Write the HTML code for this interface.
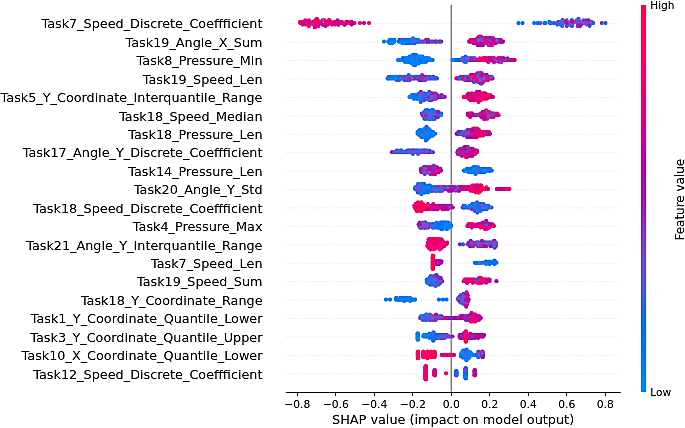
<!DOCTYPE html>
<html lang="en"><head><meta charset="utf-8"><title>SHAP summary plot</title>
<style>
html,body{margin:0;padding:0;background:#fff}
body{width:685px;height:428px;overflow:hidden}
svg{display:block;font-family:"DejaVu Sans","Liberation Sans",sans-serif}
.yl{font-size:12.8px;fill:#0d0d0d;text-anchor:end}
.xt{font-size:10.75px;fill:#0d0d0d;text-anchor:middle}
.xl{font-size:12.83px;fill:#0d0d0d;text-anchor:middle}
.cb{font-size:10.6px;fill:#0d0d0d}
.fv{font-size:11.95px;fill:#0d0d0d;text-anchor:middle}
.gl{stroke:#e3e3e3;stroke-width:.8;stroke-dasharray:1 1.94}
.ax{stroke:#262626;stroke-width:1}
</style></head><body>
<svg width="685" height="428" viewBox="0 0 685 428">
<defs><linearGradient id="cbg" x1="0" y1="1" x2="0" y2="0"><stop offset="0.000" stop-color="#008bfb"/><stop offset="0.064" stop-color="#0082f8"/><stop offset="0.128" stop-color="#0078f3"/><stop offset="0.191" stop-color="#186eec"/><stop offset="0.255" stop-color="#4e62e2"/><stop offset="0.319" stop-color="#6a56d7"/><stop offset="0.383" stop-color="#8047ca"/><stop offset="0.447" stop-color="#9036bb"/><stop offset="0.511" stop-color="#9f21ac"/><stop offset="0.574" stop-color="#b30ca4"/><stop offset="0.638" stop-color="#c5009a"/><stop offset="0.702" stop-color="#d5008f"/><stop offset="0.766" stop-color="#e30083"/><stop offset="0.830" stop-color="#ef0076"/><stop offset="0.894" stop-color="#f80069"/><stop offset="0.957" stop-color="#ff005b"/><stop offset="1" stop-color="#ff0051"/></linearGradient>
<filter id="usm" x="0" y="0" width="685" height="428" filterUnits="userSpaceOnUse" color-interpolation-filters="sRGB"><feGaussianBlur in="SourceGraphic" stdDeviation="0.42" result="s"/><feGaussianBlur in="s" stdDeviation="1.1" result="b"/><feComposite in="s" in2="b" operator="arithmetic" k1="0" k2="1.7" k3="-0.7" k4="0"/></filter></defs>
<g filter="url(#usm)">
<rect width="685" height="428" fill="#fff"/>
<g class="gl"><line x1="286" x2="618.6" y1="23.65" y2="23.65"/><line x1="286" x2="618.6" y1="42.08" y2="42.08"/><line x1="286" x2="618.6" y1="60.51" y2="60.51"/><line x1="286" x2="618.6" y1="78.94" y2="78.94"/><line x1="286" x2="618.6" y1="97.37" y2="97.37"/><line x1="286" x2="618.6" y1="115.80" y2="115.80"/><line x1="286" x2="618.6" y1="134.23" y2="134.23"/><line x1="286" x2="618.6" y1="152.66" y2="152.66"/><line x1="286" x2="618.6" y1="171.09" y2="171.09"/><line x1="286" x2="618.6" y1="189.52" y2="189.52"/><line x1="286" x2="618.6" y1="207.95" y2="207.95"/><line x1="286" x2="618.6" y1="226.38" y2="226.38"/><line x1="286" x2="618.6" y1="244.81" y2="244.81"/><line x1="286" x2="618.6" y1="263.24" y2="263.24"/><line x1="286" x2="618.6" y1="281.67" y2="281.67"/><line x1="286" x2="618.6" y1="300.10" y2="300.10"/><line x1="286" x2="618.6" y1="318.53" y2="318.53"/><line x1="286" x2="618.6" y1="336.96" y2="336.96"/><line x1="286" x2="618.6" y1="355.39" y2="355.39"/><line x1="286" x2="618.6" y1="373.82" y2="373.82"/></g>
<line x1="451.2" x2="451.2" y1="5.0" y2="392.0" stroke="#8c8c8c" stroke-width="1.3"/>
<g id="dots">
<g><circle cx="323.2" cy="24.6" r="2.05" fill="#d00093"/><circle cx="569.2" cy="24.6" r="2.05" fill="#4166e6"/><circle cx="589.6" cy="26.0" r="2.05" fill="#625adb"/><circle cx="582.0" cy="21.7" r="2.05" fill="#8047ca"/><circle cx="360.0" cy="23.1" r="2.10" fill="#eb007a"/><circle cx="549.9" cy="23.1" r="2.05" fill="#186eec"/><circle cx="585.5" cy="23.1" r="2.05" fill="#ba00a0"/><circle cx="344.8" cy="24.6" r="2.05" fill="#ba00a0"/><circle cx="330.8" cy="21.7" r="2.05" fill="#f80069"/><circle cx="566.8" cy="26.0" r="2.05" fill="#9036bb"/><circle cx="329.4" cy="23.1" r="2.05" fill="#da008b"/><circle cx="544.3" cy="23.1" r="2.05" fill="#794cce"/><circle cx="577.6" cy="26.0" r="2.05" fill="#8b3cc0"/><circle cx="565.0" cy="23.1" r="2.05" fill="#008bfb"/><circle cx="566.7" cy="20.2" r="2.05" fill="#794cce"/><circle cx="315.2" cy="20.2" r="2.05" fill="#e30083"/><circle cx="312.0" cy="23.1" r="2.05" fill="#eb007a"/><circle cx="322.4" cy="24.6" r="2.05" fill="#9036bb"/><circle cx="315.5" cy="24.6" r="2.05" fill="#ba00a0"/><circle cx="312.9" cy="21.7" r="2.05" fill="#c5009a"/><circle cx="327.4" cy="21.7" r="2.05" fill="#cb0096"/><circle cx="583.4" cy="20.2" r="2.05" fill="#625adb"/><circle cx="562.4" cy="20.2" r="2.05" fill="#9928b0"/><circle cx="341.8" cy="21.7" r="2.05" fill="#f5006d"/><circle cx="319.9" cy="23.1" r="2.05" fill="#eb007a"/><circle cx="325.8" cy="23.1" r="2.05" fill="#f80069"/><circle cx="307.6" cy="23.1" r="2.05" fill="#df0087"/><circle cx="601.8" cy="23.1" r="2.10" fill="#8047ca"/><circle cx="369.0" cy="23.1" r="2.10" fill="#eb007a"/><circle cx="326.0" cy="21.7" r="2.05" fill="#ef0076"/><circle cx="522.5" cy="23.1" r="2.10" fill="#0078f3"/><circle cx="318.5" cy="26.0" r="2.05" fill="#d5008f"/><circle cx="578.7" cy="20.2" r="2.05" fill="#794cce"/><circle cx="566.8" cy="21.7" r="2.05" fill="#007ff6"/><circle cx="584.4" cy="21.7" r="2.05" fill="#9f21ac"/><circle cx="562.2" cy="26.0" r="2.05" fill="#7251d3"/><circle cx="313.1" cy="24.6" r="2.05" fill="#8b3cc0"/><circle cx="342.7" cy="23.1" r="2.05" fill="#d00093"/><circle cx="578.0" cy="24.6" r="2.05" fill="#7251d3"/><circle cx="309.3" cy="24.6" r="2.05" fill="#da008b"/><circle cx="305.2" cy="20.2" r="2.05" fill="#df0087"/><circle cx="308.5" cy="21.7" r="2.05" fill="#8642c5"/><circle cx="314.9" cy="27.5" r="2.05" fill="#e30083"/><circle cx="553.8" cy="23.1" r="2.05" fill="#186eec"/><circle cx="558.5" cy="21.7" r="2.05" fill="#794cce"/><circle cx="309.3" cy="23.1" r="2.05" fill="#e30083"/><circle cx="571.7" cy="20.2" r="2.05" fill="#4166e6"/><circle cx="587.4" cy="21.7" r="2.05" fill="#6a56d7"/><circle cx="354.5" cy="23.1" r="2.05" fill="#f20072"/><circle cx="586.6" cy="24.6" r="2.05" fill="#007bf5"/><circle cx="574.9" cy="21.7" r="2.05" fill="#952fb5"/><circle cx="572.0" cy="26.0" r="2.05" fill="#0071ee"/><circle cx="324.5" cy="20.2" r="2.05" fill="#ef0076"/><circle cx="308.9" cy="20.2" r="2.05" fill="#eb007a"/><circle cx="321.0" cy="23.1" r="2.05" fill="#c0009d"/><circle cx="581.1" cy="24.6" r="2.05" fill="#a61ca9"/><circle cx="305.5" cy="24.6" r="2.05" fill="#f5006d"/><circle cx="352.8" cy="23.1" r="2.05" fill="#d00093"/><circle cx="580.5" cy="23.1" r="2.05" fill="#595edf"/><circle cx="322.5" cy="20.2" r="2.05" fill="#794cce"/><circle cx="340.8" cy="23.1" r="2.05" fill="#e7007f"/><circle cx="518.5" cy="23.1" r="2.10" fill="#007bf5"/><circle cx="300.2" cy="21.7" r="2.05" fill="#da008b"/><circle cx="580.0" cy="26.0" r="2.05" fill="#b30ca4"/><circle cx="338.1" cy="24.6" r="2.05" fill="#d5008f"/><circle cx="328.0" cy="24.6" r="2.05" fill="#f20072"/><circle cx="316.9" cy="18.8" r="2.05" fill="#d5008f"/><circle cx="334.6" cy="21.7" r="2.05" fill="#e7007f"/><circle cx="586.3" cy="20.2" r="2.05" fill="#9036bb"/><circle cx="593.2" cy="23.1" r="2.05" fill="#0071ee"/><circle cx="551.2" cy="23.1" r="2.05" fill="#595edf"/><circle cx="329.6" cy="20.2" r="2.05" fill="#ef0076"/><circle cx="338.3" cy="23.1" r="2.05" fill="#c5009a"/><circle cx="568.4" cy="24.6" r="2.05" fill="#007bf5"/><circle cx="325.5" cy="26.0" r="2.05" fill="#c5009a"/><circle cx="605.4" cy="23.1" r="2.10" fill="#186eec"/><circle cx="316.1" cy="26.0" r="2.05" fill="#ff0051"/><circle cx="351.7" cy="24.6" r="2.05" fill="#ad15a7"/><circle cx="348.1" cy="21.7" r="2.05" fill="#ff0051"/><circle cx="556.9" cy="23.1" r="2.05" fill="#8642c5"/><circle cx="562.9" cy="24.6" r="2.05" fill="#008bfb"/><circle cx="328.5" cy="20.2" r="2.05" fill="#eb007a"/><circle cx="589.4" cy="23.1" r="2.05" fill="#7251d3"/><circle cx="332.9" cy="23.1" r="2.05" fill="#b30ca4"/><circle cx="317.4" cy="24.6" r="2.05" fill="#da008b"/><circle cx="572.9" cy="23.1" r="2.05" fill="#794cce"/><circle cx="576.5" cy="20.2" r="2.05" fill="#595edf"/><circle cx="572.0" cy="20.2" r="2.05" fill="#625adb"/><circle cx="326.4" cy="23.1" r="2.05" fill="#f80069"/><circle cx="589.6" cy="24.6" r="2.05" fill="#9f21ac"/><circle cx="334.9" cy="24.6" r="2.05" fill="#df0087"/><circle cx="307.7" cy="21.7" r="2.05" fill="#d5008f"/><circle cx="351.6" cy="21.7" r="2.05" fill="#d00093"/><circle cx="577.2" cy="23.1" r="2.05" fill="#7251d3"/><circle cx="340.0" cy="21.7" r="2.05" fill="#f20072"/><circle cx="338.5" cy="24.6" r="2.05" fill="#cb0096"/><circle cx="567.6" cy="23.1" r="2.05" fill="#b30ca4"/><circle cx="308.8" cy="26.0" r="2.05" fill="#ef0076"/><circle cx="332.1" cy="24.6" r="2.05" fill="#e7007f"/><circle cx="346.3" cy="21.7" r="2.05" fill="#c0009d"/><circle cx="545.7" cy="23.1" r="2.05" fill="#007ff6"/><circle cx="300.3" cy="23.1" r="2.05" fill="#d00093"/><circle cx="348.8" cy="23.1" r="2.05" fill="#e30083"/><circle cx="364.0" cy="23.1" r="2.10" fill="#ba00a0"/><circle cx="540.3" cy="23.1" r="2.05" fill="#595edf"/><circle cx="588.6" cy="20.2" r="2.05" fill="#9928b0"/><circle cx="301.9" cy="21.7" r="2.05" fill="#fb0064"/><circle cx="344.3" cy="24.6" r="2.05" fill="#9928b0"/><circle cx="562.8" cy="20.2" r="2.05" fill="#8642c5"/><circle cx="591.8" cy="23.1" r="2.05" fill="#625adb"/><circle cx="534.2" cy="23.1" r="2.05" fill="#007bf5"/><circle cx="565.4" cy="21.7" r="2.05" fill="#c5009a"/><circle cx="591.4" cy="21.7" r="2.05" fill="#6a56d7"/><circle cx="302.6" cy="24.6" r="2.05" fill="#df0087"/><circle cx="549.4" cy="21.7" r="2.05" fill="#0082f8"/><circle cx="337.5" cy="20.2" r="2.05" fill="#ad15a7"/><circle cx="316.2" cy="23.1" r="2.05" fill="#da008b"/><circle cx="569.7" cy="23.1" r="2.05" fill="#8642c5"/><circle cx="572.2" cy="24.6" r="2.05" fill="#625adb"/><circle cx="315.2" cy="21.7" r="2.05" fill="#ff0051"/><circle cx="338.0" cy="21.7" r="2.05" fill="#cb0096"/><circle cx="303.8" cy="23.1" r="2.05" fill="#d00093"/><circle cx="317.9" cy="20.2" r="2.05" fill="#ff0056"/><circle cx="557.3" cy="24.6" r="2.05" fill="#186eec"/><circle cx="561.6" cy="21.7" r="2.05" fill="#008bfb"/><circle cx="347.1" cy="23.1" r="2.05" fill="#f20072"/><circle cx="578.6" cy="18.8" r="2.05" fill="#4e62e2"/><circle cx="583.9" cy="23.1" r="2.05" fill="#794cce"/><circle cx="571.5" cy="21.7" r="2.05" fill="#8642c5"/><circle cx="561.4" cy="23.1" r="2.05" fill="#6a56d7"/><circle cx="537.5" cy="23.1" r="2.05" fill="#0075f1"/><circle cx="572.1" cy="21.7" r="2.05" fill="#c0009d"/><circle cx="320.5" cy="21.7" r="2.05" fill="#ad15a7"/><circle cx="319.6" cy="21.7" r="2.05" fill="#fb0064"/><circle cx="579.4" cy="24.6" r="2.05" fill="#ad15a7"/><circle cx="560.4" cy="24.6" r="2.05" fill="#4e62e2"/><circle cx="578.9" cy="21.7" r="2.05" fill="#8642c5"/></g>
<g><circle cx="490.6" cy="43.3" r="2.05" fill="#e30083"/><circle cx="388.2" cy="41.6" r="2.05" fill="#0082f8"/><circle cx="487.0" cy="38.2" r="2.05" fill="#d00093"/><circle cx="487.0" cy="39.9" r="2.05" fill="#595edf"/><circle cx="417.2" cy="41.6" r="2.05" fill="#8642c5"/><circle cx="410.5" cy="39.9" r="2.05" fill="#008bfb"/><circle cx="404.8" cy="39.9" r="2.05" fill="#008bfb"/><circle cx="469.7" cy="41.6" r="2.05" fill="#ba00a0"/><circle cx="472.4" cy="41.6" r="2.05" fill="#ba00a0"/><circle cx="414.7" cy="39.9" r="2.05" fill="#007bf5"/><circle cx="477.7" cy="43.3" r="2.05" fill="#d00093"/><circle cx="398.7" cy="41.6" r="2.05" fill="#007ff6"/><circle cx="440.0" cy="41.6" r="2.05" fill="#316ae9"/><circle cx="391.2" cy="39.9" r="2.05" fill="#186eec"/><circle cx="411.0" cy="41.6" r="2.05" fill="#186eec"/><circle cx="493.1" cy="43.3" r="2.05" fill="#8047ca"/><circle cx="435.3" cy="41.6" r="2.05" fill="#316ae9"/><circle cx="470.6" cy="39.9" r="2.05" fill="#eb007a"/><circle cx="478.9" cy="41.6" r="2.05" fill="#e7007f"/><circle cx="472.5" cy="39.9" r="2.05" fill="#eb007a"/><circle cx="427.9" cy="39.9" r="2.05" fill="#9928b0"/><circle cx="406.9" cy="43.3" r="2.05" fill="#0085f9"/><circle cx="493.5" cy="38.2" r="2.05" fill="#f5006d"/><circle cx="403.4" cy="41.6" r="2.05" fill="#0088fa"/><circle cx="487.6" cy="39.9" r="2.05" fill="#eb007a"/><circle cx="482.6" cy="41.6" r="2.05" fill="#c5009a"/><circle cx="407.6" cy="43.3" r="2.05" fill="#0075f1"/><circle cx="488.2" cy="43.3" r="2.05" fill="#ff0056"/><circle cx="426.0" cy="39.9" r="2.05" fill="#7251d3"/><circle cx="406.8" cy="41.6" r="2.05" fill="#0082f8"/><circle cx="483.6" cy="38.2" r="2.05" fill="#8642c5"/><circle cx="483.1" cy="45.0" r="2.05" fill="#952fb5"/><circle cx="489.0" cy="41.6" r="2.05" fill="#a61ca9"/><circle cx="492.7" cy="41.6" r="2.05" fill="#ad15a7"/><circle cx="437.2" cy="41.6" r="2.05" fill="#0082f8"/><circle cx="417.7" cy="39.9" r="2.05" fill="#0078f3"/><circle cx="479.4" cy="45.0" r="2.05" fill="#c0009d"/><circle cx="494.9" cy="41.6" r="2.05" fill="#c0009d"/><circle cx="478.5" cy="38.2" r="2.05" fill="#d5008f"/><circle cx="390.9" cy="43.3" r="2.05" fill="#007ff6"/><circle cx="479.9" cy="38.2" r="2.05" fill="#6a56d7"/><circle cx="439.4" cy="41.6" r="2.05" fill="#8b3cc0"/><circle cx="489.9" cy="45.0" r="2.05" fill="#da008b"/><circle cx="429.9" cy="41.6" r="2.05" fill="#952fb5"/><circle cx="408.1" cy="39.9" r="2.05" fill="#186eec"/><circle cx="483.1" cy="43.3" r="2.05" fill="#ba00a0"/><circle cx="482.2" cy="43.3" r="2.05" fill="#a61ca9"/><circle cx="476.1" cy="39.9" r="2.05" fill="#794cce"/><circle cx="407.4" cy="41.6" r="2.05" fill="#008bfb"/><circle cx="485.5" cy="38.2" r="2.05" fill="#c5009a"/><circle cx="441.3" cy="41.6" r="2.05" fill="#8642c5"/><circle cx="498.2" cy="39.9" r="2.05" fill="#ba00a0"/><circle cx="470.7" cy="41.6" r="2.05" fill="#d5008f"/><circle cx="412.8" cy="39.9" r="2.05" fill="#0078f3"/><circle cx="481.9" cy="41.6" r="2.05" fill="#8047ca"/><circle cx="485.7" cy="39.9" r="2.05" fill="#ad15a7"/><circle cx="487.5" cy="41.6" r="2.05" fill="#a61ca9"/><circle cx="499.9" cy="39.9" r="2.05" fill="#9928b0"/><circle cx="427.1" cy="39.9" r="2.05" fill="#8642c5"/><circle cx="405.0" cy="41.6" r="2.05" fill="#008bfb"/><circle cx="482.4" cy="45.0" r="2.05" fill="#9036bb"/><circle cx="418.0" cy="41.6" r="2.05" fill="#952fb5"/><circle cx="480.7" cy="38.2" r="2.05" fill="#952fb5"/><circle cx="495.7" cy="43.3" r="2.05" fill="#ba00a0"/><circle cx="479.1" cy="39.9" r="2.05" fill="#ad15a7"/><circle cx="402.8" cy="39.9" r="2.05" fill="#0085f9"/><circle cx="491.1" cy="38.2" r="2.05" fill="#ff005b"/><circle cx="494.5" cy="43.3" r="2.05" fill="#6a56d7"/><circle cx="492.9" cy="39.9" r="2.05" fill="#a61ca9"/><circle cx="488.1" cy="38.2" r="2.05" fill="#9928b0"/><circle cx="474.4" cy="41.6" r="2.05" fill="#d00093"/><circle cx="394.0" cy="39.9" r="2.05" fill="#007bf5"/><circle cx="473.5" cy="43.3" r="2.05" fill="#9f21ac"/><circle cx="409.8" cy="41.6" r="2.05" fill="#6a56d7"/><circle cx="390.0" cy="41.6" r="2.05" fill="#0085f9"/><circle cx="419.2" cy="41.6" r="2.05" fill="#8642c5"/><circle cx="429.6" cy="41.6" r="2.05" fill="#794cce"/><circle cx="477.8" cy="45.0" r="2.05" fill="#7251d3"/><circle cx="410.8" cy="39.9" r="2.05" fill="#4166e6"/><circle cx="495.1" cy="39.9" r="2.05" fill="#a61ca9"/><circle cx="475.8" cy="41.6" r="2.05" fill="#cb0096"/><circle cx="474.9" cy="43.3" r="2.05" fill="#b30ca4"/><circle cx="389.7" cy="39.9" r="2.05" fill="#008bfb"/><circle cx="394.5" cy="41.6" r="2.05" fill="#007ff6"/><circle cx="390.6" cy="41.6" r="2.05" fill="#0071ee"/><circle cx="483.8" cy="43.3" r="2.05" fill="#b30ca4"/><circle cx="491.5" cy="41.6" r="2.05" fill="#df0087"/><circle cx="479.2" cy="36.5" r="2.05" fill="#df0087"/><circle cx="497.8" cy="41.6" r="2.05" fill="#9036bb"/><circle cx="494.2" cy="41.6" r="2.05" fill="#8b3cc0"/><circle cx="499.0" cy="41.6" r="2.05" fill="#b30ca4"/><circle cx="490.2" cy="41.6" r="2.05" fill="#7251d3"/><circle cx="477.2" cy="38.2" r="2.05" fill="#ad15a7"/><circle cx="399.9" cy="39.9" r="2.05" fill="#4166e6"/><circle cx="391.7" cy="39.9" r="2.05" fill="#0082f8"/><circle cx="477.2" cy="41.6" r="2.05" fill="#a61ca9"/><circle cx="414.8" cy="41.6" r="2.05" fill="#0078f3"/><circle cx="485.2" cy="43.3" r="2.05" fill="#8642c5"/><circle cx="488.8" cy="39.9" r="2.05" fill="#4166e6"/><circle cx="484.7" cy="41.6" r="2.05" fill="#952fb5"/><circle cx="409.2" cy="41.6" r="2.05" fill="#007bf5"/><circle cx="496.8" cy="41.6" r="2.05" fill="#c0009d"/><circle cx="403.8" cy="41.6" r="2.05" fill="#0085f9"/><circle cx="420.9" cy="41.6" r="2.05" fill="#595edf"/><circle cx="479.7" cy="43.3" r="2.05" fill="#952fb5"/><circle cx="482.8" cy="39.9" r="2.05" fill="#ba00a0"/><circle cx="477.8" cy="41.6" r="2.05" fill="#da008b"/><circle cx="402.3" cy="43.3" r="2.05" fill="#0088fa"/><circle cx="469.1" cy="41.6" r="2.05" fill="#d5008f"/><circle cx="424.3" cy="41.6" r="2.05" fill="#a61ca9"/><circle cx="390.0" cy="43.3" r="2.05" fill="#0082f8"/><circle cx="481.1" cy="43.3" r="2.05" fill="#ad15a7"/><circle cx="496.4" cy="39.9" r="2.05" fill="#df0087"/><circle cx="476.1" cy="43.3" r="2.05" fill="#a61ca9"/><circle cx="473.3" cy="41.6" r="2.05" fill="#f5006d"/><circle cx="432.4" cy="41.6" r="2.05" fill="#952fb5"/><circle cx="473.9" cy="39.9" r="2.05" fill="#d00093"/><circle cx="476.7" cy="43.3" r="2.05" fill="#9928b0"/><circle cx="481.3" cy="39.9" r="2.05" fill="#d5008f"/><circle cx="490.0" cy="39.9" r="2.05" fill="#316ae9"/><circle cx="392.8" cy="41.6" r="2.05" fill="#007bf5"/><circle cx="477.6" cy="45.0" r="2.05" fill="#b30ca4"/><circle cx="488.8" cy="43.3" r="2.05" fill="#ba00a0"/><circle cx="413.3" cy="39.9" r="2.05" fill="#008bfb"/><circle cx="394.0" cy="41.6" r="2.05" fill="#0082f8"/><circle cx="384.0" cy="41.6" r="2.10" fill="#0085f9"/><circle cx="414.3" cy="43.3" r="2.05" fill="#0078f3"/><circle cx="474.7" cy="39.9" r="2.05" fill="#c5009a"/><circle cx="491.4" cy="39.9" r="2.05" fill="#8b3cc0"/><circle cx="503.0" cy="41.6" r="2.05" fill="#c0009d"/><circle cx="394.5" cy="39.9" r="2.05" fill="#0085f9"/><circle cx="481.0" cy="36.5" r="2.05" fill="#d5008f"/><circle cx="488.2" cy="45.0" r="2.05" fill="#7251d3"/><circle cx="402.2" cy="39.9" r="2.05" fill="#4166e6"/><circle cx="402.1" cy="41.6" r="2.05" fill="#316ae9"/><circle cx="492.3" cy="38.2" r="2.05" fill="#8642c5"/><circle cx="406.9" cy="39.9" r="2.05" fill="#0078f3"/><circle cx="480.7" cy="41.6" r="2.05" fill="#c0009d"/><circle cx="482.1" cy="38.2" r="2.05" fill="#7251d3"/><circle cx="423.2" cy="41.6" r="2.05" fill="#4166e6"/><circle cx="426.9" cy="41.6" r="2.05" fill="#c0009d"/><circle cx="497.0" cy="39.9" r="2.05" fill="#625adb"/><circle cx="409.4" cy="39.9" r="2.05" fill="#007ff6"/><circle cx="500.7" cy="39.9" r="2.05" fill="#c0009d"/><circle cx="405.8" cy="43.3" r="2.05" fill="#186eec"/><circle cx="480.7" cy="45.0" r="2.05" fill="#c0009d"/><circle cx="477.3" cy="39.9" r="2.05" fill="#df0087"/><circle cx="411.9" cy="41.6" r="2.05" fill="#0078f3"/><circle cx="494.1" cy="43.3" r="2.05" fill="#c0009d"/><circle cx="502.0" cy="41.6" r="2.05" fill="#a61ca9"/><circle cx="399.5" cy="41.6" r="2.05" fill="#007ff6"/><circle cx="409.7" cy="43.3" r="2.05" fill="#007bf5"/><circle cx="478.8" cy="39.9" r="2.05" fill="#7251d3"/><circle cx="484.6" cy="39.9" r="2.05" fill="#0085f9"/><circle cx="490.0" cy="38.2" r="2.05" fill="#df0087"/><circle cx="404.0" cy="43.3" r="2.05" fill="#008bfb"/><circle cx="493.5" cy="39.9" r="2.05" fill="#c5009a"/><circle cx="486.5" cy="41.6" r="2.05" fill="#e7007f"/><circle cx="400.2" cy="41.6" r="2.05" fill="#008bfb"/><circle cx="501.1" cy="41.6" r="2.05" fill="#b30ca4"/><circle cx="413.8" cy="43.3" r="2.05" fill="#595edf"/><circle cx="421.9" cy="41.6" r="2.05" fill="#8047ca"/><circle cx="486.1" cy="43.3" r="2.05" fill="#e30083"/><circle cx="484.1" cy="38.2" r="2.05" fill="#d5008f"/><circle cx="485.2" cy="41.6" r="2.05" fill="#da008b"/><circle cx="492.2" cy="45.0" r="2.05" fill="#f20072"/><circle cx="426.2" cy="41.6" r="2.05" fill="#6a56d7"/><circle cx="416.6" cy="41.6" r="2.05" fill="#0071ee"/><circle cx="436.1" cy="41.6" r="2.05" fill="#794cce"/><circle cx="392.3" cy="43.3" r="2.05" fill="#008bfb"/><circle cx="481.9" cy="39.9" r="2.05" fill="#8047ca"/><circle cx="431.8" cy="41.6" r="2.05" fill="#316ae9"/><circle cx="427.8" cy="41.6" r="2.05" fill="#a61ca9"/><circle cx="413.0" cy="38.2" r="2.05" fill="#0082f8"/><circle cx="415.9" cy="39.9" r="2.05" fill="#6a56d7"/><circle cx="434.6" cy="41.6" r="2.05" fill="#9036bb"/><circle cx="489.3" cy="38.2" r="2.05" fill="#9f21ac"/><circle cx="500.2" cy="41.6" r="2.05" fill="#9f21ac"/><circle cx="491.3" cy="43.3" r="2.05" fill="#cb0096"/><circle cx="399.4" cy="39.9" r="2.05" fill="#0071ee"/><circle cx="413.4" cy="41.6" r="2.05" fill="#595edf"/><circle cx="412.6" cy="43.3" r="2.05" fill="#007ff6"/><circle cx="418.2" cy="39.9" r="2.05" fill="#0082f8"/><circle cx="403.9" cy="39.9" r="2.05" fill="#0078f3"/></g>
<g><circle cx="483.5" cy="60.0" r="2.05" fill="#d00093"/><circle cx="409.5" cy="60.0" r="2.05" fill="#007bf5"/><circle cx="469.8" cy="60.0" r="2.05" fill="#625adb"/><circle cx="401.0" cy="60.0" r="2.05" fill="#0078f3"/><circle cx="503.6" cy="60.0" r="2.05" fill="#c0009d"/><circle cx="482.8" cy="58.3" r="2.05" fill="#fb0064"/><circle cx="413.5" cy="56.6" r="2.05" fill="#0082f8"/><circle cx="481.8" cy="60.0" r="2.05" fill="#ef0076"/><circle cx="465.6" cy="61.7" r="2.05" fill="#007ff6"/><circle cx="420.1" cy="61.7" r="2.05" fill="#0071ee"/><circle cx="411.1" cy="60.0" r="2.05" fill="#008bfb"/><circle cx="472.9" cy="60.0" r="2.05" fill="#595edf"/><circle cx="491.5" cy="60.0" r="2.05" fill="#6a56d7"/><circle cx="501.4" cy="61.7" r="2.05" fill="#ad15a7"/><circle cx="416.0" cy="54.9" r="2.05" fill="#007ff6"/><circle cx="414.9" cy="60.0" r="2.05" fill="#007bf5"/><circle cx="407.2" cy="60.0" r="2.05" fill="#008bfb"/><circle cx="404.7" cy="61.7" r="2.05" fill="#007ff6"/><circle cx="415.1" cy="61.7" r="2.05" fill="#0082f8"/><circle cx="491.4" cy="58.3" r="2.05" fill="#b30ca4"/><circle cx="493.3" cy="60.0" r="2.05" fill="#ba00a0"/><circle cx="412.0" cy="58.3" r="2.05" fill="#0071ee"/><circle cx="410.0" cy="58.3" r="2.05" fill="#007ff6"/><circle cx="503.1" cy="58.3" r="2.05" fill="#9036bb"/><circle cx="498.1" cy="60.0" r="2.05" fill="#9928b0"/><circle cx="414.4" cy="61.7" r="2.05" fill="#0085f9"/><circle cx="507.1" cy="60.0" r="2.05" fill="#a61ca9"/><circle cx="501.1" cy="60.0" r="2.05" fill="#9f21ac"/><circle cx="427.4" cy="58.3" r="2.05" fill="#007ff6"/><circle cx="464.0" cy="60.0" r="2.05" fill="#007ff6"/><circle cx="411.4" cy="61.7" r="2.05" fill="#0071ee"/><circle cx="459.5" cy="60.0" r="2.05" fill="#007ff6"/><circle cx="413.3" cy="58.3" r="2.05" fill="#007bf5"/><circle cx="494.0" cy="58.3" r="2.05" fill="#9928b0"/><circle cx="460.6" cy="60.0" r="2.05" fill="#8047ca"/><circle cx="420.7" cy="61.7" r="2.05" fill="#0088fa"/><circle cx="413.4" cy="58.3" r="2.05" fill="#0088fa"/><circle cx="456.7" cy="60.0" r="2.05" fill="#0075f1"/><circle cx="408.1" cy="61.7" r="2.05" fill="#0075f1"/><circle cx="412.4" cy="56.6" r="2.05" fill="#0078f3"/><circle cx="499.2" cy="60.0" r="2.05" fill="#c5009a"/><circle cx="429.0" cy="60.0" r="2.05" fill="#0085f9"/><circle cx="405.9" cy="60.0" r="2.05" fill="#0075f1"/><circle cx="411.7" cy="63.4" r="2.05" fill="#0082f8"/><circle cx="501.1" cy="58.3" r="2.05" fill="#e30083"/><circle cx="467.0" cy="60.0" r="2.05" fill="#0078f3"/><circle cx="417.1" cy="58.3" r="2.05" fill="#008bfb"/><circle cx="462.9" cy="58.3" r="2.05" fill="#0075f1"/><circle cx="418.3" cy="56.6" r="2.05" fill="#0078f3"/><circle cx="409.7" cy="61.7" r="2.05" fill="#0085f9"/><circle cx="455.4" cy="60.0" r="2.05" fill="#186eec"/><circle cx="499.3" cy="58.3" r="2.05" fill="#c5009a"/><circle cx="502.3" cy="60.0" r="2.05" fill="#8047ca"/><circle cx="492.9" cy="60.0" r="2.05" fill="#e7007f"/><circle cx="417.9" cy="61.7" r="2.05" fill="#007bf5"/><circle cx="513.6" cy="60.0" r="2.05" fill="#d5008f"/><circle cx="506.0" cy="60.0" r="2.05" fill="#d5008f"/><circle cx="511.8" cy="60.0" r="2.05" fill="#ba00a0"/><circle cx="409.8" cy="61.7" r="2.05" fill="#0075f1"/><circle cx="422.8" cy="61.7" r="2.05" fill="#0071ee"/><circle cx="421.9" cy="61.7" r="2.05" fill="#0078f3"/><circle cx="508.2" cy="60.0" r="2.05" fill="#ba00a0"/><circle cx="398.1" cy="60.0" r="2.05" fill="#007bf5"/><circle cx="420.7" cy="58.3" r="2.05" fill="#008bfb"/><circle cx="418.7" cy="60.0" r="2.05" fill="#007ff6"/><circle cx="494.1" cy="58.3" r="2.05" fill="#cb0096"/><circle cx="458.8" cy="60.0" r="2.05" fill="#0075f1"/><circle cx="423.4" cy="60.0" r="2.05" fill="#0071ee"/><circle cx="418.1" cy="61.7" r="2.05" fill="#0082f8"/><circle cx="507.4" cy="58.3" r="2.05" fill="#952fb5"/><circle cx="426.2" cy="61.7" r="2.05" fill="#008bfb"/><circle cx="494.9" cy="61.7" r="2.05" fill="#c5009a"/><circle cx="415.6" cy="58.3" r="2.05" fill="#0085f9"/><circle cx="492.0" cy="58.3" r="2.05" fill="#d5008f"/><circle cx="466.1" cy="60.0" r="2.05" fill="#9f21ac"/><circle cx="463.7" cy="60.0" r="2.05" fill="#0075f1"/><circle cx="462.4" cy="58.3" r="2.05" fill="#0071ee"/><circle cx="419.6" cy="58.3" r="2.05" fill="#008bfb"/><circle cx="487.3" cy="60.0" r="2.05" fill="#ad15a7"/><circle cx="469.7" cy="58.3" r="2.05" fill="#316ae9"/><circle cx="409.5" cy="56.6" r="2.05" fill="#007ff6"/><circle cx="432.7" cy="60.0" r="2.05" fill="#007ff6"/><circle cx="410.3" cy="56.6" r="2.05" fill="#0075f1"/><circle cx="413.9" cy="63.4" r="2.05" fill="#0082f8"/><circle cx="423.9" cy="60.0" r="2.05" fill="#0075f1"/><circle cx="426.6" cy="58.3" r="2.05" fill="#0078f3"/><circle cx="427.6" cy="60.0" r="2.05" fill="#008bfb"/><circle cx="422.6" cy="56.6" r="2.05" fill="#0071ee"/><circle cx="420.9" cy="60.0" r="2.05" fill="#0088fa"/><circle cx="501.8" cy="60.0" r="2.05" fill="#c0009d"/><circle cx="424.4" cy="61.7" r="2.05" fill="#008bfb"/><circle cx="413.7" cy="54.9" r="2.05" fill="#007bf5"/><circle cx="504.7" cy="60.0" r="2.05" fill="#8047ca"/><circle cx="489.7" cy="58.3" r="2.05" fill="#e7007f"/><circle cx="490.1" cy="60.0" r="2.05" fill="#9f21ac"/><circle cx="405.7" cy="61.7" r="2.05" fill="#0082f8"/><circle cx="402.6" cy="60.0" r="2.05" fill="#0085f9"/><circle cx="498.7" cy="61.7" r="2.05" fill="#ba00a0"/><circle cx="468.1" cy="60.0" r="2.05" fill="#4e62e2"/><circle cx="407.0" cy="61.7" r="2.05" fill="#0085f9"/><circle cx="413.6" cy="60.0" r="2.05" fill="#007bf5"/><circle cx="403.8" cy="60.0" r="2.05" fill="#186eec"/><circle cx="416.3" cy="60.0" r="2.05" fill="#0078f3"/><circle cx="425.1" cy="61.7" r="2.05" fill="#007bf5"/><circle cx="425.9" cy="58.3" r="2.05" fill="#007bf5"/><circle cx="427.2" cy="60.0" r="2.05" fill="#007ff6"/><circle cx="495.3" cy="60.0" r="2.05" fill="#b30ca4"/><circle cx="469.3" cy="60.0" r="2.05" fill="#8b3cc0"/><circle cx="399.8" cy="60.0" r="2.05" fill="#0088fa"/><circle cx="419.7" cy="56.6" r="2.05" fill="#0082f8"/><circle cx="464.3" cy="61.7" r="2.05" fill="#7251d3"/><circle cx="415.4" cy="56.6" r="2.05" fill="#007ff6"/><circle cx="495.1" cy="60.0" r="2.05" fill="#794cce"/><circle cx="418.4" cy="58.3" r="2.05" fill="#0085f9"/><circle cx="409.5" cy="58.3" r="2.05" fill="#0082f8"/><circle cx="413.1" cy="54.9" r="2.05" fill="#0078f3"/><circle cx="464.5" cy="58.3" r="2.05" fill="#0078f3"/><circle cx="408.3" cy="60.0" r="2.05" fill="#0078f3"/><circle cx="474.7" cy="60.0" r="2.05" fill="#952fb5"/><circle cx="485.1" cy="60.0" r="2.05" fill="#c5009a"/><circle cx="429.6" cy="60.0" r="2.05" fill="#0082f8"/><circle cx="509.8" cy="60.0" r="2.05" fill="#a61ca9"/><circle cx="514.7" cy="60.0" r="2.05" fill="#cb0096"/><circle cx="422.8" cy="58.3" r="2.05" fill="#186eec"/><circle cx="452.4" cy="60.0" r="2.05" fill="#0088fa"/><circle cx="416.6" cy="56.6" r="2.05" fill="#008bfb"/><circle cx="406.0" cy="58.3" r="2.05" fill="#007bf5"/><circle cx="415.8" cy="61.7" r="2.05" fill="#0085f9"/><circle cx="418.7" cy="63.4" r="2.05" fill="#0082f8"/><circle cx="471.0" cy="58.3" r="2.05" fill="#9928b0"/><circle cx="476.9" cy="60.0" r="2.05" fill="#d00093"/><circle cx="408.4" cy="58.3" r="2.05" fill="#0078f3"/><circle cx="466.3" cy="61.7" r="2.05" fill="#007bf5"/><circle cx="489.2" cy="60.0" r="2.05" fill="#da008b"/><circle cx="500.3" cy="58.3" r="2.05" fill="#d00093"/><circle cx="415.2" cy="63.4" r="2.05" fill="#186eec"/><circle cx="500.8" cy="61.7" r="2.05" fill="#8642c5"/><circle cx="417.2" cy="60.0" r="2.05" fill="#0085f9"/><circle cx="415.5" cy="58.3" r="2.05" fill="#0082f8"/><circle cx="411.6" cy="56.6" r="2.05" fill="#0082f8"/><circle cx="474.9" cy="58.3" r="2.05" fill="#9f21ac"/><circle cx="493.5" cy="61.7" r="2.05" fill="#c5009a"/><circle cx="472.4" cy="58.3" r="2.05" fill="#8b3cc0"/><circle cx="429.2" cy="58.3" r="2.05" fill="#007ff6"/><circle cx="485.3" cy="58.3" r="2.05" fill="#d00093"/><circle cx="476.1" cy="60.0" r="2.05" fill="#c5009a"/><circle cx="488.6" cy="61.7" r="2.05" fill="#c0009d"/><circle cx="503.9" cy="58.3" r="2.05" fill="#ad15a7"/><circle cx="415.4" cy="65.1" r="2.05" fill="#316ae9"/><circle cx="454.0" cy="60.0" r="2.05" fill="#0085f9"/><circle cx="413.9" cy="65.1" r="2.05" fill="#0075f1"/><circle cx="425.7" cy="60.0" r="2.05" fill="#186eec"/><circle cx="486.0" cy="58.3" r="2.05" fill="#e7007f"/><circle cx="417.1" cy="56.6" r="2.05" fill="#0088fa"/><circle cx="422.5" cy="58.3" r="2.05" fill="#008bfb"/><circle cx="402.6" cy="58.3" r="2.05" fill="#0082f8"/><circle cx="412.7" cy="63.4" r="2.05" fill="#0088fa"/><circle cx="431.6" cy="60.0" r="2.05" fill="#007bf5"/><circle cx="484.7" cy="60.0" r="2.05" fill="#ff0056"/><circle cx="404.3" cy="60.0" r="2.05" fill="#0082f8"/><circle cx="405.1" cy="58.3" r="2.05" fill="#0085f9"/><circle cx="457.9" cy="60.0" r="2.05" fill="#186eec"/><circle cx="480.5" cy="60.0" r="2.05" fill="#fb0064"/><circle cx="420.8" cy="56.6" r="2.05" fill="#008bfb"/><circle cx="483.8" cy="58.3" r="2.05" fill="#ff005b"/><circle cx="487.0" cy="60.0" r="2.05" fill="#d5008f"/><circle cx="424.8" cy="58.3" r="2.05" fill="#0082f8"/><circle cx="479.8" cy="58.3" r="2.05" fill="#eb007a"/><circle cx="415.6" cy="63.4" r="2.05" fill="#0085f9"/><circle cx="479.0" cy="60.0" r="2.05" fill="#eb007a"/><circle cx="461.5" cy="60.0" r="2.05" fill="#625adb"/><circle cx="406.6" cy="58.3" r="2.05" fill="#007ff6"/><circle cx="474.0" cy="58.3" r="2.05" fill="#6a56d7"/><circle cx="496.8" cy="60.0" r="2.05" fill="#8047ca"/><circle cx="412.5" cy="60.0" r="2.05" fill="#4166e6"/><circle cx="478.8" cy="60.0" r="2.05" fill="#ef0076"/><circle cx="467.8" cy="58.3" r="2.05" fill="#595edf"/><circle cx="410.8" cy="60.0" r="2.05" fill="#0088fa"/><circle cx="465.7" cy="58.3" r="2.05" fill="#8b3cc0"/><circle cx="488.1" cy="58.3" r="2.05" fill="#cb0096"/><circle cx="488.7" cy="58.3" r="2.05" fill="#cb0096"/><circle cx="421.5" cy="60.0" r="2.05" fill="#0082f8"/><circle cx="510.6" cy="60.0" r="2.05" fill="#9928b0"/><circle cx="465.6" cy="56.6" r="2.05" fill="#186eec"/><circle cx="474.2" cy="60.0" r="2.05" fill="#8047ca"/><circle cx="403.1" cy="58.3" r="2.05" fill="#0075f1"/><circle cx="412.3" cy="61.7" r="2.05" fill="#0085f9"/><circle cx="471.7" cy="60.0" r="2.05" fill="#9928b0"/><circle cx="467.0" cy="58.3" r="2.05" fill="#625adb"/><circle cx="488.1" cy="61.7" r="2.05" fill="#df0087"/><circle cx="414.6" cy="54.9" r="2.05" fill="#186eec"/><circle cx="420.2" cy="60.0" r="2.05" fill="#0075f1"/><circle cx="497.9" cy="58.3" r="2.05" fill="#d5008f"/></g>
<g><circle cx="408.6" cy="80.1" r="2.05" fill="#a61ca9"/><circle cx="463.4" cy="76.7" r="2.05" fill="#8642c5"/><circle cx="479.0" cy="76.7" r="2.05" fill="#df0087"/><circle cx="419.2" cy="78.4" r="2.05" fill="#008bfb"/><circle cx="387.6" cy="78.4" r="2.05" fill="#4e62e2"/><circle cx="400.0" cy="78.4" r="2.05" fill="#0071ee"/><circle cx="423.3" cy="78.4" r="2.05" fill="#4e62e2"/><circle cx="407.3" cy="78.4" r="2.05" fill="#0071ee"/><circle cx="465.9" cy="78.4" r="2.05" fill="#d00093"/><circle cx="396.9" cy="80.1" r="2.05" fill="#9036bb"/><circle cx="404.4" cy="78.4" r="2.05" fill="#4166e6"/><circle cx="476.1" cy="76.7" r="2.05" fill="#c0009d"/><circle cx="481.5" cy="83.5" r="2.05" fill="#625adb"/><circle cx="474.8" cy="78.4" r="2.05" fill="#6a56d7"/><circle cx="475.1" cy="75.0" r="2.05" fill="#952fb5"/><circle cx="484.7" cy="80.1" r="2.05" fill="#f20072"/><circle cx="423.8" cy="78.4" r="2.05" fill="#b30ca4"/><circle cx="409.2" cy="76.7" r="2.05" fill="#595edf"/><circle cx="461.4" cy="78.4" r="2.05" fill="#ff0051"/><circle cx="473.3" cy="78.4" r="2.05" fill="#0078f3"/><circle cx="479.0" cy="78.4" r="2.05" fill="#ff0056"/><circle cx="401.3" cy="78.4" r="2.05" fill="#007bf5"/><circle cx="465.7" cy="80.1" r="2.05" fill="#9f21ac"/><circle cx="393.3" cy="76.7" r="2.05" fill="#007bf5"/><circle cx="420.5" cy="76.7" r="2.05" fill="#595edf"/><circle cx="397.6" cy="78.4" r="2.05" fill="#0071ee"/><circle cx="479.4" cy="80.1" r="2.05" fill="#4e62e2"/><circle cx="483.9" cy="76.7" r="2.05" fill="#d5008f"/><circle cx="481.7" cy="78.4" r="2.05" fill="#ba00a0"/><circle cx="426.8" cy="78.4" r="2.05" fill="#794cce"/><circle cx="489.2" cy="78.4" r="2.05" fill="#8642c5"/><circle cx="466.8" cy="78.4" r="2.05" fill="#595edf"/><circle cx="480.7" cy="73.3" r="2.05" fill="#c5009a"/><circle cx="484.5" cy="80.1" r="2.05" fill="#9928b0"/><circle cx="467.6" cy="76.7" r="2.05" fill="#0071ee"/><circle cx="485.0" cy="76.7" r="2.05" fill="#ff0056"/><circle cx="471.4" cy="78.4" r="2.05" fill="#ba00a0"/><circle cx="468.4" cy="76.7" r="2.05" fill="#cb0096"/><circle cx="389.0" cy="76.7" r="2.05" fill="#9036bb"/><circle cx="471.6" cy="80.1" r="2.05" fill="#794cce"/><circle cx="394.6" cy="78.4" r="2.05" fill="#794cce"/><circle cx="409.5" cy="80.1" r="2.05" fill="#9f21ac"/><circle cx="464.2" cy="76.7" r="2.05" fill="#ff0056"/><circle cx="410.0" cy="76.7" r="2.05" fill="#4e62e2"/><circle cx="485.7" cy="75.0" r="2.05" fill="#9928b0"/><circle cx="483.3" cy="75.0" r="2.05" fill="#8642c5"/><circle cx="490.9" cy="78.4" r="2.05" fill="#cb0096"/><circle cx="428.6" cy="78.4" r="2.05" fill="#595edf"/><circle cx="418.3" cy="78.4" r="2.05" fill="#0071ee"/><circle cx="474.8" cy="76.7" r="2.05" fill="#da008b"/><circle cx="421.9" cy="76.7" r="2.05" fill="#8047ca"/><circle cx="421.9" cy="78.4" r="2.05" fill="#794cce"/><circle cx="414.3" cy="78.4" r="2.05" fill="#316ae9"/><circle cx="486.5" cy="76.7" r="2.05" fill="#fd005f"/><circle cx="472.9" cy="78.4" r="2.05" fill="#cb0096"/><circle cx="423.1" cy="80.1" r="2.05" fill="#4e62e2"/><circle cx="420.0" cy="78.4" r="2.05" fill="#7251d3"/><circle cx="404.3" cy="80.1" r="2.05" fill="#316ae9"/><circle cx="478.4" cy="81.8" r="2.05" fill="#eb007a"/><circle cx="487.3" cy="80.1" r="2.05" fill="#8b3cc0"/><circle cx="429.8" cy="76.7" r="2.05" fill="#007bf5"/><circle cx="473.6" cy="75.0" r="2.05" fill="#eb007a"/><circle cx="479.5" cy="76.7" r="2.05" fill="#d5008f"/><circle cx="461.5" cy="78.4" r="2.05" fill="#595edf"/><circle cx="414.6" cy="76.7" r="2.05" fill="#8047ca"/><circle cx="404.1" cy="76.7" r="2.05" fill="#0078f3"/><circle cx="472.8" cy="80.1" r="2.05" fill="#9928b0"/><circle cx="423.7" cy="76.7" r="2.05" fill="#316ae9"/><circle cx="470.7" cy="75.0" r="2.05" fill="#8047ca"/><circle cx="428.9" cy="76.7" r="2.05" fill="#316ae9"/><circle cx="402.9" cy="76.7" r="2.05" fill="#595edf"/><circle cx="477.0" cy="75.0" r="2.05" fill="#c5009a"/><circle cx="492.6" cy="78.4" r="2.05" fill="#9928b0"/><circle cx="396.5" cy="78.4" r="2.05" fill="#316ae9"/><circle cx="421.8" cy="80.1" r="2.05" fill="#9036bb"/><circle cx="476.3" cy="78.4" r="2.05" fill="#7251d3"/><circle cx="420.6" cy="78.4" r="2.05" fill="#7251d3"/><circle cx="477.0" cy="81.8" r="2.05" fill="#7251d3"/><circle cx="411.0" cy="76.7" r="2.05" fill="#0088fa"/><circle cx="389.1" cy="78.4" r="2.05" fill="#0075f1"/><circle cx="483.5" cy="81.8" r="2.05" fill="#8b3cc0"/><circle cx="473.8" cy="81.8" r="2.05" fill="#da008b"/><circle cx="397.8" cy="76.7" r="2.05" fill="#0071ee"/><circle cx="471.7" cy="76.7" r="2.05" fill="#cb0096"/><circle cx="425.2" cy="78.4" r="2.05" fill="#0078f3"/><circle cx="425.4" cy="76.7" r="2.05" fill="#d00093"/><circle cx="482.9" cy="80.1" r="2.05" fill="#9036bb"/><circle cx="394.1" cy="78.4" r="2.05" fill="#8047ca"/><circle cx="458.7" cy="78.4" r="2.05" fill="#d5008f"/><circle cx="477.2" cy="73.3" r="2.05" fill="#cb0096"/><circle cx="425.2" cy="80.1" r="2.05" fill="#794cce"/><circle cx="488.6" cy="78.4" r="2.05" fill="#ff0051"/><circle cx="413.3" cy="76.7" r="2.05" fill="#0071ee"/><circle cx="473.2" cy="76.7" r="2.05" fill="#ba00a0"/><circle cx="399.1" cy="76.7" r="2.05" fill="#7251d3"/><circle cx="408.7" cy="76.7" r="2.05" fill="#0082f8"/><circle cx="418.8" cy="76.7" r="2.05" fill="#cb0096"/><circle cx="473.8" cy="80.1" r="2.05" fill="#eb007a"/><circle cx="479.8" cy="75.0" r="2.05" fill="#8047ca"/><circle cx="488.0" cy="80.1" r="2.05" fill="#c5009a"/><circle cx="483.5" cy="76.7" r="2.05" fill="#d00093"/><circle cx="463.7" cy="78.4" r="2.05" fill="#7251d3"/><circle cx="412.4" cy="76.7" r="2.05" fill="#0085f9"/><circle cx="425.8" cy="76.7" r="2.05" fill="#a61ca9"/><circle cx="433.0" cy="78.4" r="2.05" fill="#625adb"/><circle cx="467.6" cy="80.1" r="2.05" fill="#ba00a0"/><circle cx="465.7" cy="78.4" r="2.05" fill="#da008b"/><circle cx="390.4" cy="76.7" r="2.05" fill="#595edf"/><circle cx="395.8" cy="78.4" r="2.05" fill="#008bfb"/><circle cx="469.3" cy="78.4" r="2.05" fill="#4e62e2"/><circle cx="481.6" cy="83.5" r="2.05" fill="#da008b"/><circle cx="400.5" cy="76.7" r="2.05" fill="#007ff6"/><circle cx="399.5" cy="76.7" r="2.05" fill="#625adb"/><circle cx="490.4" cy="76.7" r="2.05" fill="#fd005f"/><circle cx="465.8" cy="76.7" r="2.05" fill="#e7007f"/><circle cx="489.0" cy="76.7" r="2.05" fill="#e7007f"/><circle cx="481.0" cy="75.0" r="2.05" fill="#794cce"/><circle cx="475.0" cy="80.1" r="2.05" fill="#8642c5"/><circle cx="402.6" cy="78.4" r="2.05" fill="#008bfb"/><circle cx="481.4" cy="76.7" r="2.05" fill="#da008b"/><circle cx="408.5" cy="78.4" r="2.05" fill="#595edf"/><circle cx="415.4" cy="78.4" r="2.05" fill="#9036bb"/><circle cx="395.5" cy="76.7" r="2.05" fill="#4166e6"/><circle cx="480.3" cy="83.5" r="2.05" fill="#4166e6"/><circle cx="472.1" cy="75.0" r="2.05" fill="#c0009d"/><circle cx="420.4" cy="76.7" r="2.05" fill="#9f21ac"/><circle cx="391.2" cy="78.4" r="2.05" fill="#4166e6"/><circle cx="469.4" cy="80.1" r="2.05" fill="#4166e6"/><circle cx="470.8" cy="80.1" r="2.05" fill="#eb007a"/><circle cx="474.2" cy="81.8" r="2.05" fill="#0071ee"/><circle cx="479.1" cy="73.3" r="2.05" fill="#4e62e2"/><circle cx="462.9" cy="78.4" r="2.05" fill="#c0009d"/><circle cx="407.8" cy="80.1" r="2.05" fill="#008bfb"/><circle cx="477.3" cy="76.7" r="2.05" fill="#186eec"/><circle cx="491.5" cy="78.4" r="2.05" fill="#cb0096"/><circle cx="431.3" cy="78.4" r="2.05" fill="#8047ca"/><circle cx="477.1" cy="76.7" r="2.05" fill="#da008b"/><circle cx="417.4" cy="76.7" r="2.05" fill="#9036bb"/><circle cx="486.8" cy="75.0" r="2.05" fill="#b30ca4"/><circle cx="419.2" cy="80.1" r="2.05" fill="#8b3cc0"/><circle cx="486.5" cy="80.1" r="2.05" fill="#eb007a"/><circle cx="429.1" cy="78.4" r="2.05" fill="#9f21ac"/><circle cx="482.0" cy="73.3" r="2.05" fill="#6a56d7"/><circle cx="468.1" cy="80.1" r="2.05" fill="#9928b0"/><circle cx="399.1" cy="80.1" r="2.05" fill="#0075f1"/><circle cx="436.3" cy="78.4" r="2.05" fill="#6a56d7"/><circle cx="481.6" cy="81.8" r="2.05" fill="#f80069"/><circle cx="388.0" cy="78.4" r="2.05" fill="#0082f8"/><circle cx="476.2" cy="78.4" r="2.05" fill="#ba00a0"/><circle cx="483.4" cy="78.4" r="2.05" fill="#316ae9"/><circle cx="464.7" cy="76.7" r="2.05" fill="#0075f1"/><circle cx="481.0" cy="81.8" r="2.05" fill="#c5009a"/><circle cx="470.2" cy="76.7" r="2.05" fill="#d5008f"/><circle cx="479.8" cy="81.8" r="2.05" fill="#d00093"/><circle cx="491.7" cy="76.7" r="2.05" fill="#595edf"/><circle cx="406.0" cy="78.4" r="2.05" fill="#794cce"/><circle cx="464.7" cy="80.1" r="2.05" fill="#8642c5"/><circle cx="433.5" cy="78.4" r="2.05" fill="#0085f9"/><circle cx="416.1" cy="76.7" r="2.05" fill="#4e62e2"/><circle cx="436.9" cy="78.4" r="2.05" fill="#186eec"/><circle cx="404.8" cy="78.4" r="2.05" fill="#8642c5"/><circle cx="396.2" cy="76.7" r="2.05" fill="#008bfb"/><circle cx="479.7" cy="78.4" r="2.05" fill="#794cce"/><circle cx="427.2" cy="78.4" r="2.05" fill="#7251d3"/><circle cx="485.3" cy="78.4" r="2.05" fill="#7251d3"/><circle cx="480.1" cy="73.3" r="2.05" fill="#8b3cc0"/><circle cx="487.7" cy="76.7" r="2.05" fill="#952fb5"/><circle cx="487.9" cy="76.7" r="2.05" fill="#9036bb"/><circle cx="399.1" cy="78.4" r="2.05" fill="#186eec"/><circle cx="434.6" cy="78.4" r="2.05" fill="#0075f1"/><circle cx="471.3" cy="75.0" r="2.05" fill="#c5009a"/><circle cx="481.9" cy="75.0" r="2.05" fill="#c0009d"/><circle cx="476.0" cy="80.1" r="2.05" fill="#e7007f"/><circle cx="417.1" cy="78.4" r="2.05" fill="#a61ca9"/><circle cx="460.6" cy="76.7" r="2.05" fill="#8b3cc0"/><circle cx="430.6" cy="78.4" r="2.05" fill="#316ae9"/><circle cx="456.4" cy="78.4" r="2.05" fill="#c5009a"/><circle cx="458.2" cy="78.4" r="2.05" fill="#b30ca4"/><circle cx="401.5" cy="78.4" r="2.05" fill="#4e62e2"/><circle cx="411.5" cy="78.4" r="2.05" fill="#0075f1"/><circle cx="481.9" cy="80.1" r="2.05" fill="#e30083"/><circle cx="477.5" cy="78.4" r="2.05" fill="#794cce"/><circle cx="433.6" cy="76.7" r="2.05" fill="#316ae9"/><circle cx="413.2" cy="78.4" r="2.05" fill="#c0009d"/><circle cx="420.3" cy="80.1" r="2.05" fill="#9928b0"/><circle cx="468.9" cy="76.7" r="2.05" fill="#6a56d7"/><circle cx="470.5" cy="78.4" r="2.05" fill="#7251d3"/><circle cx="392.8" cy="78.4" r="2.05" fill="#0082f8"/><circle cx="481.2" cy="78.4" r="2.05" fill="#f5006d"/><circle cx="410.5" cy="78.4" r="2.05" fill="#008bfb"/><circle cx="422.1" cy="75.0" r="2.05" fill="#8642c5"/><circle cx="408.7" cy="75.0" r="2.05" fill="#4166e6"/><circle cx="432.9" cy="76.7" r="2.05" fill="#8047ca"/><circle cx="468.6" cy="78.4" r="2.05" fill="#cb0096"/><circle cx="395.1" cy="76.7" r="2.05" fill="#008bfb"/><circle cx="487.1" cy="78.4" r="2.05" fill="#9036bb"/><circle cx="423.1" cy="76.7" r="2.05" fill="#9928b0"/><circle cx="479.3" cy="80.1" r="2.05" fill="#4e62e2"/><circle cx="482.3" cy="76.7" r="2.05" fill="#c0009d"/><circle cx="472.8" cy="76.7" r="2.05" fill="#f20072"/><circle cx="407.4" cy="76.7" r="2.05" fill="#316ae9"/><circle cx="486.7" cy="78.4" r="2.05" fill="#e30083"/><circle cx="478.5" cy="75.0" r="2.05" fill="#9036bb"/><circle cx="477.9" cy="80.1" r="2.05" fill="#8047ca"/><circle cx="406.3" cy="80.1" r="2.05" fill="#8642c5"/><circle cx="483.8" cy="78.4" r="2.05" fill="#6a56d7"/><circle cx="462.5" cy="76.7" r="2.05" fill="#ff0051"/><circle cx="459.8" cy="78.4" r="2.05" fill="#0071ee"/><circle cx="480.6" cy="80.1" r="2.05" fill="#6a56d7"/><circle cx="477.0" cy="80.1" r="2.05" fill="#f20072"/><circle cx="406.0" cy="76.7" r="2.05" fill="#4166e6"/><circle cx="412.3" cy="78.4" r="2.05" fill="#794cce"/><circle cx="416.5" cy="76.7" r="2.05" fill="#316ae9"/><circle cx="390.4" cy="78.4" r="2.05" fill="#0082f8"/><circle cx="478.3" cy="75.0" r="2.05" fill="#9036bb"/><circle cx="408.9" cy="78.4" r="2.05" fill="#952fb5"/></g>
<g><circle cx="418.3" cy="96.9" r="2.05" fill="#8047ca"/><circle cx="485.4" cy="95.2" r="2.05" fill="#e30083"/><circle cx="468.4" cy="98.6" r="2.05" fill="#d5008f"/><circle cx="431.5" cy="96.9" r="2.05" fill="#794cce"/><circle cx="418.9" cy="93.5" r="2.05" fill="#008bfb"/><circle cx="477.4" cy="98.6" r="2.05" fill="#c5009a"/><circle cx="472.4" cy="96.9" r="2.05" fill="#f20072"/><circle cx="484.3" cy="93.5" r="2.05" fill="#ba00a0"/><circle cx="466.0" cy="96.9" r="2.05" fill="#d5008f"/><circle cx="478.6" cy="102.0" r="2.05" fill="#e30083"/><circle cx="477.1" cy="96.9" r="2.05" fill="#f20072"/><circle cx="476.3" cy="95.2" r="2.05" fill="#d5008f"/><circle cx="435.7" cy="93.5" r="2.05" fill="#8642c5"/><circle cx="470.2" cy="98.6" r="2.05" fill="#eb007a"/><circle cx="468.7" cy="96.9" r="2.05" fill="#cb0096"/><circle cx="441.1" cy="95.2" r="2.05" fill="#8642c5"/><circle cx="433.2" cy="95.2" r="2.05" fill="#9f21ac"/><circle cx="410.5" cy="96.9" r="2.05" fill="#0082f8"/><circle cx="418.9" cy="96.9" r="2.05" fill="#6a56d7"/><circle cx="420.6" cy="96.9" r="2.05" fill="#4166e6"/><circle cx="413.7" cy="98.6" r="2.05" fill="#4166e6"/><circle cx="417.0" cy="96.9" r="2.05" fill="#007ff6"/><circle cx="467.9" cy="95.2" r="2.05" fill="#952fb5"/><circle cx="423.4" cy="98.6" r="2.05" fill="#7251d3"/><circle cx="426.8" cy="98.6" r="2.05" fill="#595edf"/><circle cx="432.1" cy="98.6" r="2.05" fill="#ad15a7"/><circle cx="428.3" cy="93.5" r="2.05" fill="#6a56d7"/><circle cx="433.5" cy="98.6" r="2.05" fill="#9928b0"/><circle cx="476.7" cy="98.6" r="2.05" fill="#8642c5"/><circle cx="493.0" cy="96.9" r="2.05" fill="#df0087"/><circle cx="422.8" cy="93.5" r="2.05" fill="#7251d3"/><circle cx="424.1" cy="100.3" r="2.05" fill="#4166e6"/><circle cx="479.2" cy="93.5" r="2.05" fill="#c5009a"/><circle cx="472.1" cy="95.2" r="2.05" fill="#f20072"/><circle cx="441.4" cy="96.9" r="2.05" fill="#952fb5"/><circle cx="428.9" cy="95.2" r="2.05" fill="#7251d3"/><circle cx="474.8" cy="98.6" r="2.05" fill="#b30ca4"/><circle cx="427.4" cy="95.2" r="2.05" fill="#b30ca4"/><circle cx="484.3" cy="96.9" r="2.05" fill="#e30083"/><circle cx="422.7" cy="95.2" r="2.05" fill="#8642c5"/><circle cx="429.3" cy="91.8" r="2.05" fill="#4e62e2"/><circle cx="416.6" cy="98.6" r="2.05" fill="#007ff6"/><circle cx="431.2" cy="100.3" r="2.05" fill="#6a56d7"/><circle cx="473.8" cy="96.9" r="2.05" fill="#d00093"/><circle cx="429.8" cy="93.5" r="2.05" fill="#8b3cc0"/><circle cx="489.1" cy="96.9" r="2.05" fill="#ad15a7"/><circle cx="485.9" cy="96.9" r="2.05" fill="#f20072"/><circle cx="475.4" cy="98.6" r="2.05" fill="#c5009a"/><circle cx="415.0" cy="96.9" r="2.05" fill="#0078f3"/><circle cx="431.9" cy="93.5" r="2.05" fill="#8642c5"/><circle cx="420.4" cy="93.5" r="2.05" fill="#6a56d7"/><circle cx="435.2" cy="95.2" r="2.05" fill="#a61ca9"/><circle cx="476.1" cy="96.9" r="2.05" fill="#c0009d"/><circle cx="481.8" cy="96.9" r="2.05" fill="#eb007a"/><circle cx="477.2" cy="93.5" r="2.05" fill="#ff0051"/><circle cx="434.1" cy="98.6" r="2.05" fill="#952fb5"/><circle cx="430.7" cy="100.3" r="2.05" fill="#9f21ac"/><circle cx="471.0" cy="93.5" r="2.05" fill="#f20072"/><circle cx="420.7" cy="100.3" r="2.05" fill="#4166e6"/><circle cx="472.8" cy="95.2" r="2.05" fill="#a61ca9"/><circle cx="469.8" cy="95.2" r="2.05" fill="#f5006d"/><circle cx="477.0" cy="91.8" r="2.05" fill="#d5008f"/><circle cx="432.0" cy="95.2" r="2.05" fill="#9928b0"/><circle cx="467.8" cy="96.9" r="2.05" fill="#f80069"/><circle cx="421.1" cy="93.5" r="2.05" fill="#7251d3"/><circle cx="470.6" cy="100.3" r="2.05" fill="#cb0096"/><circle cx="473.5" cy="100.3" r="2.05" fill="#cb0096"/><circle cx="434.9" cy="98.6" r="2.05" fill="#ad15a7"/><circle cx="469.9" cy="96.9" r="2.05" fill="#fb0064"/><circle cx="422.2" cy="96.9" r="2.05" fill="#595edf"/><circle cx="479.6" cy="98.6" r="2.05" fill="#ff005b"/><circle cx="481.5" cy="93.5" r="2.05" fill="#da008b"/><circle cx="472.0" cy="93.5" r="2.05" fill="#f20072"/><circle cx="474.6" cy="96.9" r="2.05" fill="#e7007f"/><circle cx="411.2" cy="96.9" r="2.05" fill="#007bf5"/><circle cx="477.7" cy="93.5" r="2.05" fill="#e30083"/><circle cx="468.9" cy="95.2" r="2.05" fill="#7251d3"/><circle cx="433.9" cy="96.9" r="2.05" fill="#8b3cc0"/><circle cx="475.3" cy="93.5" r="2.05" fill="#ef0076"/><circle cx="486.3" cy="96.9" r="2.05" fill="#cb0096"/><circle cx="423.2" cy="96.9" r="2.05" fill="#794cce"/><circle cx="434.1" cy="93.5" r="2.05" fill="#9036bb"/><circle cx="484.7" cy="98.6" r="2.05" fill="#cb0096"/><circle cx="485.3" cy="98.6" r="2.05" fill="#f5006d"/><circle cx="436.4" cy="96.9" r="2.05" fill="#794cce"/><circle cx="443.2" cy="96.9" r="2.05" fill="#625adb"/><circle cx="479.8" cy="95.2" r="2.05" fill="#a61ca9"/><circle cx="444.7" cy="96.9" r="2.05" fill="#a61ca9"/><circle cx="431.0" cy="95.2" r="2.05" fill="#a61ca9"/><circle cx="480.9" cy="100.3" r="2.05" fill="#ff0051"/><circle cx="471.3" cy="96.9" r="2.05" fill="#d00093"/><circle cx="480.1" cy="100.3" r="2.05" fill="#eb007a"/><circle cx="428.0" cy="95.2" r="2.05" fill="#0075f1"/><circle cx="482.7" cy="95.2" r="2.05" fill="#ff0051"/><circle cx="491.7" cy="96.9" r="2.05" fill="#e30083"/><circle cx="428.3" cy="98.6" r="2.05" fill="#8b3cc0"/><circle cx="477.0" cy="100.3" r="2.05" fill="#ff0051"/><circle cx="415.2" cy="95.2" r="2.05" fill="#007bf5"/><circle cx="411.5" cy="95.2" r="2.05" fill="#0088fa"/><circle cx="414.2" cy="98.6" r="2.05" fill="#0078f3"/><circle cx="485.7" cy="93.5" r="2.05" fill="#fb0064"/><circle cx="436.2" cy="98.6" r="2.05" fill="#8047ca"/><circle cx="416.3" cy="96.9" r="2.05" fill="#007bf5"/><circle cx="472.1" cy="98.6" r="2.05" fill="#ad15a7"/><circle cx="430.1" cy="96.9" r="2.05" fill="#952fb5"/><circle cx="420.8" cy="95.2" r="2.05" fill="#0088fa"/><circle cx="426.2" cy="96.9" r="2.05" fill="#8047ca"/><circle cx="477.4" cy="91.8" r="2.05" fill="#c0009d"/><circle cx="417.2" cy="98.6" r="2.05" fill="#0078f3"/><circle cx="433.1" cy="93.5" r="2.05" fill="#8047ca"/><circle cx="482.9" cy="93.5" r="2.05" fill="#a61ca9"/><circle cx="487.0" cy="98.6" r="2.05" fill="#ef0076"/><circle cx="434.2" cy="95.2" r="2.05" fill="#ba00a0"/><circle cx="478.1" cy="96.9" r="2.05" fill="#c0009d"/><circle cx="423.8" cy="95.2" r="2.05" fill="#794cce"/><circle cx="463.6" cy="96.9" r="2.05" fill="#fd005f"/><circle cx="473.2" cy="93.5" r="2.05" fill="#ef0076"/><circle cx="425.2" cy="98.6" r="2.05" fill="#8642c5"/><circle cx="423.8" cy="93.5" r="2.05" fill="#794cce"/><circle cx="435.4" cy="96.9" r="2.05" fill="#8b3cc0"/><circle cx="418.4" cy="95.2" r="2.05" fill="#186eec"/><circle cx="475.2" cy="95.2" r="2.05" fill="#9036bb"/><circle cx="425.3" cy="95.2" r="2.05" fill="#316ae9"/><circle cx="479.5" cy="91.8" r="2.05" fill="#ef0076"/><circle cx="478.1" cy="95.2" r="2.05" fill="#d5008f"/><circle cx="467.1" cy="95.2" r="2.05" fill="#9036bb"/><circle cx="433.0" cy="96.9" r="2.05" fill="#9036bb"/><circle cx="420.8" cy="102.0" r="2.05" fill="#4166e6"/><circle cx="426.4" cy="98.6" r="2.05" fill="#8642c5"/><circle cx="477.2" cy="100.3" r="2.05" fill="#e30083"/><circle cx="473.8" cy="95.2" r="2.05" fill="#952fb5"/><circle cx="487.5" cy="95.2" r="2.05" fill="#f20072"/><circle cx="480.8" cy="98.6" r="2.05" fill="#e30083"/><circle cx="414.5" cy="95.2" r="2.05" fill="#4e62e2"/><circle cx="422.4" cy="100.3" r="2.05" fill="#8642c5"/><circle cx="424.5" cy="96.9" r="2.05" fill="#8642c5"/><circle cx="423.7" cy="98.6" r="2.05" fill="#6a56d7"/><circle cx="482.2" cy="98.6" r="2.05" fill="#f80069"/><circle cx="484.0" cy="96.9" r="2.05" fill="#f20072"/><circle cx="478.8" cy="95.2" r="2.05" fill="#fb0064"/><circle cx="478.2" cy="100.3" r="2.05" fill="#e7007f"/><circle cx="426.9" cy="96.9" r="2.05" fill="#7251d3"/><circle cx="423.3" cy="100.3" r="2.05" fill="#0075f1"/><circle cx="429.7" cy="98.6" r="2.05" fill="#8047ca"/><circle cx="489.8" cy="96.9" r="2.05" fill="#ff005b"/><circle cx="441.9" cy="95.2" r="2.05" fill="#a61ca9"/><circle cx="468.3" cy="93.5" r="2.05" fill="#ad15a7"/><circle cx="427.8" cy="96.9" r="2.05" fill="#4e62e2"/><circle cx="473.4" cy="98.6" r="2.05" fill="#ff005b"/><circle cx="467.1" cy="96.9" r="2.05" fill="#d00093"/><circle cx="478.8" cy="96.9" r="2.05" fill="#fb0064"/><circle cx="421.9" cy="98.6" r="2.05" fill="#8b3cc0"/><circle cx="436.1" cy="95.2" r="2.05" fill="#7251d3"/><circle cx="478.9" cy="93.5" r="2.05" fill="#ff005b"/><circle cx="484.1" cy="93.5" r="2.05" fill="#b30ca4"/><circle cx="430.6" cy="98.6" r="2.05" fill="#7251d3"/><circle cx="412.5" cy="95.2" r="2.05" fill="#007ff6"/><circle cx="431.3" cy="98.6" r="2.05" fill="#8047ca"/><circle cx="416.6" cy="95.2" r="2.05" fill="#0088fa"/><circle cx="483.3" cy="98.6" r="2.05" fill="#fd005f"/><circle cx="471.0" cy="96.9" r="2.05" fill="#e7007f"/><circle cx="437.6" cy="95.2" r="2.05" fill="#9928b0"/><circle cx="428.8" cy="96.9" r="2.05" fill="#9928b0"/><circle cx="470.5" cy="95.2" r="2.05" fill="#d00093"/><circle cx="421.2" cy="98.6" r="2.05" fill="#316ae9"/><circle cx="475.3" cy="95.2" r="2.05" fill="#eb007a"/><circle cx="416.9" cy="95.2" r="2.05" fill="#007ff6"/><circle cx="431.8" cy="96.9" r="2.05" fill="#595edf"/><circle cx="420.3" cy="98.6" r="2.05" fill="#8047ca"/><circle cx="484.9" cy="95.2" r="2.05" fill="#d5008f"/><circle cx="414.0" cy="96.9" r="2.05" fill="#007bf5"/><circle cx="424.7" cy="93.5" r="2.05" fill="#186eec"/><circle cx="481.0" cy="96.9" r="2.05" fill="#ff0056"/><circle cx="430.7" cy="95.2" r="2.05" fill="#6a56d7"/><circle cx="425.0" cy="96.9" r="2.05" fill="#186eec"/><circle cx="409.4" cy="96.9" r="2.05" fill="#008bfb"/><circle cx="490.6" cy="95.2" r="2.05" fill="#ba00a0"/><circle cx="431.2" cy="93.5" r="2.05" fill="#9f21ac"/><circle cx="486.7" cy="95.2" r="2.05" fill="#e30083"/><circle cx="482.1" cy="95.2" r="2.05" fill="#eb007a"/><circle cx="481.6" cy="98.6" r="2.05" fill="#f80069"/><circle cx="413.0" cy="96.9" r="2.05" fill="#4166e6"/><circle cx="471.9" cy="100.3" r="2.05" fill="#df0087"/><circle cx="429.4" cy="93.5" r="2.05" fill="#7251d3"/><circle cx="426.5" cy="95.2" r="2.05" fill="#0071ee"/><circle cx="422.3" cy="93.5" r="2.05" fill="#6a56d7"/><circle cx="423.2" cy="95.2" r="2.05" fill="#794cce"/><circle cx="420.8" cy="91.8" r="2.05" fill="#8642c5"/><circle cx="464.4" cy="96.9" r="2.05" fill="#f5006d"/><circle cx="427.5" cy="93.5" r="2.05" fill="#4166e6"/><circle cx="472.6" cy="98.6" r="2.05" fill="#e7007f"/><circle cx="484.0" cy="95.2" r="2.05" fill="#f5006d"/><circle cx="418.7" cy="98.6" r="2.05" fill="#0082f8"/><circle cx="439.5" cy="96.9" r="2.05" fill="#952fb5"/><circle cx="437.0" cy="96.9" r="2.05" fill="#6a56d7"/><circle cx="421.4" cy="96.9" r="2.05" fill="#316ae9"/><circle cx="490.4" cy="96.9" r="2.05" fill="#c0009d"/><circle cx="487.3" cy="96.9" r="2.05" fill="#e7007f"/><circle cx="488.7" cy="95.2" r="2.05" fill="#f5006d"/><circle cx="480.7" cy="95.2" r="2.05" fill="#f80069"/><circle cx="442.1" cy="96.9" r="2.05" fill="#8642c5"/><circle cx="438.2" cy="96.9" r="2.05" fill="#9f21ac"/><circle cx="479.5" cy="96.9" r="2.05" fill="#a61ca9"/><circle cx="412.3" cy="96.9" r="2.05" fill="#0088fa"/><circle cx="429.2" cy="100.3" r="2.05" fill="#625adb"/><circle cx="413.2" cy="95.2" r="2.05" fill="#007bf5"/><circle cx="479.0" cy="91.8" r="2.05" fill="#a61ca9"/><circle cx="478.4" cy="98.6" r="2.05" fill="#e7007f"/><circle cx="439.9" cy="96.9" r="2.05" fill="#9f21ac"/><circle cx="480.7" cy="93.5" r="2.05" fill="#fb0064"/><circle cx="418.7" cy="95.2" r="2.05" fill="#186eec"/><circle cx="419.2" cy="98.6" r="2.05" fill="#0085f9"/><circle cx="420.6" cy="95.2" r="2.05" fill="#625adb"/><circle cx="483.2" cy="96.9" r="2.05" fill="#ff0051"/></g>
<g><circle cx="469.3" cy="115.3" r="2.05" fill="#d00093"/><circle cx="431.5" cy="117.0" r="2.05" fill="#8642c5"/><circle cx="488.5" cy="113.6" r="2.05" fill="#cb0096"/><circle cx="426.2" cy="115.3" r="2.05" fill="#0082f8"/><circle cx="495.0" cy="113.6" r="2.05" fill="#f20072"/><circle cx="494.5" cy="115.3" r="2.05" fill="#ff0051"/><circle cx="492.6" cy="115.3" r="2.05" fill="#a61ca9"/><circle cx="485.2" cy="118.7" r="2.05" fill="#b30ca4"/><circle cx="437.0" cy="113.6" r="2.05" fill="#4e62e2"/><circle cx="473.4" cy="115.3" r="2.05" fill="#e30083"/><circle cx="429.5" cy="118.7" r="2.05" fill="#7251d3"/><circle cx="487.3" cy="113.6" r="2.05" fill="#ad15a7"/><circle cx="430.5" cy="115.3" r="2.05" fill="#4166e6"/><circle cx="484.8" cy="111.9" r="2.05" fill="#7251d3"/><circle cx="491.8" cy="117.0" r="2.05" fill="#9928b0"/><circle cx="470.2" cy="115.3" r="2.05" fill="#e30083"/><circle cx="425.1" cy="113.6" r="2.05" fill="#4e62e2"/><circle cx="434.3" cy="118.7" r="2.05" fill="#8047ca"/><circle cx="493.6" cy="117.0" r="2.05" fill="#ef0076"/><circle cx="483.5" cy="118.7" r="2.05" fill="#ff0056"/><circle cx="484.5" cy="118.7" r="2.05" fill="#c0009d"/><circle cx="436.2" cy="115.3" r="2.05" fill="#625adb"/><circle cx="481.2" cy="117.0" r="2.05" fill="#a61ca9"/><circle cx="434.1" cy="115.3" r="2.05" fill="#8b3cc0"/><circle cx="435.3" cy="113.6" r="2.05" fill="#008bfb"/><circle cx="432.0" cy="113.6" r="2.05" fill="#4e62e2"/><circle cx="488.1" cy="115.3" r="2.05" fill="#e30083"/><circle cx="432.9" cy="117.0" r="2.05" fill="#595edf"/><circle cx="475.8" cy="115.3" r="2.05" fill="#f80069"/><circle cx="438.3" cy="113.6" r="2.05" fill="#625adb"/><circle cx="428.6" cy="117.0" r="2.05" fill="#008bfb"/><circle cx="425.6" cy="118.7" r="2.05" fill="#0082f8"/><circle cx="426.0" cy="117.0" r="2.05" fill="#625adb"/><circle cx="487.2" cy="111.9" r="2.05" fill="#c5009a"/><circle cx="469.5" cy="113.6" r="2.05" fill="#a61ca9"/><circle cx="485.2" cy="111.9" r="2.05" fill="#9928b0"/><circle cx="432.3" cy="115.3" r="2.05" fill="#4166e6"/><circle cx="486.9" cy="117.0" r="2.05" fill="#da008b"/><circle cx="432.6" cy="117.0" r="2.05" fill="#0082f8"/><circle cx="480.0" cy="115.3" r="2.05" fill="#a61ca9"/><circle cx="424.3" cy="117.0" r="2.05" fill="#8b3cc0"/><circle cx="490.1" cy="115.3" r="2.05" fill="#da008b"/><circle cx="485.4" cy="113.6" r="2.05" fill="#cb0096"/><circle cx="493.3" cy="113.6" r="2.05" fill="#8642c5"/><circle cx="438.0" cy="111.9" r="2.05" fill="#7251d3"/><circle cx="482.8" cy="113.6" r="2.05" fill="#cb0096"/><circle cx="433.2" cy="111.9" r="2.05" fill="#186eec"/><circle cx="467.8" cy="113.6" r="2.05" fill="#ba00a0"/><circle cx="491.2" cy="115.3" r="2.05" fill="#da008b"/><circle cx="468.7" cy="115.3" r="2.05" fill="#9036bb"/><circle cx="486.1" cy="110.2" r="2.05" fill="#eb007a"/><circle cx="433.5" cy="113.6" r="2.05" fill="#4166e6"/><circle cx="487.4" cy="118.7" r="2.05" fill="#d00093"/><circle cx="483.0" cy="115.3" r="2.05" fill="#df0087"/><circle cx="424.4" cy="118.7" r="2.05" fill="#4166e6"/><circle cx="441.1" cy="113.6" r="2.05" fill="#316ae9"/><circle cx="440.3" cy="113.6" r="2.05" fill="#625adb"/><circle cx="491.9" cy="113.6" r="2.05" fill="#ff0056"/><circle cx="493.8" cy="115.3" r="2.05" fill="#e7007f"/><circle cx="477.2" cy="115.3" r="2.05" fill="#eb007a"/><circle cx="430.4" cy="113.6" r="2.05" fill="#0088fa"/><circle cx="437.5" cy="117.0" r="2.05" fill="#4166e6"/><circle cx="434.8" cy="118.7" r="2.05" fill="#4e62e2"/><circle cx="490.0" cy="113.6" r="2.05" fill="#f5006d"/><circle cx="483.9" cy="111.9" r="2.05" fill="#b30ca4"/><circle cx="426.7" cy="117.0" r="2.05" fill="#8642c5"/><circle cx="490.8" cy="113.6" r="2.05" fill="#c0009d"/><circle cx="426.7" cy="115.3" r="2.05" fill="#0071ee"/><circle cx="434.2" cy="117.0" r="2.05" fill="#0082f8"/><circle cx="480.3" cy="113.6" r="2.05" fill="#ff0056"/><circle cx="471.7" cy="113.6" r="2.05" fill="#ad15a7"/><circle cx="483.6" cy="115.3" r="2.05" fill="#c5009a"/><circle cx="425.4" cy="117.0" r="2.05" fill="#6a56d7"/><circle cx="424.9" cy="111.9" r="2.05" fill="#6a56d7"/><circle cx="485.8" cy="117.0" r="2.05" fill="#cb0096"/><circle cx="428.4" cy="111.9" r="2.05" fill="#8642c5"/><circle cx="485.1" cy="113.6" r="2.05" fill="#e7007f"/><circle cx="436.7" cy="111.9" r="2.05" fill="#008bfb"/><circle cx="487.2" cy="115.3" r="2.05" fill="#ba00a0"/><circle cx="472.2" cy="113.6" r="2.05" fill="#cb0096"/><circle cx="435.0" cy="117.0" r="2.05" fill="#186eec"/><circle cx="470.4" cy="113.6" r="2.05" fill="#fd005f"/><circle cx="431.6" cy="110.2" r="2.05" fill="#186eec"/><circle cx="433.7" cy="115.3" r="2.05" fill="#008bfb"/><circle cx="429.3" cy="111.9" r="2.05" fill="#4e62e2"/><circle cx="440.5" cy="115.3" r="2.05" fill="#4e62e2"/><circle cx="497.1" cy="115.3" r="2.05" fill="#952fb5"/><circle cx="432.3" cy="118.7" r="2.05" fill="#8047ca"/><circle cx="426.7" cy="111.9" r="2.05" fill="#0078f3"/><circle cx="470.2" cy="117.0" r="2.05" fill="#d00093"/><circle cx="481.6" cy="113.6" r="2.05" fill="#e30083"/><circle cx="421.9" cy="113.6" r="2.05" fill="#8b3cc0"/><circle cx="438.1" cy="115.3" r="2.05" fill="#0078f3"/><circle cx="488.5" cy="117.0" r="2.05" fill="#a61ca9"/><circle cx="497.3" cy="115.3" r="2.05" fill="#d00093"/><circle cx="492.4" cy="117.0" r="2.05" fill="#a61ca9"/><circle cx="431.1" cy="118.7" r="2.05" fill="#625adb"/><circle cx="423.4" cy="115.3" r="2.05" fill="#0082f8"/><circle cx="425.9" cy="113.6" r="2.05" fill="#625adb"/><circle cx="472.6" cy="115.3" r="2.05" fill="#9036bb"/><circle cx="498.6" cy="115.3" r="2.05" fill="#f80069"/><circle cx="482.8" cy="111.9" r="2.05" fill="#9f21ac"/><circle cx="431.0" cy="113.6" r="2.05" fill="#4e62e2"/><circle cx="436.8" cy="115.3" r="2.05" fill="#007bf5"/><circle cx="439.7" cy="115.3" r="2.05" fill="#0082f8"/><circle cx="428.4" cy="113.6" r="2.05" fill="#c5009a"/><circle cx="424.4" cy="111.9" r="2.05" fill="#008bfb"/><circle cx="428.5" cy="118.7" r="2.05" fill="#186eec"/><circle cx="433.3" cy="118.7" r="2.05" fill="#0078f3"/><circle cx="430.1" cy="118.7" r="2.05" fill="#007ff6"/><circle cx="434.9" cy="115.3" r="2.05" fill="#a61ca9"/><circle cx="429.7" cy="111.9" r="2.05" fill="#008bfb"/><circle cx="427.3" cy="113.6" r="2.05" fill="#316ae9"/><circle cx="483.6" cy="117.0" r="2.05" fill="#794cce"/><circle cx="481.7" cy="115.3" r="2.05" fill="#da008b"/><circle cx="471.8" cy="115.3" r="2.05" fill="#ba00a0"/><circle cx="428.1" cy="110.2" r="2.05" fill="#186eec"/><circle cx="482.2" cy="117.0" r="2.05" fill="#a61ca9"/><circle cx="427.0" cy="118.7" r="2.05" fill="#4e62e2"/><circle cx="486.4" cy="113.6" r="2.05" fill="#9928b0"/><circle cx="477.0" cy="115.3" r="2.05" fill="#ad15a7"/><circle cx="428.9" cy="117.0" r="2.05" fill="#4166e6"/><circle cx="491.2" cy="117.0" r="2.05" fill="#ff0051"/><circle cx="435.9" cy="113.6" r="2.05" fill="#8047ca"/><circle cx="431.5" cy="111.9" r="2.05" fill="#316ae9"/><circle cx="488.1" cy="117.0" r="2.05" fill="#794cce"/><circle cx="433.4" cy="110.2" r="2.05" fill="#625adb"/><circle cx="434.5" cy="113.6" r="2.05" fill="#595edf"/><circle cx="429.6" cy="115.3" r="2.05" fill="#4166e6"/><circle cx="422.6" cy="115.3" r="2.05" fill="#9036bb"/><circle cx="432.1" cy="110.2" r="2.05" fill="#007ff6"/><circle cx="485.0" cy="117.0" r="2.05" fill="#ba00a0"/><circle cx="424.4" cy="115.3" r="2.05" fill="#6a56d7"/><circle cx="430.9" cy="115.3" r="2.05" fill="#316ae9"/><circle cx="486.0" cy="115.3" r="2.05" fill="#ff0051"/><circle cx="474.8" cy="115.3" r="2.05" fill="#952fb5"/><circle cx="434.7" cy="111.9" r="2.05" fill="#0078f3"/><circle cx="431.9" cy="111.9" r="2.05" fill="#007bf5"/><circle cx="468.0" cy="115.3" r="2.05" fill="#c5009a"/><circle cx="478.4" cy="115.3" r="2.05" fill="#7251d3"/><circle cx="496.1" cy="115.3" r="2.05" fill="#9928b0"/><circle cx="492.7" cy="113.6" r="2.05" fill="#8642c5"/><circle cx="428.7" cy="115.3" r="2.05" fill="#952fb5"/><circle cx="423.8" cy="113.6" r="2.05" fill="#007bf5"/><circle cx="427.3" cy="111.9" r="2.05" fill="#4166e6"/><circle cx="491.5" cy="115.3" r="2.05" fill="#9036bb"/><circle cx="425.5" cy="110.2" r="2.05" fill="#625adb"/><circle cx="486.4" cy="111.9" r="2.05" fill="#8047ca"/><circle cx="425.3" cy="115.3" r="2.05" fill="#9928b0"/><circle cx="484.6" cy="115.3" r="2.05" fill="#c5009a"/><circle cx="429.1" cy="113.6" r="2.05" fill="#625adb"/><circle cx="484.1" cy="113.6" r="2.05" fill="#d00093"/><circle cx="480.8" cy="115.3" r="2.05" fill="#d00093"/><circle cx="430.0" cy="117.0" r="2.05" fill="#4166e6"/><circle cx="497.2" cy="113.6" r="2.05" fill="#d5008f"/><circle cx="437.9" cy="117.0" r="2.05" fill="#0071ee"/><circle cx="436.6" cy="117.0" r="2.05" fill="#c5009a"/><circle cx="422.9" cy="113.6" r="2.05" fill="#7251d3"/><circle cx="489.1" cy="115.3" r="2.05" fill="#8047ca"/><circle cx="441.0" cy="115.3" r="2.05" fill="#008bfb"/><circle cx="489.1" cy="111.9" r="2.05" fill="#ef0076"/><circle cx="439.0" cy="113.6" r="2.05" fill="#0075f1"/><circle cx="434.6" cy="111.9" r="2.05" fill="#4166e6"/><circle cx="427.1" cy="110.2" r="2.05" fill="#186eec"/><circle cx="437.7" cy="111.9" r="2.05" fill="#9928b0"/></g>
<g><circle cx="428.0" cy="132.0" r="2.05" fill="#0082f8"/><circle cx="425.7" cy="137.1" r="2.05" fill="#0078f3"/><circle cx="419.6" cy="135.4" r="2.05" fill="#0078f3"/><circle cx="419.2" cy="133.7" r="2.05" fill="#0075f1"/><circle cx="425.8" cy="140.5" r="2.05" fill="#007ff6"/><circle cx="470.3" cy="132.0" r="2.05" fill="#c5009a"/><circle cx="422.9" cy="133.7" r="2.05" fill="#4166e6"/><circle cx="462.9" cy="133.7" r="2.05" fill="#9f21ac"/><circle cx="472.4" cy="135.4" r="2.05" fill="#f5006d"/><circle cx="472.0" cy="133.7" r="2.05" fill="#c0009d"/><circle cx="482.4" cy="132.0" r="2.05" fill="#ff005b"/><circle cx="469.9" cy="137.1" r="2.05" fill="#4e62e2"/><circle cx="432.6" cy="133.7" r="2.05" fill="#008bfb"/><circle cx="473.9" cy="137.1" r="2.05" fill="#b30ca4"/><circle cx="427.1" cy="128.6" r="2.05" fill="#007ff6"/><circle cx="420.7" cy="135.4" r="2.05" fill="#0078f3"/><circle cx="473.6" cy="130.3" r="2.05" fill="#f5006d"/><circle cx="465.9" cy="133.7" r="2.05" fill="#b30ca4"/><circle cx="467.3" cy="130.3" r="2.05" fill="#7251d3"/><circle cx="474.6" cy="135.4" r="2.05" fill="#cb0096"/><circle cx="487.0" cy="132.0" r="2.05" fill="#e30083"/><circle cx="431.6" cy="133.7" r="2.05" fill="#0078f3"/><circle cx="426.5" cy="126.9" r="2.05" fill="#4166e6"/><circle cx="432.6" cy="135.4" r="2.05" fill="#007bf5"/><circle cx="425.0" cy="130.3" r="2.05" fill="#4e62e2"/><circle cx="461.0" cy="132.0" r="2.05" fill="#625adb"/><circle cx="459.5" cy="132.0" r="2.05" fill="#625adb"/><circle cx="419.1" cy="132.0" r="2.05" fill="#008bfb"/><circle cx="476.9" cy="137.1" r="2.05" fill="#f20072"/><circle cx="468.4" cy="132.0" r="2.05" fill="#794cce"/><circle cx="456.6" cy="133.7" r="2.05" fill="#952fb5"/><circle cx="476.3" cy="137.1" r="2.05" fill="#d5008f"/><circle cx="431.2" cy="135.4" r="2.05" fill="#0082f8"/><circle cx="417.6" cy="133.7" r="2.05" fill="#4e62e2"/><circle cx="423.4" cy="130.3" r="2.05" fill="#0085f9"/><circle cx="433.2" cy="132.0" r="2.05" fill="#008bfb"/><circle cx="484.2" cy="132.0" r="2.05" fill="#e30083"/><circle cx="473.8" cy="132.0" r="2.05" fill="#da008b"/><circle cx="467.7" cy="130.3" r="2.05" fill="#9f21ac"/><circle cx="475.1" cy="130.3" r="2.05" fill="#eb007a"/><circle cx="461.8" cy="133.7" r="2.05" fill="#007bf5"/><circle cx="473.3" cy="137.1" r="2.05" fill="#df0087"/><circle cx="420.3" cy="133.7" r="2.05" fill="#007bf5"/><circle cx="470.2" cy="135.4" r="2.05" fill="#952fb5"/><circle cx="459.7" cy="133.7" r="2.05" fill="#9928b0"/><circle cx="429.5" cy="137.1" r="2.05" fill="#0078f3"/><circle cx="467.2" cy="133.7" r="2.05" fill="#8642c5"/><circle cx="435.2" cy="133.7" r="2.05" fill="#4166e6"/><circle cx="420.6" cy="130.3" r="2.05" fill="#316ae9"/><circle cx="478.1" cy="130.3" r="2.05" fill="#eb007a"/><circle cx="423.0" cy="132.0" r="2.05" fill="#007ff6"/><circle cx="424.9" cy="128.6" r="2.05" fill="#0082f8"/><circle cx="478.8" cy="132.0" r="2.05" fill="#da008b"/><circle cx="460.3" cy="132.0" r="2.05" fill="#186eec"/><circle cx="458.5" cy="133.7" r="2.05" fill="#186eec"/><circle cx="478.2" cy="135.4" r="2.05" fill="#ff0051"/><circle cx="475.1" cy="135.4" r="2.05" fill="#f5006d"/><circle cx="429.8" cy="130.3" r="2.05" fill="#186eec"/><circle cx="425.2" cy="133.7" r="2.05" fill="#007bf5"/><circle cx="427.6" cy="138.8" r="2.05" fill="#186eec"/><circle cx="426.1" cy="137.1" r="2.05" fill="#008bfb"/><circle cx="421.5" cy="137.1" r="2.05" fill="#0078f3"/><circle cx="487.1" cy="133.7" r="2.05" fill="#d00093"/><circle cx="483.5" cy="133.7" r="2.05" fill="#ff005b"/><circle cx="483.0" cy="135.4" r="2.05" fill="#f5006d"/><circle cx="419.7" cy="132.0" r="2.05" fill="#0088fa"/><circle cx="477.6" cy="133.7" r="2.05" fill="#da008b"/><circle cx="474.5" cy="128.6" r="2.05" fill="#eb007a"/><circle cx="488.5" cy="133.7" r="2.05" fill="#8b3cc0"/><circle cx="427.4" cy="137.1" r="2.05" fill="#007bf5"/><circle cx="424.4" cy="133.7" r="2.05" fill="#0071ee"/><circle cx="477.6" cy="135.4" r="2.05" fill="#ff0051"/><circle cx="426.7" cy="133.7" r="2.05" fill="#0088fa"/><circle cx="473.4" cy="135.4" r="2.05" fill="#ad15a7"/><circle cx="469.6" cy="132.0" r="2.05" fill="#ad15a7"/><circle cx="421.6" cy="133.7" r="2.05" fill="#007bf5"/><circle cx="480.5" cy="132.0" r="2.05" fill="#f20072"/><circle cx="464.6" cy="132.0" r="2.05" fill="#7251d3"/><circle cx="490.1" cy="133.7" r="2.05" fill="#9f21ac"/><circle cx="425.7" cy="128.6" r="2.05" fill="#0078f3"/><circle cx="479.7" cy="133.7" r="2.05" fill="#fb0064"/><circle cx="474.6" cy="133.7" r="2.05" fill="#9928b0"/><circle cx="431.6" cy="132.0" r="2.05" fill="#008bfb"/><circle cx="474.5" cy="130.3" r="2.05" fill="#ba00a0"/><circle cx="471.3" cy="135.4" r="2.05" fill="#e7007f"/><circle cx="426.5" cy="130.3" r="2.05" fill="#007ff6"/><circle cx="430.3" cy="135.4" r="2.05" fill="#007ff6"/><circle cx="472.0" cy="137.1" r="2.05" fill="#ef0076"/><circle cx="420.9" cy="132.0" r="2.05" fill="#008bfb"/><circle cx="468.7" cy="137.1" r="2.05" fill="#8642c5"/><circle cx="431.7" cy="132.0" r="2.05" fill="#0078f3"/><circle cx="475.3" cy="132.0" r="2.05" fill="#df0087"/><circle cx="478.0" cy="133.7" r="2.05" fill="#e7007f"/><circle cx="467.6" cy="132.0" r="2.05" fill="#df0087"/><circle cx="462.7" cy="132.0" r="2.05" fill="#6a56d7"/><circle cx="469.4" cy="130.3" r="2.05" fill="#9036bb"/><circle cx="480.8" cy="135.4" r="2.05" fill="#f20072"/><circle cx="481.4" cy="133.7" r="2.05" fill="#ff0051"/><circle cx="426.1" cy="135.4" r="2.05" fill="#008bfb"/><circle cx="470.4" cy="133.7" r="2.05" fill="#9f21ac"/><circle cx="470.9" cy="137.1" r="2.05" fill="#b30ca4"/><circle cx="477.4" cy="132.0" r="2.05" fill="#eb007a"/><circle cx="418.7" cy="132.0" r="2.05" fill="#0075f1"/><circle cx="475.1" cy="133.7" r="2.05" fill="#f5006d"/><circle cx="422.8" cy="135.4" r="2.05" fill="#007bf5"/><circle cx="477.6" cy="128.6" r="2.05" fill="#df0087"/><circle cx="468.6" cy="135.4" r="2.05" fill="#9928b0"/><circle cx="465.8" cy="132.0" r="2.05" fill="#c5009a"/><circle cx="426.8" cy="132.0" r="2.05" fill="#008bfb"/><circle cx="428.3" cy="130.3" r="2.05" fill="#316ae9"/><circle cx="482.7" cy="132.0" r="2.05" fill="#d00093"/><circle cx="466.5" cy="135.4" r="2.05" fill="#595edf"/><circle cx="479.2" cy="135.4" r="2.05" fill="#f80069"/><circle cx="466.9" cy="137.1" r="2.05" fill="#a61ca9"/><circle cx="470.9" cy="133.7" r="2.05" fill="#8642c5"/><circle cx="421.1" cy="130.3" r="2.05" fill="#0075f1"/><circle cx="459.7" cy="133.7" r="2.05" fill="#186eec"/><circle cx="472.7" cy="132.0" r="2.05" fill="#cb0096"/><circle cx="428.6" cy="133.7" r="2.05" fill="#0071ee"/><circle cx="473.3" cy="133.7" r="2.05" fill="#f5006d"/><circle cx="479.5" cy="133.7" r="2.05" fill="#eb007a"/><circle cx="467.3" cy="135.4" r="2.05" fill="#c0009d"/><circle cx="430.4" cy="132.0" r="2.05" fill="#0088fa"/><circle cx="471.4" cy="130.3" r="2.05" fill="#9036bb"/><circle cx="482.4" cy="135.4" r="2.05" fill="#f5006d"/><circle cx="428.6" cy="135.4" r="2.05" fill="#008bfb"/><circle cx="461.5" cy="133.7" r="2.05" fill="#4e62e2"/><circle cx="434.1" cy="133.7" r="2.05" fill="#0085f9"/><circle cx="433.2" cy="133.7" r="2.05" fill="#008bfb"/><circle cx="465.4" cy="133.7" r="2.05" fill="#4166e6"/><circle cx="485.1" cy="132.0" r="2.05" fill="#eb007a"/><circle cx="429.5" cy="133.7" r="2.05" fill="#0085f9"/><circle cx="478.5" cy="132.0" r="2.05" fill="#c5009a"/><circle cx="427.2" cy="135.4" r="2.05" fill="#007ff6"/><circle cx="458.3" cy="132.0" r="2.05" fill="#9928b0"/><circle cx="418.6" cy="133.7" r="2.05" fill="#007ff6"/><circle cx="429.7" cy="135.4" r="2.05" fill="#0075f1"/><circle cx="468.7" cy="133.7" r="2.05" fill="#952fb5"/><circle cx="419.1" cy="130.3" r="2.05" fill="#0078f3"/><circle cx="429.6" cy="130.3" r="2.05" fill="#0078f3"/><circle cx="417.5" cy="132.0" r="2.05" fill="#007ff6"/><circle cx="465.6" cy="132.0" r="2.05" fill="#6a56d7"/><circle cx="475.7" cy="135.4" r="2.05" fill="#cb0096"/><circle cx="423.6" cy="137.1" r="2.05" fill="#0082f8"/><circle cx="479.4" cy="130.3" r="2.05" fill="#ff0051"/><circle cx="427.5" cy="133.7" r="2.05" fill="#0075f1"/><circle cx="463.4" cy="132.0" r="2.05" fill="#0088fa"/><circle cx="485.7" cy="132.0" r="2.05" fill="#f20072"/><circle cx="421.9" cy="135.4" r="2.05" fill="#0075f1"/><circle cx="457.1" cy="133.7" r="2.05" fill="#9928b0"/><circle cx="475.9" cy="130.3" r="2.05" fill="#f80069"/><circle cx="420.9" cy="135.4" r="2.05" fill="#007ff6"/><circle cx="483.9" cy="133.7" r="2.05" fill="#ff0051"/><circle cx="425.7" cy="135.4" r="2.05" fill="#595edf"/><circle cx="463.7" cy="135.4" r="2.05" fill="#4e62e2"/><circle cx="489.0" cy="133.7" r="2.05" fill="#c0009d"/><circle cx="481.1" cy="132.0" r="2.05" fill="#ef0076"/><circle cx="468.9" cy="135.4" r="2.05" fill="#b30ca4"/><circle cx="428.3" cy="137.1" r="2.05" fill="#007ff6"/><circle cx="428.4" cy="128.6" r="2.05" fill="#008bfb"/><circle cx="464.1" cy="133.7" r="2.05" fill="#9036bb"/><circle cx="432.8" cy="135.4" r="2.05" fill="#0082f8"/><circle cx="476.1" cy="133.7" r="2.05" fill="#fb0064"/><circle cx="476.0" cy="128.6" r="2.05" fill="#f5006d"/><circle cx="422.6" cy="133.7" r="2.05" fill="#008bfb"/><circle cx="471.1" cy="132.0" r="2.05" fill="#c0009d"/><circle cx="425.4" cy="132.0" r="2.05" fill="#186eec"/><circle cx="487.8" cy="132.0" r="2.05" fill="#ef0076"/><circle cx="476.2" cy="132.0" r="2.05" fill="#f20072"/><circle cx="426.3" cy="132.0" r="2.05" fill="#008bfb"/><circle cx="485.1" cy="133.7" r="2.05" fill="#f80069"/><circle cx="422.4" cy="132.0" r="2.05" fill="#0078f3"/><circle cx="480.1" cy="135.4" r="2.05" fill="#ff0056"/><circle cx="482.4" cy="133.7" r="2.05" fill="#d5008f"/><circle cx="472.5" cy="132.0" r="2.05" fill="#ff0051"/><circle cx="473.1" cy="128.6" r="2.05" fill="#df0087"/><circle cx="468.3" cy="133.7" r="2.05" fill="#8b3cc0"/><circle cx="424.2" cy="132.0" r="2.05" fill="#186eec"/><circle cx="488.9" cy="132.0" r="2.05" fill="#df0087"/><circle cx="469.8" cy="130.3" r="2.05" fill="#952fb5"/><circle cx="477.1" cy="130.3" r="2.05" fill="#ad15a7"/><circle cx="424.5" cy="135.4" r="2.05" fill="#4166e6"/><circle cx="486.7" cy="133.7" r="2.05" fill="#9f21ac"/><circle cx="426.0" cy="138.8" r="2.05" fill="#0075f1"/><circle cx="429.1" cy="132.0" r="2.05" fill="#0085f9"/><circle cx="427.2" cy="130.3" r="2.05" fill="#186eec"/><circle cx="475.2" cy="137.1" r="2.05" fill="#b30ca4"/><circle cx="429.8" cy="133.7" r="2.05" fill="#007ff6"/><circle cx="424.2" cy="130.3" r="2.05" fill="#007bf5"/><circle cx="472.0" cy="130.3" r="2.05" fill="#ba00a0"/></g>
<g><circle cx="469.1" cy="152.2" r="2.05" fill="#df0087"/><circle cx="475.1" cy="150.5" r="2.05" fill="#595edf"/><circle cx="407.1" cy="150.5" r="2.05" fill="#0075f1"/><circle cx="403.6" cy="152.2" r="2.05" fill="#186eec"/><circle cx="472.8" cy="148.8" r="2.05" fill="#ad15a7"/><circle cx="413.4" cy="150.5" r="2.05" fill="#9f21ac"/><circle cx="470.0" cy="148.8" r="2.05" fill="#ef0076"/><circle cx="409.0" cy="152.2" r="2.05" fill="#0075f1"/><circle cx="419.4" cy="152.2" r="2.05" fill="#0075f1"/><circle cx="466.1" cy="148.8" r="2.05" fill="#d5008f"/><circle cx="475.9" cy="150.5" r="2.05" fill="#c0009d"/><circle cx="464.3" cy="147.1" r="2.05" fill="#952fb5"/><circle cx="465.2" cy="150.5" r="2.05" fill="#ef0076"/><circle cx="469.1" cy="153.9" r="2.05" fill="#952fb5"/><circle cx="469.2" cy="150.5" r="2.05" fill="#cb0096"/><circle cx="468.2" cy="152.2" r="2.05" fill="#da008b"/><circle cx="461.0" cy="153.9" r="2.05" fill="#a61ca9"/><circle cx="459.5" cy="153.9" r="2.05" fill="#c0009d"/><circle cx="470.1" cy="150.5" r="2.05" fill="#e30083"/><circle cx="428.6" cy="152.2" r="2.05" fill="#8047ca"/><circle cx="460.9" cy="148.8" r="2.05" fill="#9928b0"/><circle cx="469.3" cy="155.6" r="2.05" fill="#9f21ac"/><circle cx="431.1" cy="152.2" r="2.05" fill="#8047ca"/><circle cx="416.2" cy="152.2" r="2.05" fill="#6a56d7"/><circle cx="467.3" cy="155.6" r="2.05" fill="#8642c5"/><circle cx="409.8" cy="150.5" r="2.05" fill="#625adb"/><circle cx="473.8" cy="153.9" r="2.05" fill="#e7007f"/><circle cx="415.5" cy="150.5" r="2.05" fill="#6a56d7"/><circle cx="413.7" cy="150.5" r="2.05" fill="#8047ca"/><circle cx="468.2" cy="150.5" r="2.05" fill="#c0009d"/><circle cx="476.9" cy="150.5" r="2.05" fill="#d5008f"/><circle cx="401.1" cy="150.5" r="2.05" fill="#4166e6"/><circle cx="466.1" cy="157.3" r="2.05" fill="#9928b0"/><circle cx="401.0" cy="152.2" r="2.05" fill="#008bfb"/><circle cx="471.2" cy="148.8" r="2.05" fill="#9f21ac"/><circle cx="399.2" cy="152.2" r="2.05" fill="#007bf5"/><circle cx="418.1" cy="153.9" r="2.05" fill="#6a56d7"/><circle cx="466.8" cy="157.3" r="2.05" fill="#eb007a"/><circle cx="477.1" cy="152.2" r="2.05" fill="#ba00a0"/><circle cx="472.8" cy="155.6" r="2.05" fill="#b30ca4"/><circle cx="416.7" cy="152.2" r="2.05" fill="#794cce"/><circle cx="461.2" cy="152.2" r="2.05" fill="#8642c5"/><circle cx="470.2" cy="152.2" r="2.05" fill="#ad15a7"/><circle cx="472.0" cy="150.5" r="2.05" fill="#c5009a"/><circle cx="412.7" cy="150.5" r="2.05" fill="#794cce"/><circle cx="460.0" cy="148.8" r="2.05" fill="#316ae9"/><circle cx="462.0" cy="153.9" r="2.05" fill="#ad15a7"/><circle cx="468.0" cy="148.8" r="2.05" fill="#df0087"/><circle cx="460.7" cy="150.5" r="2.05" fill="#c5009a"/><circle cx="467.3" cy="153.9" r="2.05" fill="#da008b"/><circle cx="396.1" cy="152.2" r="2.05" fill="#4166e6"/><circle cx="458.7" cy="152.2" r="2.05" fill="#d00093"/><circle cx="465.8" cy="153.9" r="2.05" fill="#e7007f"/><circle cx="470.4" cy="153.9" r="2.05" fill="#df0087"/><circle cx="465.9" cy="147.1" r="2.05" fill="#952fb5"/><circle cx="471.5" cy="155.6" r="2.05" fill="#9928b0"/><circle cx="474.2" cy="152.2" r="2.05" fill="#9036bb"/><circle cx="464.9" cy="152.2" r="2.05" fill="#e7007f"/><circle cx="398.0" cy="152.2" r="2.05" fill="#4e62e2"/><circle cx="397.8" cy="150.5" r="2.05" fill="#316ae9"/><circle cx="462.4" cy="148.8" r="2.05" fill="#794cce"/><circle cx="466.8" cy="147.1" r="2.05" fill="#952fb5"/><circle cx="429.4" cy="150.5" r="2.05" fill="#4166e6"/><circle cx="464.3" cy="155.6" r="2.05" fill="#cb0096"/><circle cx="463.9" cy="153.9" r="2.05" fill="#b30ca4"/><circle cx="460.4" cy="153.9" r="2.05" fill="#fb0064"/><circle cx="463.6" cy="153.9" r="2.05" fill="#ba00a0"/><circle cx="410.3" cy="152.2" r="2.05" fill="#0071ee"/><circle cx="428.8" cy="152.2" r="2.05" fill="#316ae9"/><circle cx="427.7" cy="152.2" r="2.05" fill="#8b3cc0"/><circle cx="430.1" cy="152.2" r="2.05" fill="#ad15a7"/><circle cx="462.3" cy="155.6" r="2.05" fill="#a61ca9"/><circle cx="400.1" cy="152.2" r="2.05" fill="#316ae9"/><circle cx="463.9" cy="150.5" r="2.05" fill="#df0087"/><circle cx="414.4" cy="152.2" r="2.05" fill="#6a56d7"/><circle cx="462.7" cy="152.2" r="2.05" fill="#9036bb"/><circle cx="420.7" cy="152.2" r="2.05" fill="#4e62e2"/><circle cx="418.4" cy="152.2" r="2.05" fill="#186eec"/><circle cx="424.8" cy="152.2" r="2.05" fill="#8b3cc0"/><circle cx="463.4" cy="150.5" r="2.05" fill="#8642c5"/><circle cx="467.7" cy="155.6" r="2.05" fill="#952fb5"/><circle cx="472.4" cy="155.6" r="2.05" fill="#e30083"/><circle cx="457.3" cy="152.2" r="2.05" fill="#cb0096"/><circle cx="471.9" cy="152.2" r="2.05" fill="#ba00a0"/><circle cx="418.1" cy="150.5" r="2.05" fill="#007ff6"/><circle cx="411.6" cy="150.5" r="2.05" fill="#952fb5"/><circle cx="465.0" cy="155.6" r="2.05" fill="#f80069"/><circle cx="409.5" cy="150.5" r="2.05" fill="#8b3cc0"/><circle cx="416.8" cy="150.5" r="2.05" fill="#0075f1"/><circle cx="473.6" cy="153.9" r="2.05" fill="#952fb5"/><circle cx="424.7" cy="150.5" r="2.05" fill="#0075f1"/><circle cx="424.5" cy="150.5" r="2.05" fill="#0075f1"/><circle cx="466.8" cy="152.2" r="2.05" fill="#da008b"/><circle cx="465.1" cy="148.8" r="2.05" fill="#0075f1"/><circle cx="459.7" cy="150.5" r="2.05" fill="#e7007f"/><circle cx="401.7" cy="150.5" r="2.05" fill="#794cce"/><circle cx="395.5" cy="152.2" r="2.05" fill="#9928b0"/><circle cx="465.5" cy="153.9" r="2.05" fill="#9928b0"/><circle cx="466.5" cy="152.2" r="2.05" fill="#d00093"/><circle cx="466.1" cy="155.6" r="2.05" fill="#e30083"/><circle cx="475.3" cy="153.9" r="2.05" fill="#625adb"/><circle cx="473.7" cy="152.2" r="2.05" fill="#eb007a"/><circle cx="408.5" cy="150.5" r="2.05" fill="#316ae9"/><circle cx="422.1" cy="152.2" r="2.05" fill="#4e62e2"/><circle cx="407.1" cy="152.2" r="2.05" fill="#6a56d7"/><circle cx="422.6" cy="150.5" r="2.05" fill="#4e62e2"/><circle cx="412.2" cy="152.2" r="2.05" fill="#6a56d7"/><circle cx="404.4" cy="152.2" r="2.05" fill="#a61ca9"/><circle cx="400.3" cy="150.5" r="2.05" fill="#0078f3"/><circle cx="410.8" cy="152.2" r="2.05" fill="#7251d3"/><circle cx="472.2" cy="153.9" r="2.05" fill="#da008b"/><circle cx="405.6" cy="152.2" r="2.05" fill="#186eec"/><circle cx="471.1" cy="153.9" r="2.05" fill="#c0009d"/><circle cx="463.1" cy="148.8" r="2.05" fill="#952fb5"/><circle cx="460.5" cy="152.2" r="2.05" fill="#e30083"/><circle cx="426.4" cy="150.5" r="2.05" fill="#794cce"/><circle cx="392.0" cy="152.2" r="2.10" fill="#9f21ac"/><circle cx="413.6" cy="152.2" r="2.05" fill="#7251d3"/><circle cx="432.8" cy="152.2" r="2.05" fill="#ba00a0"/><circle cx="432.2" cy="152.2" r="2.05" fill="#316ae9"/><circle cx="419.7" cy="150.5" r="2.05" fill="#186eec"/><circle cx="464.5" cy="152.2" r="2.05" fill="#ad15a7"/><circle cx="470.5" cy="155.6" r="2.05" fill="#c5009a"/><circle cx="458.1" cy="150.5" r="2.05" fill="#ad15a7"/><circle cx="424.7" cy="152.2" r="2.05" fill="#4166e6"/><circle cx="426.1" cy="152.2" r="2.05" fill="#8047ca"/><circle cx="402.2" cy="152.2" r="2.05" fill="#595edf"/><circle cx="470.9" cy="150.5" r="2.05" fill="#da008b"/><circle cx="473.8" cy="150.5" r="2.05" fill="#c5009a"/><circle cx="421.1" cy="152.2" r="2.05" fill="#794cce"/><circle cx="469.4" cy="148.8" r="2.05" fill="#8642c5"/><circle cx="475.5" cy="152.2" r="2.05" fill="#eb007a"/><circle cx="415.5" cy="152.2" r="2.05" fill="#8b3cc0"/><circle cx="475.8" cy="152.2" r="2.05" fill="#fb0064"/><circle cx="468.3" cy="153.9" r="2.05" fill="#ad15a7"/><circle cx="466.9" cy="150.5" r="2.05" fill="#8b3cc0"/><circle cx="422.9" cy="150.5" r="2.05" fill="#952fb5"/><circle cx="457.8" cy="153.9" r="2.05" fill="#da008b"/><circle cx="471.7" cy="148.8" r="2.05" fill="#a61ca9"/><circle cx="461.4" cy="155.6" r="2.05" fill="#9928b0"/><circle cx="462.1" cy="150.5" r="2.05" fill="#8047ca"/><circle cx="406.6" cy="152.2" r="2.05" fill="#0075f1"/><circle cx="421.0" cy="150.5" r="2.05" fill="#7251d3"/><circle cx="423.5" cy="152.2" r="2.05" fill="#7251d3"/><circle cx="458.2" cy="152.2" r="2.05" fill="#952fb5"/><circle cx="427.0" cy="150.5" r="2.05" fill="#316ae9"/><circle cx="408.2" cy="152.2" r="2.05" fill="#4e62e2"/><circle cx="416.3" cy="150.5" r="2.05" fill="#316ae9"/><circle cx="471.4" cy="152.2" r="2.05" fill="#f20072"/><circle cx="396.5" cy="150.5" r="2.05" fill="#316ae9"/><circle cx="467.5" cy="148.8" r="2.05" fill="#a61ca9"/><circle cx="467.9" cy="147.1" r="2.05" fill="#8642c5"/><circle cx="465.8" cy="150.5" r="2.05" fill="#a61ca9"/><circle cx="461.1" cy="150.5" r="2.05" fill="#da008b"/><circle cx="464.7" cy="148.8" r="2.05" fill="#b30ca4"/><circle cx="473.3" cy="150.5" r="2.05" fill="#c0009d"/><circle cx="394.7" cy="152.2" r="2.05" fill="#4e62e2"/><circle cx="463.5" cy="152.2" r="2.05" fill="#a61ca9"/><circle cx="412.9" cy="153.9" r="2.05" fill="#4166e6"/><circle cx="397.0" cy="152.2" r="2.05" fill="#6a56d7"/></g>
<g><circle cx="479.6" cy="168.9" r="2.05" fill="#007bf5"/><circle cx="468.8" cy="172.3" r="2.05" fill="#007bf5"/><circle cx="425.4" cy="172.3" r="2.05" fill="#952fb5"/><circle cx="429.1" cy="167.2" r="2.05" fill="#8047ca"/><circle cx="463.7" cy="170.6" r="2.05" fill="#0071ee"/><circle cx="424.9" cy="167.2" r="2.05" fill="#c5009a"/><circle cx="430.7" cy="168.9" r="2.05" fill="#625adb"/><circle cx="426.3" cy="167.2" r="2.05" fill="#b30ca4"/><circle cx="486.6" cy="168.9" r="2.05" fill="#4e62e2"/><circle cx="473.1" cy="167.2" r="2.05" fill="#0082f8"/><circle cx="490.5" cy="170.6" r="2.05" fill="#0082f8"/><circle cx="433.4" cy="172.3" r="2.05" fill="#7251d3"/><circle cx="487.8" cy="168.9" r="2.05" fill="#007bf5"/><circle cx="433.7" cy="174.0" r="2.05" fill="#c0009d"/><circle cx="438.4" cy="172.3" r="2.05" fill="#f80069"/><circle cx="435.9" cy="172.3" r="2.05" fill="#cb0096"/><circle cx="466.9" cy="168.9" r="2.05" fill="#008bfb"/><circle cx="476.4" cy="170.6" r="2.05" fill="#0085f9"/><circle cx="432.2" cy="170.6" r="2.05" fill="#ad15a7"/><circle cx="470.7" cy="170.6" r="2.05" fill="#0075f1"/><circle cx="486.1" cy="170.6" r="2.05" fill="#0075f1"/><circle cx="476.8" cy="168.9" r="2.05" fill="#0082f8"/><circle cx="476.1" cy="167.2" r="2.05" fill="#008bfb"/><circle cx="433.5" cy="168.9" r="2.05" fill="#d5008f"/><circle cx="467.6" cy="168.9" r="2.05" fill="#0078f3"/><circle cx="440.4" cy="168.9" r="2.05" fill="#625adb"/><circle cx="431.9" cy="172.3" r="2.05" fill="#4166e6"/><circle cx="427.4" cy="170.6" r="2.05" fill="#7251d3"/><circle cx="435.0" cy="172.3" r="2.05" fill="#da008b"/><circle cx="438.2" cy="172.3" r="2.05" fill="#952fb5"/><circle cx="430.7" cy="172.3" r="2.05" fill="#d00093"/><circle cx="480.3" cy="168.9" r="2.05" fill="#0082f8"/><circle cx="427.2" cy="168.9" r="2.05" fill="#4166e6"/><circle cx="423.3" cy="170.6" r="2.05" fill="#eb007a"/><circle cx="470.4" cy="168.9" r="2.05" fill="#0082f8"/><circle cx="480.0" cy="170.6" r="2.05" fill="#007ff6"/><circle cx="433.2" cy="174.0" r="2.05" fill="#f80069"/><circle cx="481.6" cy="170.6" r="2.05" fill="#0085f9"/><circle cx="433.1" cy="172.3" r="2.05" fill="#9f21ac"/><circle cx="420.9" cy="168.9" r="2.05" fill="#9928b0"/><circle cx="441.1" cy="170.6" r="2.05" fill="#952fb5"/><circle cx="468.7" cy="170.6" r="2.05" fill="#007ff6"/><circle cx="471.6" cy="172.3" r="2.05" fill="#0075f1"/><circle cx="484.5" cy="172.3" r="2.05" fill="#007bf5"/><circle cx="475.1" cy="170.6" r="2.05" fill="#0082f8"/><circle cx="465.3" cy="170.6" r="2.05" fill="#186eec"/><circle cx="479.0" cy="172.3" r="2.05" fill="#0071ee"/><circle cx="437.5" cy="170.6" r="2.05" fill="#595edf"/><circle cx="434.8" cy="168.9" r="2.05" fill="#9928b0"/><circle cx="483.0" cy="168.9" r="2.05" fill="#4e62e2"/><circle cx="433.9" cy="165.5" r="2.05" fill="#4e62e2"/><circle cx="478.2" cy="167.2" r="2.05" fill="#0082f8"/><circle cx="425.7" cy="170.6" r="2.05" fill="#df0087"/><circle cx="424.4" cy="170.6" r="2.05" fill="#9928b0"/><circle cx="432.2" cy="167.2" r="2.05" fill="#8642c5"/><circle cx="434.6" cy="170.6" r="2.05" fill="#7251d3"/><circle cx="482.0" cy="168.9" r="2.05" fill="#0075f1"/><circle cx="474.4" cy="168.9" r="2.05" fill="#008bfb"/><circle cx="484.5" cy="168.9" r="2.05" fill="#316ae9"/><circle cx="439.9" cy="170.6" r="2.05" fill="#cb0096"/><circle cx="477.4" cy="172.3" r="2.05" fill="#007ff6"/><circle cx="479.1" cy="168.9" r="2.05" fill="#0082f8"/><circle cx="426.9" cy="168.9" r="2.05" fill="#9036bb"/><circle cx="466.6" cy="170.6" r="2.05" fill="#0075f1"/><circle cx="421.4" cy="172.3" r="2.05" fill="#6a56d7"/><circle cx="476.7" cy="172.3" r="2.05" fill="#007ff6"/><circle cx="425.4" cy="167.2" r="2.05" fill="#4166e6"/><circle cx="435.4" cy="167.2" r="2.05" fill="#e30083"/><circle cx="469.2" cy="170.6" r="2.05" fill="#0075f1"/><circle cx="424.8" cy="174.0" r="2.05" fill="#9928b0"/><circle cx="473.5" cy="172.3" r="2.05" fill="#007bf5"/><circle cx="421.5" cy="168.9" r="2.05" fill="#a61ca9"/><circle cx="476.6" cy="167.2" r="2.05" fill="#008bfb"/><circle cx="435.5" cy="168.9" r="2.05" fill="#595edf"/><circle cx="482.5" cy="172.3" r="2.05" fill="#0075f1"/><circle cx="437.0" cy="167.2" r="2.05" fill="#c5009a"/><circle cx="488.3" cy="168.9" r="2.05" fill="#0071ee"/><circle cx="428.0" cy="172.3" r="2.05" fill="#c5009a"/><circle cx="435.3" cy="174.0" r="2.05" fill="#c5009a"/><circle cx="467.3" cy="170.6" r="2.05" fill="#0085f9"/><circle cx="474.1" cy="167.2" r="2.05" fill="#0071ee"/><circle cx="430.3" cy="174.0" r="2.05" fill="#ba00a0"/><circle cx="491.8" cy="170.6" r="2.05" fill="#0078f3"/><circle cx="431.5" cy="168.9" r="2.05" fill="#9928b0"/><circle cx="433.3" cy="170.6" r="2.05" fill="#9036bb"/><circle cx="434.0" cy="167.2" r="2.05" fill="#8642c5"/><circle cx="437.1" cy="168.9" r="2.05" fill="#316ae9"/><circle cx="464.3" cy="170.6" r="2.05" fill="#0085f9"/><circle cx="473.0" cy="170.6" r="2.05" fill="#0085f9"/><circle cx="431.4" cy="167.2" r="2.05" fill="#df0087"/><circle cx="475.4" cy="170.6" r="2.05" fill="#007ff6"/><circle cx="423.5" cy="167.2" r="2.05" fill="#9f21ac"/><circle cx="426.7" cy="170.6" r="2.05" fill="#9928b0"/><circle cx="424.0" cy="168.9" r="2.05" fill="#e7007f"/><circle cx="483.1" cy="170.6" r="2.05" fill="#007bf5"/><circle cx="431.1" cy="170.6" r="2.05" fill="#da008b"/><circle cx="423.0" cy="172.3" r="2.05" fill="#cb0096"/><circle cx="485.3" cy="168.9" r="2.05" fill="#007ff6"/><circle cx="471.4" cy="170.6" r="2.05" fill="#008bfb"/><circle cx="423.2" cy="168.9" r="2.05" fill="#007bf5"/><circle cx="475.7" cy="168.9" r="2.05" fill="#0082f8"/><circle cx="436.8" cy="172.3" r="2.05" fill="#f20072"/><circle cx="431.5" cy="170.6" r="2.05" fill="#d00093"/><circle cx="435.3" cy="170.6" r="2.05" fill="#c0009d"/><circle cx="473.2" cy="170.6" r="2.05" fill="#007bf5"/><circle cx="469.5" cy="168.9" r="2.05" fill="#0075f1"/><circle cx="430.2" cy="170.6" r="2.05" fill="#d5008f"/><circle cx="427.7" cy="167.2" r="2.05" fill="#d00093"/><circle cx="469.5" cy="172.3" r="2.05" fill="#0085f9"/><circle cx="481.5" cy="172.3" r="2.05" fill="#186eec"/><circle cx="428.8" cy="168.9" r="2.05" fill="#d00093"/><circle cx="432.9" cy="168.9" r="2.05" fill="#9f21ac"/><circle cx="471.7" cy="168.9" r="2.05" fill="#007ff6"/><circle cx="478.6" cy="170.6" r="2.05" fill="#0078f3"/><circle cx="487.6" cy="170.6" r="2.05" fill="#0075f1"/><circle cx="424.1" cy="172.3" r="2.05" fill="#595edf"/><circle cx="472.5" cy="168.9" r="2.05" fill="#186eec"/><circle cx="437.5" cy="168.9" r="2.05" fill="#c0009d"/><circle cx="474.1" cy="168.9" r="2.05" fill="#0085f9"/><circle cx="475.6" cy="174.0" r="2.05" fill="#0071ee"/><circle cx="489.6" cy="170.6" r="2.05" fill="#0078f3"/><circle cx="426.4" cy="172.3" r="2.05" fill="#d5008f"/><circle cx="436.4" cy="170.6" r="2.05" fill="#952fb5"/><circle cx="431.0" cy="167.2" r="2.05" fill="#d00093"/><circle cx="468.8" cy="168.9" r="2.05" fill="#0078f3"/><circle cx="428.4" cy="170.6" r="2.05" fill="#c0009d"/><circle cx="422.7" cy="170.6" r="2.05" fill="#da008b"/><circle cx="483.5" cy="168.9" r="2.05" fill="#595edf"/><circle cx="486.3" cy="170.6" r="2.05" fill="#0078f3"/><circle cx="480.8" cy="170.6" r="2.05" fill="#0078f3"/><circle cx="440.0" cy="168.9" r="2.05" fill="#8b3cc0"/><circle cx="477.7" cy="168.9" r="2.05" fill="#4e62e2"/><circle cx="424.7" cy="172.3" r="2.05" fill="#595edf"/><circle cx="489.1" cy="170.6" r="2.05" fill="#316ae9"/><circle cx="438.9" cy="168.9" r="2.05" fill="#b30ca4"/><circle cx="428.7" cy="172.3" r="2.05" fill="#8642c5"/><circle cx="490.0" cy="168.9" r="2.05" fill="#007bf5"/><circle cx="426.0" cy="168.9" r="2.05" fill="#ff0051"/><circle cx="429.4" cy="172.3" r="2.05" fill="#7251d3"/><circle cx="476.0" cy="172.3" r="2.05" fill="#008bfb"/><circle cx="483.9" cy="170.6" r="2.05" fill="#007bf5"/><circle cx="478.2" cy="170.6" r="2.05" fill="#4166e6"/><circle cx="484.7" cy="170.6" r="2.05" fill="#0082f8"/><circle cx="429.6" cy="168.9" r="2.05" fill="#ad15a7"/><circle cx="439.1" cy="170.6" r="2.05" fill="#f20072"/><circle cx="421.0" cy="170.6" r="2.05" fill="#625adb"/><circle cx="472.7" cy="172.3" r="2.05" fill="#007ff6"/><circle cx="424.7" cy="168.9" r="2.05" fill="#595edf"/><circle cx="421.4" cy="170.6" r="2.05" fill="#d00093"/><circle cx="474.4" cy="172.3" r="2.05" fill="#007ff6"/></g>
<g><circle cx="418.0" cy="190.7" r="2.05" fill="#007ff6"/><circle cx="481.1" cy="185.6" r="2.05" fill="#f80069"/><circle cx="425.4" cy="185.6" r="2.05" fill="#595edf"/><circle cx="420.7" cy="185.6" r="2.05" fill="#595edf"/><circle cx="419.1" cy="192.4" r="2.05" fill="#0075f1"/><circle cx="451.0" cy="189.0" r="2.05" fill="#b30ca4"/><circle cx="463.8" cy="187.3" r="2.05" fill="#a61ca9"/><circle cx="425.3" cy="190.7" r="2.05" fill="#0075f1"/><circle cx="428.0" cy="187.3" r="2.05" fill="#008bfb"/><circle cx="447.9" cy="187.3" r="2.05" fill="#625adb"/><circle cx="480.6" cy="185.6" r="2.05" fill="#f5006d"/><circle cx="469.2" cy="187.3" r="2.05" fill="#d5008f"/><circle cx="453.5" cy="187.3" r="2.05" fill="#ad15a7"/><circle cx="496.7" cy="189.0" r="2.05" fill="#c5009a"/><circle cx="507.5" cy="189.0" r="2.05" fill="#df0087"/><circle cx="505.4" cy="189.0" r="2.05" fill="#f20072"/><circle cx="473.0" cy="189.0" r="2.05" fill="#df0087"/><circle cx="431.5" cy="190.7" r="2.05" fill="#008bfb"/><circle cx="475.0" cy="189.0" r="2.05" fill="#e30083"/><circle cx="468.1" cy="187.3" r="2.05" fill="#a61ca9"/><circle cx="445.2" cy="187.3" r="2.05" fill="#9928b0"/><circle cx="433.9" cy="190.7" r="2.05" fill="#4166e6"/><circle cx="470.7" cy="187.3" r="2.05" fill="#c5009a"/><circle cx="472.2" cy="189.0" r="2.05" fill="#ef0076"/><circle cx="477.2" cy="185.6" r="2.05" fill="#eb007a"/><circle cx="442.3" cy="189.0" r="2.05" fill="#7251d3"/><circle cx="425.7" cy="189.0" r="2.05" fill="#8047ca"/><circle cx="423.7" cy="190.7" r="2.05" fill="#007ff6"/><circle cx="476.5" cy="190.7" r="2.05" fill="#ff005b"/><circle cx="426.7" cy="187.3" r="2.05" fill="#0088fa"/><circle cx="474.0" cy="187.3" r="2.05" fill="#ff0051"/><circle cx="482.9" cy="189.0" r="2.05" fill="#fb0064"/><circle cx="418.2" cy="183.9" r="2.05" fill="#186eec"/><circle cx="475.9" cy="187.3" r="2.05" fill="#e30083"/><circle cx="448.5" cy="190.7" r="2.05" fill="#c0009d"/><circle cx="418.5" cy="185.6" r="2.05" fill="#0071ee"/><circle cx="436.0" cy="189.0" r="2.05" fill="#8642c5"/><circle cx="465.1" cy="189.0" r="2.05" fill="#9f21ac"/><circle cx="485.9" cy="189.0" r="2.05" fill="#e7007f"/><circle cx="452.5" cy="187.3" r="2.05" fill="#8b3cc0"/><circle cx="421.5" cy="192.4" r="2.05" fill="#4166e6"/><circle cx="473.6" cy="185.6" r="2.05" fill="#f5006d"/><circle cx="417.9" cy="187.3" r="2.05" fill="#0085f9"/><circle cx="452.1" cy="190.7" r="2.05" fill="#9036bb"/><circle cx="430.4" cy="190.7" r="2.05" fill="#316ae9"/><circle cx="446.6" cy="187.3" r="2.05" fill="#9036bb"/><circle cx="425.9" cy="189.0" r="2.05" fill="#0082f8"/><circle cx="435.5" cy="190.7" r="2.05" fill="#316ae9"/><circle cx="479.7" cy="185.6" r="2.05" fill="#ff0051"/><circle cx="428.2" cy="189.0" r="2.05" fill="#0075f1"/><circle cx="472.4" cy="187.3" r="2.05" fill="#fb0064"/><circle cx="499.1" cy="189.0" r="2.05" fill="#b30ca4"/><circle cx="444.3" cy="187.3" r="2.05" fill="#4e62e2"/><circle cx="443.6" cy="187.3" r="2.05" fill="#b30ca4"/><circle cx="442.1" cy="187.3" r="2.05" fill="#8047ca"/><circle cx="459.1" cy="189.0" r="2.05" fill="#b30ca4"/><circle cx="473.4" cy="187.3" r="2.05" fill="#ef0076"/><circle cx="440.5" cy="189.0" r="2.05" fill="#0078f3"/><circle cx="431.9" cy="190.7" r="2.05" fill="#0075f1"/><circle cx="446.3" cy="189.0" r="2.05" fill="#8b3cc0"/><circle cx="502.3" cy="189.0" r="2.05" fill="#f20072"/><circle cx="480.8" cy="190.7" r="2.05" fill="#f5006d"/><circle cx="448.4" cy="189.0" r="2.05" fill="#ad15a7"/><circle cx="434.4" cy="187.3" r="2.05" fill="#4e62e2"/><circle cx="448.8" cy="187.3" r="2.05" fill="#9036bb"/><circle cx="441.3" cy="187.3" r="2.05" fill="#794cce"/><circle cx="450.2" cy="189.0" r="2.05" fill="#625adb"/><circle cx="456.7" cy="189.0" r="2.05" fill="#b30ca4"/><circle cx="475.6" cy="192.4" r="2.05" fill="#f20072"/><circle cx="471.5" cy="187.3" r="2.05" fill="#eb007a"/><circle cx="470.4" cy="190.7" r="2.05" fill="#ff0051"/><circle cx="454.1" cy="189.0" r="2.05" fill="#8047ca"/><circle cx="456.3" cy="189.0" r="2.05" fill="#ad15a7"/><circle cx="432.9" cy="189.0" r="2.05" fill="#007bf5"/><circle cx="478.2" cy="187.3" r="2.05" fill="#fd005f"/><circle cx="437.0" cy="187.3" r="2.05" fill="#625adb"/><circle cx="434.7" cy="189.0" r="2.05" fill="#595edf"/><circle cx="472.2" cy="185.6" r="2.05" fill="#f5006d"/><circle cx="418.4" cy="189.0" r="2.05" fill="#007bf5"/><circle cx="464.9" cy="187.3" r="2.05" fill="#d00093"/><circle cx="426.4" cy="190.7" r="2.05" fill="#0085f9"/><circle cx="416.1" cy="187.3" r="2.05" fill="#0071ee"/><circle cx="429.2" cy="189.0" r="2.05" fill="#186eec"/><circle cx="450.4" cy="190.7" r="2.05" fill="#b30ca4"/><circle cx="444.7" cy="189.0" r="2.05" fill="#9928b0"/><circle cx="424.2" cy="185.6" r="2.05" fill="#625adb"/><circle cx="486.4" cy="187.3" r="2.05" fill="#ff0051"/><circle cx="468.8" cy="189.0" r="2.05" fill="#b30ca4"/><circle cx="477.8" cy="185.6" r="2.05" fill="#ff0056"/><circle cx="421.4" cy="190.7" r="2.05" fill="#007ff6"/><circle cx="428.3" cy="190.7" r="2.05" fill="#316ae9"/><circle cx="431.0" cy="189.0" r="2.05" fill="#186eec"/><circle cx="429.9" cy="185.6" r="2.05" fill="#316ae9"/><circle cx="441.3" cy="189.0" r="2.05" fill="#4166e6"/><circle cx="417.6" cy="185.6" r="2.05" fill="#4e62e2"/><circle cx="439.7" cy="187.3" r="2.05" fill="#595edf"/><circle cx="443.6" cy="189.0" r="2.05" fill="#9036bb"/><circle cx="423.2" cy="189.0" r="2.05" fill="#4e62e2"/><circle cx="421.3" cy="183.9" r="2.05" fill="#008bfb"/><circle cx="424.7" cy="189.0" r="2.05" fill="#008bfb"/><circle cx="426.9" cy="189.0" r="2.05" fill="#7251d3"/><circle cx="508.2" cy="189.0" r="2.05" fill="#f5006d"/><circle cx="434.6" cy="189.0" r="2.05" fill="#6a56d7"/><circle cx="475.2" cy="187.3" r="2.05" fill="#9036bb"/><circle cx="463.6" cy="189.0" r="2.05" fill="#eb007a"/><circle cx="458.8" cy="187.3" r="2.05" fill="#b30ca4"/><circle cx="458.3" cy="190.7" r="2.05" fill="#9f21ac"/><circle cx="497.5" cy="189.0" r="2.05" fill="#df0087"/><circle cx="481.6" cy="187.3" r="2.05" fill="#d5008f"/><circle cx="453.2" cy="189.0" r="2.05" fill="#d5008f"/><circle cx="441.6" cy="190.7" r="2.05" fill="#9036bb"/><circle cx="453.9" cy="187.3" r="2.05" fill="#8642c5"/><circle cx="421.5" cy="194.1" r="2.05" fill="#0075f1"/><circle cx="420.8" cy="187.3" r="2.05" fill="#0078f3"/><circle cx="455.3" cy="187.3" r="2.05" fill="#ad15a7"/><circle cx="459.3" cy="190.7" r="2.05" fill="#9f21ac"/><circle cx="466.2" cy="189.0" r="2.05" fill="#c0009d"/><circle cx="419.3" cy="189.0" r="2.05" fill="#4e62e2"/><circle cx="426.8" cy="187.3" r="2.05" fill="#0078f3"/><circle cx="460.7" cy="189.0" r="2.05" fill="#a61ca9"/><circle cx="439.9" cy="187.3" r="2.05" fill="#794cce"/><circle cx="466.8" cy="189.0" r="2.05" fill="#8b3cc0"/><circle cx="462.2" cy="189.0" r="2.05" fill="#c0009d"/><circle cx="439.9" cy="190.7" r="2.05" fill="#794cce"/><circle cx="437.8" cy="187.3" r="2.05" fill="#8b3cc0"/><circle cx="464.7" cy="189.0" r="2.05" fill="#e30083"/><circle cx="477.9" cy="190.7" r="2.05" fill="#e7007f"/><circle cx="424.5" cy="192.4" r="2.05" fill="#0088fa"/><circle cx="504.1" cy="189.0" r="2.05" fill="#9928b0"/><circle cx="478.7" cy="187.3" r="2.05" fill="#ef0076"/><circle cx="425.7" cy="187.3" r="2.05" fill="#008bfb"/><circle cx="432.3" cy="189.0" r="2.05" fill="#6a56d7"/><circle cx="459.7" cy="189.0" r="2.05" fill="#8b3cc0"/><circle cx="424.1" cy="183.9" r="2.05" fill="#186eec"/><circle cx="416.7" cy="189.0" r="2.05" fill="#007ff6"/><circle cx="478.9" cy="192.4" r="2.05" fill="#df0087"/><circle cx="473.6" cy="190.7" r="2.05" fill="#eb007a"/><circle cx="417.2" cy="187.3" r="2.05" fill="#186eec"/><circle cx="428.1" cy="192.4" r="2.05" fill="#007ff6"/><circle cx="449.0" cy="189.0" r="2.05" fill="#ba00a0"/><circle cx="467.5" cy="187.3" r="2.05" fill="#ba00a0"/><circle cx="436.1" cy="187.3" r="2.05" fill="#952fb5"/><circle cx="417.9" cy="192.4" r="2.05" fill="#0071ee"/><circle cx="438.1" cy="189.0" r="2.05" fill="#8047ca"/><circle cx="461.2" cy="187.3" r="2.05" fill="#ba00a0"/><circle cx="436.9" cy="189.0" r="2.05" fill="#9036bb"/><circle cx="488.2" cy="189.0" r="2.05" fill="#cb0096"/><circle cx="424.1" cy="187.3" r="2.05" fill="#0075f1"/><circle cx="480.6" cy="190.7" r="2.05" fill="#f5006d"/><circle cx="419.6" cy="190.7" r="2.05" fill="#007ff6"/><circle cx="422.0" cy="185.6" r="2.05" fill="#316ae9"/><circle cx="421.4" cy="189.0" r="2.05" fill="#595edf"/><circle cx="435.0" cy="187.3" r="2.05" fill="#4e62e2"/><circle cx="475.2" cy="190.7" r="2.05" fill="#f5006d"/><circle cx="420.0" cy="190.7" r="2.05" fill="#186eec"/><circle cx="439.3" cy="189.0" r="2.05" fill="#794cce"/><circle cx="501.4" cy="189.0" r="2.05" fill="#ff005b"/><circle cx="420.0" cy="189.0" r="2.05" fill="#007bf5"/><circle cx="422.2" cy="189.0" r="2.05" fill="#595edf"/><circle cx="428.7" cy="185.6" r="2.05" fill="#316ae9"/><circle cx="462.5" cy="187.3" r="2.05" fill="#cb0096"/><circle cx="420.2" cy="185.6" r="2.05" fill="#008bfb"/><circle cx="445.3" cy="189.0" r="2.05" fill="#9928b0"/><circle cx="437.0" cy="190.7" r="2.05" fill="#8642c5"/><circle cx="474.3" cy="189.0" r="2.05" fill="#fb0064"/><circle cx="478.2" cy="192.4" r="2.05" fill="#f80069"/><circle cx="460.0" cy="187.3" r="2.05" fill="#ba00a0"/><circle cx="467.7" cy="189.0" r="2.05" fill="#da008b"/><circle cx="446.9" cy="189.0" r="2.05" fill="#952fb5"/><circle cx="423.0" cy="187.3" r="2.05" fill="#0085f9"/><circle cx="422.6" cy="190.7" r="2.05" fill="#0075f1"/><circle cx="442.2" cy="190.7" r="2.05" fill="#595edf"/><circle cx="458.4" cy="187.3" r="2.05" fill="#9928b0"/><circle cx="499.4" cy="189.0" r="2.05" fill="#c5009a"/><circle cx="416.2" cy="189.0" r="2.05" fill="#0078f3"/><circle cx="477.1" cy="190.7" r="2.05" fill="#ff0056"/><circle cx="458.5" cy="189.0" r="2.05" fill="#a61ca9"/><circle cx="476.2" cy="189.0" r="2.05" fill="#f80069"/><circle cx="485.4" cy="189.0" r="2.05" fill="#ff0051"/><circle cx="430.7" cy="187.3" r="2.05" fill="#7251d3"/><circle cx="430.2" cy="187.3" r="2.05" fill="#7251d3"/><circle cx="483.7" cy="189.0" r="2.05" fill="#f80069"/><circle cx="449.8" cy="187.3" r="2.05" fill="#ba00a0"/><circle cx="423.9" cy="190.7" r="2.05" fill="#4e62e2"/><circle cx="457.5" cy="187.3" r="2.05" fill="#8642c5"/><circle cx="471.1" cy="189.0" r="2.05" fill="#ff005b"/><circle cx="476.9" cy="189.0" r="2.05" fill="#e30083"/><circle cx="430.0" cy="189.0" r="2.05" fill="#186eec"/><circle cx="505.0" cy="189.0" r="2.05" fill="#cb0096"/><circle cx="486.8" cy="189.0" r="2.05" fill="#e30083"/><circle cx="506.7" cy="189.0" r="2.05" fill="#e7007f"/><circle cx="509.5" cy="189.0" r="2.05" fill="#e7007f"/><circle cx="422.1" cy="192.4" r="2.05" fill="#0085f9"/><circle cx="472.5" cy="190.7" r="2.05" fill="#ef0076"/><circle cx="432.9" cy="187.3" r="2.05" fill="#007ff6"/><circle cx="481.3" cy="189.0" r="2.05" fill="#f5006d"/><circle cx="419.6" cy="187.3" r="2.05" fill="#007ff6"/><circle cx="479.5" cy="190.7" r="2.05" fill="#ef0076"/><circle cx="451.5" cy="187.3" r="2.05" fill="#9928b0"/><circle cx="439.2" cy="190.7" r="2.05" fill="#007bf5"/><circle cx="479.7" cy="189.0" r="2.05" fill="#f80069"/><circle cx="478.4" cy="189.0" r="2.05" fill="#da008b"/><circle cx="415.0" cy="189.0" r="2.05" fill="#186eec"/><circle cx="454.8" cy="189.0" r="2.05" fill="#ad15a7"/><circle cx="415.2" cy="187.3" r="2.05" fill="#007bf5"/><circle cx="466.6" cy="187.3" r="2.05" fill="#d00093"/><circle cx="419.7" cy="187.3" r="2.05" fill="#794cce"/><circle cx="480.7" cy="187.3" r="2.05" fill="#ff005b"/><circle cx="477.0" cy="187.3" r="2.05" fill="#d5008f"/><circle cx="419.6" cy="185.6" r="2.05" fill="#7251d3"/><circle cx="447.6" cy="187.3" r="2.05" fill="#625adb"/><circle cx="479.9" cy="189.0" r="2.05" fill="#ff0051"/><circle cx="455.7" cy="190.7" r="2.05" fill="#8642c5"/><circle cx="429.3" cy="187.3" r="2.05" fill="#008bfb"/><circle cx="452.1" cy="189.0" r="2.05" fill="#ad15a7"/><circle cx="436.6" cy="190.7" r="2.05" fill="#625adb"/><circle cx="427.2" cy="190.7" r="2.05" fill="#0078f3"/><circle cx="475.3" cy="185.6" r="2.05" fill="#e30083"/><circle cx="422.5" cy="187.3" r="2.05" fill="#316ae9"/><circle cx="425.1" cy="192.4" r="2.05" fill="#186eec"/><circle cx="473.8" cy="190.7" r="2.05" fill="#ff005b"/><circle cx="500.5" cy="189.0" r="2.05" fill="#ad15a7"/><circle cx="422.6" cy="183.9" r="2.05" fill="#0075f1"/><circle cx="431.7" cy="187.3" r="2.05" fill="#0075f1"/><circle cx="482.3" cy="187.3" r="2.05" fill="#ef0076"/><circle cx="476.3" cy="185.6" r="2.05" fill="#d5008f"/><circle cx="482.1" cy="189.0" r="2.05" fill="#ff0051"/><circle cx="470.0" cy="189.0" r="2.05" fill="#df0087"/><circle cx="417.2" cy="190.7" r="2.05" fill="#8047ca"/></g>
<g><circle cx="449.8" cy="207.5" r="2.05" fill="#d00093"/><circle cx="434.2" cy="209.2" r="2.05" fill="#d5008f"/><circle cx="451.2" cy="207.5" r="2.05" fill="#cb0096"/><circle cx="481.3" cy="204.1" r="2.05" fill="#952fb5"/><circle cx="474.7" cy="209.2" r="2.05" fill="#008bfb"/><circle cx="443.6" cy="205.8" r="2.05" fill="#c5009a"/><circle cx="414.8" cy="207.5" r="2.05" fill="#fb0064"/><circle cx="424.5" cy="209.2" r="2.05" fill="#ff0051"/><circle cx="444.4" cy="205.8" r="2.05" fill="#8b3cc0"/><circle cx="441.1" cy="207.5" r="2.05" fill="#cb0096"/><circle cx="442.8" cy="205.8" r="2.05" fill="#9928b0"/><circle cx="421.3" cy="202.4" r="2.05" fill="#d5008f"/><circle cx="424.8" cy="207.5" r="2.05" fill="#ff0056"/><circle cx="420.7" cy="205.8" r="2.05" fill="#c5009a"/><circle cx="419.6" cy="209.2" r="2.05" fill="#fb0064"/><circle cx="466.3" cy="207.5" r="2.05" fill="#186eec"/><circle cx="431.7" cy="207.5" r="2.05" fill="#cb0096"/><circle cx="416.0" cy="209.2" r="2.05" fill="#ff0051"/><circle cx="423.0" cy="204.1" r="2.05" fill="#fb0064"/><circle cx="480.5" cy="204.1" r="2.05" fill="#625adb"/><circle cx="420.4" cy="210.9" r="2.05" fill="#fb0064"/><circle cx="490.5" cy="207.5" r="2.05" fill="#4166e6"/><circle cx="416.9" cy="210.9" r="2.05" fill="#ff0051"/><circle cx="417.3" cy="205.8" r="2.05" fill="#fd005f"/><circle cx="477.2" cy="207.5" r="2.05" fill="#0078f3"/><circle cx="415.4" cy="205.8" r="2.05" fill="#f5006d"/><circle cx="477.8" cy="210.9" r="2.05" fill="#316ae9"/><circle cx="416.4" cy="205.8" r="2.05" fill="#f20072"/><circle cx="470.3" cy="205.8" r="2.05" fill="#0078f3"/><circle cx="487.0" cy="207.5" r="2.05" fill="#007bf5"/><circle cx="474.0" cy="207.5" r="2.05" fill="#007ff6"/><circle cx="479.3" cy="205.8" r="2.05" fill="#186eec"/><circle cx="420.6" cy="209.2" r="2.05" fill="#df0087"/><circle cx="438.5" cy="207.5" r="2.05" fill="#9036bb"/><circle cx="480.5" cy="207.5" r="2.05" fill="#007bf5"/><circle cx="474.7" cy="204.1" r="2.05" fill="#0071ee"/><circle cx="479.6" cy="204.1" r="2.05" fill="#186eec"/><circle cx="421.8" cy="204.1" r="2.05" fill="#cb0096"/><circle cx="414.2" cy="205.8" r="2.05" fill="#f80069"/><circle cx="419.3" cy="205.8" r="2.05" fill="#ff0051"/><circle cx="433.2" cy="204.1" r="2.05" fill="#f5006d"/><circle cx="424.4" cy="205.8" r="2.05" fill="#ef0076"/><circle cx="417.8" cy="207.5" r="2.05" fill="#ff0051"/><circle cx="428.4" cy="205.8" r="2.05" fill="#d00093"/><circle cx="435.9" cy="207.5" r="2.05" fill="#da008b"/><circle cx="477.1" cy="209.2" r="2.05" fill="#8642c5"/><circle cx="486.2" cy="207.5" r="2.05" fill="#595edf"/><circle cx="449.1" cy="205.8" r="2.05" fill="#8047ca"/><circle cx="446.1" cy="205.8" r="2.05" fill="#8642c5"/><circle cx="427.2" cy="209.2" r="2.05" fill="#df0087"/><circle cx="483.7" cy="205.8" r="2.05" fill="#595edf"/><circle cx="429.1" cy="209.2" r="2.05" fill="#ba00a0"/><circle cx="477.5" cy="204.1" r="2.05" fill="#186eec"/><circle cx="471.1" cy="205.8" r="2.05" fill="#0082f8"/><circle cx="483.4" cy="205.8" r="2.05" fill="#595edf"/><circle cx="432.0" cy="205.8" r="2.05" fill="#d5008f"/><circle cx="477.0" cy="202.4" r="2.05" fill="#4166e6"/><circle cx="437.9" cy="207.5" r="2.05" fill="#9036bb"/><circle cx="472.3" cy="207.5" r="2.05" fill="#625adb"/><circle cx="417.4" cy="204.1" r="2.05" fill="#ff0056"/><circle cx="425.6" cy="205.8" r="2.05" fill="#d5008f"/><circle cx="418.5" cy="204.1" r="2.05" fill="#ad15a7"/><circle cx="443.6" cy="207.5" r="2.05" fill="#a61ca9"/><circle cx="480.2" cy="205.8" r="2.05" fill="#0071ee"/><circle cx="422.1" cy="207.5" r="2.05" fill="#ff005b"/><circle cx="487.1" cy="205.8" r="2.05" fill="#008bfb"/><circle cx="430.7" cy="207.5" r="2.05" fill="#ba00a0"/><circle cx="478.6" cy="209.2" r="2.05" fill="#0088fa"/><circle cx="476.5" cy="204.1" r="2.05" fill="#007ff6"/><circle cx="472.2" cy="205.8" r="2.05" fill="#0085f9"/><circle cx="436.8" cy="205.8" r="2.05" fill="#8b3cc0"/><circle cx="415.7" cy="204.1" r="2.05" fill="#ad15a7"/><circle cx="463.3" cy="207.5" r="2.05" fill="#316ae9"/><circle cx="476.0" cy="205.8" r="2.05" fill="#0078f3"/><circle cx="444.5" cy="207.5" r="2.05" fill="#8642c5"/><circle cx="472.9" cy="205.8" r="2.05" fill="#186eec"/><circle cx="491.5" cy="207.5" r="2.05" fill="#7251d3"/><circle cx="437.7" cy="209.2" r="2.05" fill="#e7007f"/><circle cx="418.0" cy="202.4" r="2.05" fill="#f20072"/><circle cx="482.0" cy="205.8" r="2.05" fill="#595edf"/><circle cx="473.0" cy="204.1" r="2.05" fill="#0088fa"/><circle cx="473.2" cy="209.2" r="2.05" fill="#008bfb"/><circle cx="472.1" cy="204.1" r="2.05" fill="#0075f1"/><circle cx="485.8" cy="205.8" r="2.05" fill="#4166e6"/><circle cx="480.6" cy="210.9" r="2.05" fill="#007ff6"/><circle cx="448.6" cy="207.5" r="2.05" fill="#b30ca4"/><circle cx="430.2" cy="205.8" r="2.05" fill="#c5009a"/><circle cx="427.8" cy="204.1" r="2.05" fill="#e7007f"/><circle cx="416.0" cy="204.1" r="2.05" fill="#f20072"/><circle cx="468.2" cy="207.5" r="2.05" fill="#007ff6"/><circle cx="485.0" cy="205.8" r="2.05" fill="#008bfb"/><circle cx="473.7" cy="205.8" r="2.05" fill="#595edf"/><circle cx="478.5" cy="204.1" r="2.05" fill="#6a56d7"/><circle cx="463.6" cy="205.8" r="2.05" fill="#952fb5"/><circle cx="483.4" cy="209.2" r="2.05" fill="#008bfb"/><circle cx="489.4" cy="207.5" r="2.05" fill="#008bfb"/><circle cx="434.7" cy="207.5" r="2.05" fill="#a61ca9"/><circle cx="429.9" cy="205.8" r="2.05" fill="#eb007a"/><circle cx="486.6" cy="209.2" r="2.05" fill="#0078f3"/><circle cx="420.2" cy="207.5" r="2.05" fill="#e30083"/><circle cx="416.2" cy="207.5" r="2.05" fill="#eb007a"/><circle cx="479.2" cy="209.2" r="2.05" fill="#595edf"/><circle cx="451.0" cy="205.8" r="2.05" fill="#794cce"/><circle cx="418.1" cy="209.2" r="2.05" fill="#ef0076"/><circle cx="450.7" cy="205.8" r="2.05" fill="#a61ca9"/><circle cx="421.7" cy="207.5" r="2.05" fill="#ff0051"/><circle cx="480.9" cy="207.5" r="2.05" fill="#316ae9"/><circle cx="477.4" cy="212.6" r="2.05" fill="#4166e6"/><circle cx="450.2" cy="207.5" r="2.05" fill="#6a56d7"/><circle cx="423.8" cy="209.2" r="2.05" fill="#d5008f"/><circle cx="452.8" cy="207.5" r="2.05" fill="#c5009a"/><circle cx="442.5" cy="209.2" r="2.05" fill="#cb0096"/><circle cx="436.4" cy="209.2" r="2.05" fill="#9f21ac"/><circle cx="426.8" cy="205.8" r="2.05" fill="#fb0064"/><circle cx="474.3" cy="204.1" r="2.05" fill="#007ff6"/><circle cx="429.8" cy="207.5" r="2.05" fill="#ba00a0"/><circle cx="441.7" cy="205.8" r="2.05" fill="#9928b0"/><circle cx="447.0" cy="205.8" r="2.05" fill="#cb0096"/><circle cx="488.2" cy="205.8" r="2.05" fill="#007bf5"/><circle cx="479.4" cy="207.5" r="2.05" fill="#4e62e2"/><circle cx="427.2" cy="207.5" r="2.05" fill="#e30083"/><circle cx="470.1" cy="207.5" r="2.05" fill="#4e62e2"/><circle cx="415.2" cy="207.5" r="2.05" fill="#e30083"/><circle cx="476.4" cy="209.2" r="2.05" fill="#625adb"/><circle cx="421.7" cy="209.2" r="2.05" fill="#d00093"/><circle cx="467.6" cy="207.5" r="2.05" fill="#8047ca"/><circle cx="426.3" cy="207.5" r="2.05" fill="#f20072"/><circle cx="439.5" cy="207.5" r="2.05" fill="#8b3cc0"/><circle cx="440.9" cy="205.8" r="2.05" fill="#eb007a"/><circle cx="474.9" cy="210.9" r="2.05" fill="#4166e6"/><circle cx="444.6" cy="209.2" r="2.05" fill="#cb0096"/><circle cx="432.3" cy="209.2" r="2.05" fill="#ba00a0"/><circle cx="440.1" cy="207.5" r="2.05" fill="#df0087"/><circle cx="428.2" cy="207.5" r="2.05" fill="#d5008f"/><circle cx="422.6" cy="205.8" r="2.05" fill="#da008b"/><circle cx="426.7" cy="209.2" r="2.05" fill="#ba00a0"/><circle cx="433.0" cy="209.2" r="2.05" fill="#8642c5"/><circle cx="442.2" cy="207.5" r="2.05" fill="#cb0096"/><circle cx="464.3" cy="207.5" r="2.05" fill="#4e62e2"/><circle cx="482.3" cy="207.5" r="2.05" fill="#ba00a0"/><circle cx="431.8" cy="205.8" r="2.05" fill="#a61ca9"/><circle cx="480.7" cy="209.2" r="2.05" fill="#007ff6"/><circle cx="484.7" cy="209.2" r="2.05" fill="#316ae9"/><circle cx="469.3" cy="205.8" r="2.05" fill="#008bfb"/><circle cx="483.5" cy="204.1" r="2.05" fill="#316ae9"/><circle cx="487.9" cy="207.5" r="2.05" fill="#0075f1"/><circle cx="434.6" cy="205.8" r="2.05" fill="#a61ca9"/><circle cx="439.9" cy="205.8" r="2.05" fill="#9f21ac"/><circle cx="464.8" cy="207.5" r="2.05" fill="#0075f1"/><circle cx="481.9" cy="209.2" r="2.05" fill="#952fb5"/><circle cx="425.8" cy="207.5" r="2.05" fill="#eb007a"/><circle cx="447.9" cy="207.5" r="2.05" fill="#9036bb"/><circle cx="430.7" cy="209.2" r="2.05" fill="#f20072"/><circle cx="471.1" cy="207.5" r="2.05" fill="#008bfb"/><circle cx="433.2" cy="205.8" r="2.05" fill="#ad15a7"/><circle cx="464.5" cy="205.8" r="2.05" fill="#186eec"/><circle cx="418.9" cy="205.8" r="2.05" fill="#ff0051"/><circle cx="435.3" cy="205.8" r="2.05" fill="#c0009d"/><circle cx="436.7" cy="207.5" r="2.05" fill="#9f21ac"/><circle cx="478.5" cy="207.5" r="2.05" fill="#6a56d7"/><circle cx="484.2" cy="207.5" r="2.05" fill="#316ae9"/><circle cx="432.6" cy="207.5" r="2.05" fill="#c5009a"/><circle cx="419.1" cy="207.5" r="2.05" fill="#f5006d"/><circle cx="480.0" cy="209.2" r="2.05" fill="#0071ee"/><circle cx="475.2" cy="205.8" r="2.05" fill="#008bfb"/><circle cx="473.4" cy="207.5" r="2.05" fill="#0082f8"/><circle cx="435.0" cy="209.2" r="2.05" fill="#b30ca4"/><circle cx="417.6" cy="209.2" r="2.05" fill="#ff0051"/><circle cx="421.7" cy="210.9" r="2.05" fill="#fb0064"/><circle cx="462.6" cy="207.5" r="2.05" fill="#4166e6"/><circle cx="437.6" cy="205.8" r="2.05" fill="#d5008f"/><circle cx="474.8" cy="207.5" r="2.05" fill="#0078f3"/><circle cx="477.3" cy="205.8" r="2.05" fill="#8047ca"/><circle cx="422.6" cy="204.1" r="2.05" fill="#fd005f"/><circle cx="476.7" cy="207.5" r="2.05" fill="#316ae9"/><circle cx="477.4" cy="210.9" r="2.05" fill="#595edf"/><circle cx="445.2" cy="207.5" r="2.05" fill="#ba00a0"/><circle cx="446.1" cy="207.5" r="2.05" fill="#b30ca4"/><circle cx="476.6" cy="210.9" r="2.05" fill="#625adb"/><circle cx="417.2" cy="210.9" r="2.05" fill="#ff0056"/><circle cx="483.2" cy="207.5" r="2.05" fill="#008bfb"/><circle cx="480.9" cy="205.8" r="2.05" fill="#595edf"/><circle cx="423.7" cy="207.5" r="2.05" fill="#ef0076"/><circle cx="420.3" cy="204.1" r="2.05" fill="#fd005f"/><circle cx="469.4" cy="207.5" r="2.05" fill="#316ae9"/><circle cx="447.7" cy="209.2" r="2.05" fill="#ad15a7"/><circle cx="427.7" cy="205.8" r="2.05" fill="#f5006d"/><circle cx="423.0" cy="205.8" r="2.05" fill="#fd005f"/><circle cx="422.4" cy="209.2" r="2.05" fill="#ff0051"/><circle cx="485.6" cy="207.5" r="2.05" fill="#625adb"/><circle cx="478.6" cy="205.8" r="2.05" fill="#0071ee"/><circle cx="421.1" cy="205.8" r="2.05" fill="#ff0051"/><circle cx="433.5" cy="207.5" r="2.05" fill="#da008b"/><circle cx="416.2" cy="209.2" r="2.05" fill="#eb007a"/><circle cx="465.0" cy="205.8" r="2.05" fill="#0085f9"/><circle cx="472.0" cy="209.2" r="2.05" fill="#9036bb"/><circle cx="418.5" cy="207.5" r="2.05" fill="#ff0051"/><circle cx="474.4" cy="209.2" r="2.05" fill="#186eec"/></g>
<g><circle cx="492.7" cy="224.2" r="2.05" fill="#7251d3"/><circle cx="483.7" cy="227.6" r="2.05" fill="#c5009a"/><circle cx="486.4" cy="224.2" r="2.05" fill="#ff005b"/><circle cx="487.2" cy="227.6" r="2.05" fill="#a61ca9"/><circle cx="422.3" cy="225.9" r="2.05" fill="#8047ca"/><circle cx="491.1" cy="224.2" r="2.05" fill="#9036bb"/><circle cx="436.3" cy="227.6" r="2.05" fill="#007bf5"/><circle cx="421.1" cy="224.2" r="2.05" fill="#794cce"/><circle cx="484.4" cy="225.9" r="2.05" fill="#ff0051"/><circle cx="435.6" cy="224.2" r="2.05" fill="#007ff6"/><circle cx="485.2" cy="229.3" r="2.05" fill="#cb0096"/><circle cx="484.8" cy="227.6" r="2.05" fill="#ff005b"/><circle cx="446.3" cy="225.9" r="2.05" fill="#0075f1"/><circle cx="439.2" cy="225.9" r="2.05" fill="#316ae9"/><circle cx="443.9" cy="222.5" r="2.05" fill="#0078f3"/><circle cx="424.9" cy="227.6" r="2.05" fill="#9036bb"/><circle cx="425.5" cy="222.5" r="2.05" fill="#8b3cc0"/><circle cx="484.6" cy="224.2" r="2.05" fill="#fb0064"/><circle cx="429.3" cy="225.9" r="2.05" fill="#8642c5"/><circle cx="421.8" cy="224.2" r="2.05" fill="#8642c5"/><circle cx="426.7" cy="227.6" r="2.05" fill="#6a56d7"/><circle cx="429.9" cy="224.2" r="2.05" fill="#625adb"/><circle cx="438.1" cy="225.9" r="2.05" fill="#0082f8"/><circle cx="441.9" cy="224.2" r="2.05" fill="#0085f9"/><circle cx="437.3" cy="224.2" r="2.05" fill="#0078f3"/><circle cx="438.2" cy="227.6" r="2.05" fill="#186eec"/><circle cx="425.8" cy="225.9" r="2.05" fill="#952fb5"/><circle cx="467.9" cy="225.9" r="2.05" fill="#f5006d"/><circle cx="424.5" cy="225.9" r="2.05" fill="#9036bb"/><circle cx="443.3" cy="225.9" r="2.05" fill="#007bf5"/><circle cx="433.6" cy="224.2" r="2.05" fill="#625adb"/><circle cx="486.2" cy="225.9" r="2.05" fill="#fb0064"/><circle cx="482.8" cy="225.9" r="2.05" fill="#b30ca4"/><circle cx="477.0" cy="224.2" r="2.05" fill="#d00093"/><circle cx="432.9" cy="224.2" r="2.05" fill="#6a56d7"/><circle cx="490.3" cy="225.9" r="2.05" fill="#ff0051"/><circle cx="420.2" cy="225.9" r="2.05" fill="#8047ca"/><circle cx="468.3" cy="224.2" r="2.05" fill="#eb007a"/><circle cx="487.3" cy="225.9" r="2.05" fill="#d00093"/><circle cx="431.2" cy="225.9" r="2.05" fill="#8047ca"/><circle cx="447.4" cy="225.9" r="2.05" fill="#008bfb"/><circle cx="418.6" cy="224.2" r="2.05" fill="#a61ca9"/><circle cx="443.1" cy="225.9" r="2.05" fill="#008bfb"/><circle cx="474.8" cy="225.9" r="2.05" fill="#f5006d"/><circle cx="428.1" cy="224.2" r="2.05" fill="#8b3cc0"/><circle cx="434.7" cy="224.2" r="2.05" fill="#007ff6"/><circle cx="471.8" cy="224.2" r="2.05" fill="#df0087"/><circle cx="435.6" cy="225.9" r="2.05" fill="#007ff6"/><circle cx="488.6" cy="227.6" r="2.05" fill="#ba00a0"/><circle cx="472.1" cy="225.9" r="2.05" fill="#a61ca9"/><circle cx="440.5" cy="222.5" r="2.05" fill="#0078f3"/><circle cx="450.2" cy="224.2" r="2.05" fill="#0082f8"/><circle cx="478.4" cy="225.9" r="2.05" fill="#e30083"/><circle cx="484.3" cy="227.6" r="2.05" fill="#cb0096"/><circle cx="493.9" cy="225.9" r="2.05" fill="#f80069"/><circle cx="443.8" cy="227.6" r="2.05" fill="#0085f9"/><circle cx="484.5" cy="222.5" r="2.05" fill="#ff0051"/><circle cx="439.5" cy="225.9" r="2.05" fill="#0085f9"/><circle cx="448.5" cy="224.2" r="2.05" fill="#0088fa"/><circle cx="441.3" cy="229.3" r="2.05" fill="#007ff6"/><circle cx="440.5" cy="225.9" r="2.05" fill="#007bf5"/><circle cx="489.5" cy="225.9" r="2.05" fill="#c5009a"/><circle cx="470.2" cy="224.2" r="2.05" fill="#9928b0"/><circle cx="482.0" cy="224.2" r="2.05" fill="#9f21ac"/><circle cx="420.1" cy="227.6" r="2.05" fill="#625adb"/><circle cx="486.1" cy="229.3" r="2.05" fill="#f80069"/><circle cx="471.9" cy="227.6" r="2.05" fill="#8b3cc0"/><circle cx="432.4" cy="227.6" r="2.05" fill="#595edf"/><circle cx="489.0" cy="227.6" r="2.05" fill="#ff0051"/><circle cx="419.0" cy="225.9" r="2.05" fill="#6a56d7"/><circle cx="422.9" cy="224.2" r="2.05" fill="#9036bb"/><circle cx="485.3" cy="225.9" r="2.05" fill="#df0087"/><circle cx="446.8" cy="224.2" r="2.05" fill="#316ae9"/><circle cx="467.4" cy="225.9" r="2.05" fill="#ef0076"/><circle cx="440.4" cy="227.6" r="2.05" fill="#0071ee"/><circle cx="481.6" cy="225.9" r="2.05" fill="#ff0051"/><circle cx="439.2" cy="224.2" r="2.05" fill="#316ae9"/><circle cx="442.5" cy="229.3" r="2.05" fill="#0082f8"/><circle cx="445.9" cy="227.6" r="2.05" fill="#008bfb"/><circle cx="423.4" cy="225.9" r="2.05" fill="#8b3cc0"/><circle cx="448.4" cy="222.5" r="2.05" fill="#595edf"/><circle cx="486.9" cy="222.5" r="2.05" fill="#e7007f"/><circle cx="431.6" cy="224.2" r="2.05" fill="#0071ee"/><circle cx="485.3" cy="222.5" r="2.05" fill="#ef0076"/><circle cx="473.4" cy="224.2" r="2.05" fill="#ff0051"/><circle cx="469.8" cy="225.9" r="2.05" fill="#ff005b"/><circle cx="428.5" cy="227.6" r="2.05" fill="#625adb"/><circle cx="445.5" cy="222.5" r="2.05" fill="#0071ee"/><circle cx="478.8" cy="224.2" r="2.05" fill="#f5006d"/><circle cx="424.4" cy="224.2" r="2.05" fill="#8642c5"/><circle cx="446.9" cy="222.5" r="2.05" fill="#0085f9"/><circle cx="473.4" cy="225.9" r="2.05" fill="#df0087"/><circle cx="482.9" cy="222.5" r="2.05" fill="#d00093"/><circle cx="426.9" cy="225.9" r="2.05" fill="#9036bb"/><circle cx="421.5" cy="225.9" r="2.05" fill="#9036bb"/><circle cx="492.9" cy="225.9" r="2.05" fill="#952fb5"/><circle cx="480.5" cy="227.6" r="2.05" fill="#fb0064"/><circle cx="447.3" cy="224.2" r="2.05" fill="#0078f3"/><circle cx="469.0" cy="224.2" r="2.05" fill="#ff0051"/><circle cx="419.8" cy="225.9" r="2.05" fill="#8b3cc0"/><circle cx="489.4" cy="224.2" r="2.05" fill="#7251d3"/><circle cx="451.2" cy="225.9" r="2.05" fill="#0078f3"/><circle cx="491.3" cy="225.9" r="2.05" fill="#d00093"/><circle cx="492.5" cy="225.9" r="2.05" fill="#fd005f"/><circle cx="445.4" cy="225.9" r="2.05" fill="#0085f9"/><circle cx="424.9" cy="222.5" r="2.05" fill="#9928b0"/><circle cx="423.5" cy="224.2" r="2.05" fill="#7251d3"/><circle cx="428.6" cy="224.2" r="2.05" fill="#4e62e2"/><circle cx="448.5" cy="227.6" r="2.05" fill="#008bfb"/><circle cx="446.9" cy="229.3" r="2.05" fill="#007bf5"/><circle cx="439.6" cy="227.6" r="2.05" fill="#0071ee"/><circle cx="488.2" cy="225.9" r="2.05" fill="#d00093"/><circle cx="422.5" cy="227.6" r="2.05" fill="#9036bb"/><circle cx="481.1" cy="224.2" r="2.05" fill="#d5008f"/><circle cx="485.0" cy="224.2" r="2.05" fill="#e7007f"/><circle cx="425.5" cy="224.2" r="2.05" fill="#8642c5"/><circle cx="473.8" cy="225.9" r="2.05" fill="#f20072"/><circle cx="446.7" cy="227.6" r="2.05" fill="#0075f1"/><circle cx="479.8" cy="225.9" r="2.05" fill="#ff0051"/><circle cx="436.8" cy="222.5" r="2.05" fill="#007ff6"/><circle cx="449.3" cy="225.9" r="2.05" fill="#0082f8"/><circle cx="488.1" cy="224.2" r="2.05" fill="#fd005f"/><circle cx="486.2" cy="220.8" r="2.05" fill="#9036bb"/><circle cx="442.4" cy="222.5" r="2.05" fill="#008bfb"/><circle cx="441.6" cy="225.9" r="2.05" fill="#0082f8"/><circle cx="428.9" cy="225.9" r="2.05" fill="#9f21ac"/><circle cx="426.6" cy="224.2" r="2.05" fill="#4e62e2"/><circle cx="423.0" cy="222.5" r="2.05" fill="#625adb"/><circle cx="480.0" cy="224.2" r="2.05" fill="#a61ca9"/><circle cx="482.9" cy="224.2" r="2.05" fill="#ad15a7"/><circle cx="420.6" cy="227.6" r="2.05" fill="#7251d3"/><circle cx="434.0" cy="227.6" r="2.05" fill="#007bf5"/><circle cx="440.3" cy="224.2" r="2.05" fill="#0078f3"/><circle cx="441.5" cy="227.6" r="2.05" fill="#186eec"/><circle cx="437.1" cy="225.9" r="2.05" fill="#316ae9"/><circle cx="476.1" cy="225.9" r="2.05" fill="#b30ca4"/><circle cx="432.0" cy="225.9" r="2.05" fill="#4166e6"/><circle cx="433.7" cy="225.9" r="2.05" fill="#4166e6"/><circle cx="486.7" cy="224.2" r="2.05" fill="#4e62e2"/><circle cx="442.6" cy="224.2" r="2.05" fill="#007ff6"/><circle cx="435.1" cy="225.9" r="2.05" fill="#0078f3"/><circle cx="476.9" cy="225.9" r="2.05" fill="#e7007f"/><circle cx="445.1" cy="222.5" r="2.05" fill="#0075f1"/><circle cx="450.5" cy="224.2" r="2.05" fill="#008bfb"/><circle cx="486.3" cy="227.6" r="2.05" fill="#cb0096"/><circle cx="421.3" cy="227.6" r="2.05" fill="#7251d3"/><circle cx="437.0" cy="224.2" r="2.05" fill="#0085f9"/><circle cx="486.1" cy="222.5" r="2.05" fill="#a61ca9"/><circle cx="445.2" cy="224.2" r="2.05" fill="#0071ee"/><circle cx="449.6" cy="227.6" r="2.05" fill="#008bfb"/><circle cx="424.1" cy="227.6" r="2.05" fill="#8642c5"/><circle cx="419.9" cy="224.2" r="2.05" fill="#c0009d"/><circle cx="432.5" cy="225.9" r="2.05" fill="#4e62e2"/><circle cx="443.3" cy="224.2" r="2.05" fill="#186eec"/><circle cx="445.1" cy="225.9" r="2.05" fill="#008bfb"/><circle cx="438.4" cy="224.2" r="2.05" fill="#0071ee"/><circle cx="449.2" cy="225.9" r="2.05" fill="#007ff6"/><circle cx="446.0" cy="224.2" r="2.05" fill="#008bfb"/><circle cx="427.6" cy="225.9" r="2.05" fill="#794cce"/><circle cx="490.0" cy="224.2" r="2.05" fill="#c0009d"/><circle cx="425.4" cy="227.6" r="2.05" fill="#8047ca"/><circle cx="481.9" cy="225.9" r="2.05" fill="#f80069"/><circle cx="419.8" cy="222.5" r="2.05" fill="#a61ca9"/><circle cx="443.1" cy="227.6" r="2.05" fill="#0078f3"/><circle cx="439.2" cy="227.6" r="2.05" fill="#0075f1"/><circle cx="442.0" cy="222.5" r="2.05" fill="#0078f3"/><circle cx="469.3" cy="225.9" r="2.05" fill="#e30083"/><circle cx="478.9" cy="225.9" r="2.05" fill="#df0087"/><circle cx="471.5" cy="225.9" r="2.05" fill="#da008b"/><circle cx="444.9" cy="227.6" r="2.05" fill="#0088fa"/></g>
<g><circle cx="428.2" cy="242.6" r="2.05" fill="#ff0051"/><circle cx="440.0" cy="240.9" r="2.05" fill="#f5006d"/><circle cx="441.3" cy="246.0" r="2.05" fill="#ff0056"/><circle cx="446.2" cy="244.3" r="2.05" fill="#c0009d"/><circle cx="444.3" cy="242.6" r="2.05" fill="#da008b"/><circle cx="440.9" cy="240.9" r="2.05" fill="#ff0051"/><circle cx="428.5" cy="247.7" r="2.05" fill="#f80069"/><circle cx="433.1" cy="246.0" r="2.05" fill="#ef0076"/><circle cx="469.1" cy="244.3" r="2.05" fill="#952fb5"/><circle cx="475.8" cy="244.3" r="2.05" fill="#952fb5"/><circle cx="493.2" cy="242.6" r="2.05" fill="#a61ca9"/><circle cx="496.1" cy="246.0" r="2.05" fill="#4e62e2"/><circle cx="431.5" cy="246.0" r="2.05" fill="#ef0076"/><circle cx="460.0" cy="244.3" r="2.10" fill="#9036bb"/><circle cx="479.3" cy="242.6" r="2.05" fill="#8642c5"/><circle cx="486.4" cy="242.6" r="2.05" fill="#8047ca"/><circle cx="438.7" cy="240.9" r="2.05" fill="#e30083"/><circle cx="430.1" cy="247.7" r="2.05" fill="#ff0051"/><circle cx="428.7" cy="244.3" r="2.05" fill="#f20072"/><circle cx="443.0" cy="246.0" r="2.05" fill="#e7007f"/><circle cx="445.1" cy="244.3" r="2.05" fill="#d00093"/><circle cx="442.0" cy="244.3" r="2.05" fill="#ff0051"/><circle cx="493.1" cy="242.6" r="2.05" fill="#4166e6"/><circle cx="491.3" cy="246.0" r="2.05" fill="#952fb5"/><circle cx="440.9" cy="246.0" r="2.05" fill="#d00093"/><circle cx="437.8" cy="244.3" r="2.05" fill="#ff0051"/><circle cx="477.4" cy="244.3" r="2.05" fill="#8642c5"/><circle cx="439.4" cy="239.2" r="2.05" fill="#d5008f"/><circle cx="435.6" cy="242.6" r="2.05" fill="#da008b"/><circle cx="436.3" cy="247.7" r="2.05" fill="#d5008f"/><circle cx="483.0" cy="244.3" r="2.05" fill="#6a56d7"/><circle cx="470.0" cy="242.6" r="2.05" fill="#8642c5"/><circle cx="429.4" cy="242.6" r="2.05" fill="#e30083"/><circle cx="434.3" cy="240.9" r="2.05" fill="#fd005f"/><circle cx="470.8" cy="240.9" r="2.05" fill="#8b3cc0"/><circle cx="487.1" cy="244.3" r="2.05" fill="#7251d3"/><circle cx="444.1" cy="242.6" r="2.05" fill="#ff0051"/><circle cx="429.9" cy="244.3" r="2.05" fill="#ff0051"/><circle cx="429.5" cy="239.2" r="2.05" fill="#df0087"/><circle cx="437.3" cy="246.0" r="2.05" fill="#9928b0"/><circle cx="467.4" cy="244.3" r="2.05" fill="#794cce"/><circle cx="470.0" cy="244.3" r="2.05" fill="#952fb5"/><circle cx="441.5" cy="239.2" r="2.05" fill="#cb0096"/><circle cx="488.8" cy="242.6" r="2.05" fill="#952fb5"/><circle cx="463.0" cy="244.3" r="2.10" fill="#0075f1"/><circle cx="486.3" cy="246.0" r="2.05" fill="#8b3cc0"/><circle cx="433.4" cy="247.7" r="2.05" fill="#f20072"/><circle cx="481.9" cy="242.6" r="2.05" fill="#952fb5"/><circle cx="434.5" cy="242.6" r="2.05" fill="#d5008f"/><circle cx="488.3" cy="244.3" r="2.05" fill="#952fb5"/><circle cx="433.1" cy="239.2" r="2.05" fill="#f20072"/><circle cx="481.7" cy="244.3" r="2.05" fill="#9f21ac"/><circle cx="486.2" cy="246.0" r="2.05" fill="#ba00a0"/><circle cx="483.4" cy="246.0" r="2.05" fill="#8047ca"/><circle cx="470.6" cy="246.0" r="2.05" fill="#595edf"/><circle cx="480.9" cy="244.3" r="2.05" fill="#952fb5"/><circle cx="495.9" cy="244.3" r="2.05" fill="#6a56d7"/><circle cx="439.2" cy="244.3" r="2.05" fill="#e7007f"/><circle cx="434.1" cy="240.9" r="2.05" fill="#fb0064"/><circle cx="432.9" cy="242.6" r="2.05" fill="#fd005f"/><circle cx="439.9" cy="249.4" r="2.05" fill="#fb0064"/><circle cx="477.8" cy="242.6" r="2.05" fill="#ad15a7"/><circle cx="477.9" cy="246.0" r="2.05" fill="#c5009a"/><circle cx="441.4" cy="242.6" r="2.05" fill="#f20072"/><circle cx="428.9" cy="246.0" r="2.05" fill="#df0087"/><circle cx="476.6" cy="244.3" r="2.05" fill="#8b3cc0"/><circle cx="437.2" cy="242.6" r="2.05" fill="#ef0076"/><circle cx="438.9" cy="242.6" r="2.05" fill="#ff0051"/><circle cx="484.3" cy="244.3" r="2.05" fill="#794cce"/><circle cx="442.5" cy="242.6" r="2.05" fill="#da008b"/><circle cx="436.4" cy="240.9" r="2.05" fill="#f20072"/><circle cx="481.0" cy="242.6" r="2.05" fill="#316ae9"/><circle cx="470.3" cy="242.6" r="2.05" fill="#8b3cc0"/><circle cx="493.9" cy="246.0" r="2.05" fill="#794cce"/><circle cx="470.8" cy="244.3" r="2.05" fill="#9036bb"/><circle cx="490.9" cy="244.3" r="2.05" fill="#8b3cc0"/><circle cx="434.6" cy="246.0" r="2.05" fill="#da008b"/><circle cx="494.7" cy="247.7" r="2.05" fill="#8b3cc0"/><circle cx="442.4" cy="240.9" r="2.05" fill="#f5006d"/><circle cx="489.4" cy="242.6" r="2.05" fill="#9f21ac"/><circle cx="432.2" cy="244.3" r="2.05" fill="#d5008f"/><circle cx="438.5" cy="244.3" r="2.05" fill="#c5009a"/><circle cx="434.0" cy="249.4" r="2.05" fill="#ff0051"/><circle cx="435.7" cy="244.3" r="2.05" fill="#f80069"/><circle cx="444.4" cy="246.0" r="2.05" fill="#e7007f"/><circle cx="436.1" cy="246.0" r="2.05" fill="#f20072"/><circle cx="428.6" cy="239.2" r="2.05" fill="#f5006d"/><circle cx="485.6" cy="242.6" r="2.05" fill="#8642c5"/><circle cx="473.0" cy="244.3" r="2.05" fill="#9036bb"/><circle cx="484.1" cy="242.6" r="2.05" fill="#952fb5"/><circle cx="476.7" cy="242.6" r="2.05" fill="#8b3cc0"/><circle cx="473.5" cy="242.6" r="2.05" fill="#794cce"/><circle cx="435.7" cy="239.2" r="2.05" fill="#df0087"/><circle cx="479.3" cy="244.3" r="2.05" fill="#7251d3"/><circle cx="439.5" cy="247.7" r="2.05" fill="#fd005f"/><circle cx="428.9" cy="240.9" r="2.05" fill="#d00093"/><circle cx="441.6" cy="240.9" r="2.05" fill="#df0087"/><circle cx="435.0" cy="239.2" r="2.05" fill="#c0009d"/><circle cx="440.2" cy="244.3" r="2.05" fill="#da008b"/><circle cx="481.6" cy="246.0" r="2.05" fill="#9036bb"/><circle cx="431.3" cy="242.6" r="2.05" fill="#fb0064"/><circle cx="438.3" cy="247.7" r="2.05" fill="#eb007a"/><circle cx="494.4" cy="240.9" r="2.05" fill="#ad15a7"/><circle cx="432.1" cy="240.9" r="2.05" fill="#ff0051"/><circle cx="431.0" cy="240.9" r="2.05" fill="#e7007f"/><circle cx="469.0" cy="242.6" r="2.05" fill="#ad15a7"/><circle cx="490.5" cy="242.6" r="2.05" fill="#a61ca9"/><circle cx="483.7" cy="244.3" r="2.05" fill="#c0009d"/><circle cx="484.3" cy="242.6" r="2.05" fill="#8047ca"/><circle cx="482.6" cy="242.6" r="2.05" fill="#794cce"/><circle cx="427.3" cy="246.0" r="2.05" fill="#eb007a"/><circle cx="474.5" cy="244.3" r="2.05" fill="#0075f1"/><circle cx="431.7" cy="239.2" r="2.05" fill="#f80069"/><circle cx="494.4" cy="242.6" r="2.05" fill="#ad15a7"/><circle cx="494.4" cy="244.3" r="2.05" fill="#595edf"/><circle cx="443.7" cy="246.0" r="2.05" fill="#c5009a"/><circle cx="473.6" cy="246.0" r="2.05" fill="#c0009d"/><circle cx="446.4" cy="244.3" r="2.05" fill="#f5006d"/><circle cx="439.2" cy="242.6" r="2.05" fill="#e7007f"/><circle cx="491.6" cy="242.6" r="2.05" fill="#794cce"/><circle cx="434.2" cy="242.6" r="2.05" fill="#eb007a"/><circle cx="476.1" cy="242.6" r="2.05" fill="#8642c5"/><circle cx="429.8" cy="246.0" r="2.05" fill="#f80069"/><circle cx="436.8" cy="244.3" r="2.05" fill="#e30083"/><circle cx="493.4" cy="244.3" r="2.05" fill="#595edf"/><circle cx="447.1" cy="242.6" r="2.05" fill="#d00093"/><circle cx="487.3" cy="242.6" r="2.05" fill="#0075f1"/><circle cx="492.0" cy="244.3" r="2.05" fill="#6a56d7"/><circle cx="433.1" cy="240.9" r="2.05" fill="#ff0051"/><circle cx="430.3" cy="242.6" r="2.05" fill="#df0087"/><circle cx="494.9" cy="246.0" r="2.05" fill="#794cce"/><circle cx="437.1" cy="246.0" r="2.05" fill="#da008b"/><circle cx="479.1" cy="244.3" r="2.05" fill="#625adb"/><circle cx="431.1" cy="247.7" r="2.05" fill="#e30083"/><circle cx="431.1" cy="244.3" r="2.05" fill="#e30083"/><circle cx="471.3" cy="242.6" r="2.05" fill="#9036bb"/><circle cx="435.3" cy="240.9" r="2.05" fill="#ff005b"/><circle cx="480.4" cy="246.0" r="2.05" fill="#8047ca"/><circle cx="433.2" cy="239.2" r="2.05" fill="#ff0051"/><circle cx="494.0" cy="240.9" r="2.05" fill="#8b3cc0"/><circle cx="434.6" cy="244.3" r="2.05" fill="#ef0076"/><circle cx="432.8" cy="247.7" r="2.05" fill="#eb007a"/><circle cx="492.6" cy="244.3" r="2.05" fill="#8047ca"/><circle cx="478.2" cy="242.6" r="2.05" fill="#6a56d7"/><circle cx="471.4" cy="244.3" r="2.05" fill="#8642c5"/><circle cx="427.9" cy="244.3" r="2.05" fill="#e7007f"/><circle cx="489.9" cy="244.3" r="2.05" fill="#8047ca"/><circle cx="435.8" cy="247.7" r="2.05" fill="#cb0096"/><circle cx="431.5" cy="244.3" r="2.05" fill="#eb007a"/><circle cx="492.2" cy="246.0" r="2.05" fill="#0078f3"/><circle cx="495.9" cy="242.6" r="2.05" fill="#6a56d7"/><circle cx="435.1" cy="247.7" r="2.05" fill="#eb007a"/><circle cx="490.3" cy="246.0" r="2.05" fill="#ad15a7"/><circle cx="443.0" cy="244.3" r="2.05" fill="#d5008f"/><circle cx="472.6" cy="242.6" r="2.05" fill="#8642c5"/><circle cx="429.4" cy="240.9" r="2.05" fill="#eb007a"/><circle cx="433.9" cy="244.3" r="2.05" fill="#ff0051"/><circle cx="487.9" cy="244.3" r="2.05" fill="#625adb"/><circle cx="436.6" cy="239.2" r="2.05" fill="#f20072"/><circle cx="437.6" cy="240.9" r="2.05" fill="#df0087"/><circle cx="441.9" cy="247.7" r="2.05" fill="#eb007a"/><circle cx="437.0" cy="242.6" r="2.05" fill="#da008b"/><circle cx="434.0" cy="246.0" r="2.05" fill="#f20072"/><circle cx="486.0" cy="244.3" r="2.05" fill="#595edf"/><circle cx="473.8" cy="244.3" r="2.05" fill="#8b3cc0"/><circle cx="479.7" cy="246.0" r="2.05" fill="#7251d3"/><circle cx="430.4" cy="249.4" r="2.05" fill="#eb007a"/><circle cx="471.4" cy="246.0" r="2.05" fill="#952fb5"/><circle cx="430.9" cy="239.2" r="2.05" fill="#df0087"/><circle cx="438.5" cy="246.0" r="2.05" fill="#e7007f"/><circle cx="430.6" cy="246.0" r="2.05" fill="#f80069"/><circle cx="482.0" cy="240.9" r="2.05" fill="#9928b0"/><circle cx="441.1" cy="242.6" r="2.05" fill="#f20072"/><circle cx="469.7" cy="246.0" r="2.05" fill="#9928b0"/><circle cx="485.0" cy="246.0" r="2.05" fill="#c5009a"/><circle cx="431.7" cy="247.7" r="2.05" fill="#fb0064"/><circle cx="439.7" cy="246.0" r="2.05" fill="#ef0076"/><circle cx="428.0" cy="242.6" r="2.05" fill="#eb007a"/><circle cx="444.2" cy="244.3" r="2.05" fill="#f5006d"/><circle cx="438.3" cy="239.2" r="2.05" fill="#fd005f"/></g>
<g><circle cx="433.7" cy="262.7" r="2.05" fill="#eb007a"/><circle cx="432.9" cy="257.7" r="2.30" fill="#fb0064"/><circle cx="438.7" cy="261.3" r="2.05" fill="#9f21ac"/><circle cx="494.4" cy="260.7" r="2.30" fill="#0075f1"/><circle cx="440.1" cy="262.7" r="2.05" fill="#a61ca9"/><circle cx="439.3" cy="261.3" r="2.05" fill="#9036bb"/><circle cx="496.5" cy="262.7" r="2.10" fill="#007bf5"/><circle cx="437.0" cy="262.7" r="2.05" fill="#c5009a"/><circle cx="489.5" cy="263.7" r="2.30" fill="#007bf5"/><circle cx="433.1" cy="263.7" r="2.30" fill="#ff0056"/><circle cx="494.5" cy="261.7" r="2.30" fill="#0071ee"/><circle cx="433.0" cy="259.7" r="2.30" fill="#ff0051"/><circle cx="474.7" cy="262.7" r="2.05" fill="#0082f8"/><circle cx="438.8" cy="264.2" r="2.05" fill="#a61ca9"/><circle cx="433.0" cy="255.7" r="2.30" fill="#ff0051"/><circle cx="432.9" cy="268.7" r="2.30" fill="#f80069"/><circle cx="481.5" cy="262.7" r="2.05" fill="#186eec"/><circle cx="432.9" cy="266.7" r="2.30" fill="#ff005b"/><circle cx="432.9" cy="267.7" r="2.30" fill="#ff0051"/><circle cx="438.0" cy="264.2" r="2.05" fill="#9f21ac"/><circle cx="435.5" cy="262.7" r="2.05" fill="#c5009a"/><circle cx="489.5" cy="261.7" r="2.30" fill="#4e62e2"/><circle cx="434.2" cy="261.3" r="2.05" fill="#e30083"/><circle cx="489.6" cy="262.7" r="2.30" fill="#0075f1"/><circle cx="435.1" cy="261.3" r="2.05" fill="#da008b"/><circle cx="486.0" cy="262.7" r="2.30" fill="#0075f1"/><circle cx="485.9" cy="261.7" r="2.30" fill="#186eec"/><circle cx="476.6" cy="262.7" r="2.05" fill="#316ae9"/><circle cx="438.6" cy="262.7" r="2.05" fill="#ad15a7"/><circle cx="436.8" cy="264.2" r="2.05" fill="#a61ca9"/><circle cx="491.5" cy="262.7" r="2.10" fill="#007bf5"/><circle cx="432.9" cy="261.7" r="2.30" fill="#ff0056"/><circle cx="478.3" cy="262.7" r="2.05" fill="#007ff6"/><circle cx="435.7" cy="261.3" r="2.05" fill="#c5009a"/><circle cx="480.2" cy="262.7" r="2.05" fill="#0085f9"/><circle cx="441.0" cy="262.7" r="2.05" fill="#9f21ac"/><circle cx="477.5" cy="262.7" r="2.05" fill="#0071ee"/><circle cx="486.1" cy="263.7" r="2.30" fill="#0082f8"/><circle cx="436.8" cy="261.3" r="2.05" fill="#ba00a0"/><circle cx="432.9" cy="258.7" r="2.30" fill="#ff0051"/><circle cx="479.4" cy="262.7" r="2.05" fill="#0088fa"/><circle cx="432.9" cy="264.7" r="2.30" fill="#ff005b"/><circle cx="494.5" cy="263.7" r="2.30" fill="#007bf5"/><circle cx="482.9" cy="262.7" r="2.05" fill="#4e62e2"/><circle cx="436.6" cy="262.7" r="2.05" fill="#ba00a0"/><circle cx="433.1" cy="260.7" r="2.30" fill="#ff0051"/><circle cx="438.7" cy="262.7" r="2.05" fill="#952fb5"/><circle cx="433.1" cy="256.7" r="2.30" fill="#fd005f"/><circle cx="475.5" cy="262.7" r="2.05" fill="#007bf5"/><circle cx="432.9" cy="262.7" r="2.30" fill="#fd005f"/><circle cx="492.5" cy="262.7" r="2.10" fill="#0075f1"/><circle cx="432.9" cy="265.7" r="2.30" fill="#fd005f"/><circle cx="439.7" cy="261.3" r="2.05" fill="#b30ca4"/><circle cx="494.4" cy="262.7" r="2.30" fill="#0078f3"/><circle cx="441.5" cy="261.3" r="2.05" fill="#ad15a7"/></g>
<g><circle cx="432.1" cy="281.2" r="2.05" fill="#008bfb"/><circle cx="430.5" cy="276.3" r="2.05" fill="#9928b0"/><circle cx="435.0" cy="276.3" r="2.05" fill="#7251d3"/><circle cx="487.6" cy="279.6" r="2.05" fill="#9036bb"/><circle cx="483.7" cy="281.2" r="2.05" fill="#b30ca4"/><circle cx="429.1" cy="279.6" r="2.05" fill="#7251d3"/><circle cx="430.8" cy="284.4" r="2.05" fill="#316ae9"/><circle cx="472.8" cy="281.2" r="2.05" fill="#df0087"/><circle cx="472.9" cy="282.8" r="2.05" fill="#ba00a0"/><circle cx="429.5" cy="277.9" r="2.05" fill="#0071ee"/><circle cx="476.5" cy="279.6" r="2.05" fill="#9f21ac"/><circle cx="429.9" cy="284.4" r="2.05" fill="#952fb5"/><circle cx="496.4" cy="281.2" r="2.10" fill="#ad15a7"/><circle cx="479.6" cy="282.8" r="2.05" fill="#ba00a0"/><circle cx="436.1" cy="282.8" r="2.05" fill="#007ff6"/><circle cx="472.0" cy="281.2" r="2.05" fill="#ef0076"/><circle cx="467.8" cy="279.6" r="2.05" fill="#ff0051"/><circle cx="471.2" cy="279.6" r="2.05" fill="#e7007f"/><circle cx="478.8" cy="281.2" r="2.05" fill="#fd005f"/><circle cx="431.2" cy="282.8" r="2.05" fill="#4166e6"/><circle cx="435.3" cy="281.2" r="2.05" fill="#4e62e2"/><circle cx="429.0" cy="282.8" r="2.05" fill="#7251d3"/><circle cx="430.1" cy="281.2" r="2.05" fill="#186eec"/><circle cx="485.3" cy="281.2" r="2.05" fill="#ad15a7"/><circle cx="442.2" cy="281.2" r="2.05" fill="#9036bb"/><circle cx="433.9" cy="276.3" r="2.05" fill="#794cce"/><circle cx="488.5" cy="281.2" r="2.05" fill="#e30083"/><circle cx="439.9" cy="281.2" r="2.05" fill="#4e62e2"/><circle cx="482.5" cy="281.2" r="2.05" fill="#e7007f"/><circle cx="465.5" cy="279.6" r="2.05" fill="#e30083"/><circle cx="476.8" cy="281.2" r="2.05" fill="#7251d3"/><circle cx="436.8" cy="281.2" r="2.05" fill="#8047ca"/><circle cx="430.2" cy="282.8" r="2.05" fill="#316ae9"/><circle cx="437.7" cy="284.4" r="2.05" fill="#0071ee"/><circle cx="482.1" cy="279.6" r="2.05" fill="#c5009a"/><circle cx="489.5" cy="281.2" r="2.05" fill="#d5008f"/><circle cx="482.1" cy="282.8" r="2.05" fill="#ff0051"/><circle cx="430.7" cy="281.2" r="2.05" fill="#0078f3"/><circle cx="436.6" cy="279.6" r="2.05" fill="#952fb5"/><circle cx="474.6" cy="281.2" r="2.05" fill="#9036bb"/><circle cx="431.4" cy="277.9" r="2.05" fill="#7251d3"/><circle cx="475.8" cy="281.2" r="2.05" fill="#c0009d"/><circle cx="438.4" cy="277.9" r="2.05" fill="#6a56d7"/><circle cx="432.7" cy="279.6" r="2.05" fill="#8b3cc0"/><circle cx="440.8" cy="281.2" r="2.05" fill="#8642c5"/><circle cx="478.1" cy="279.6" r="2.05" fill="#c0009d"/><circle cx="433.7" cy="281.2" r="2.05" fill="#186eec"/><circle cx="464.6" cy="281.2" r="2.05" fill="#d00093"/><circle cx="489.7" cy="279.6" r="2.05" fill="#794cce"/><circle cx="436.3" cy="274.7" r="2.05" fill="#0071ee"/><circle cx="480.8" cy="281.2" r="2.05" fill="#ef0076"/><circle cx="473.4" cy="279.6" r="2.05" fill="#e30083"/><circle cx="432.9" cy="284.4" r="2.05" fill="#4e62e2"/><circle cx="437.0" cy="284.4" r="2.05" fill="#8047ca"/><circle cx="432.5" cy="281.2" r="2.05" fill="#007bf5"/><circle cx="477.4" cy="281.2" r="2.05" fill="#9036bb"/><circle cx="432.6" cy="277.9" r="2.05" fill="#0075f1"/><circle cx="430.5" cy="279.6" r="2.05" fill="#186eec"/><circle cx="427.9" cy="282.8" r="2.05" fill="#0082f8"/><circle cx="435.6" cy="279.6" r="2.05" fill="#7251d3"/><circle cx="488.9" cy="279.6" r="2.05" fill="#d00093"/><circle cx="481.2" cy="279.6" r="2.05" fill="#fb0064"/><circle cx="481.3" cy="281.2" r="2.05" fill="#fd005f"/><circle cx="469.0" cy="279.6" r="2.05" fill="#ad15a7"/><circle cx="439.3" cy="282.8" r="2.05" fill="#7251d3"/><circle cx="441.2" cy="279.6" r="2.05" fill="#7251d3"/><circle cx="427.2" cy="282.8" r="2.05" fill="#007ff6"/><circle cx="466.8" cy="282.8" r="2.05" fill="#d5008f"/><circle cx="479.3" cy="277.9" r="2.05" fill="#e30083"/><circle cx="430.3" cy="279.6" r="2.05" fill="#186eec"/><circle cx="468.8" cy="281.2" r="2.05" fill="#ff0051"/><circle cx="485.5" cy="279.6" r="2.05" fill="#c5009a"/><circle cx="439.2" cy="279.6" r="2.05" fill="#794cce"/><circle cx="486.1" cy="282.8" r="2.05" fill="#b30ca4"/><circle cx="426.7" cy="279.6" r="2.05" fill="#008bfb"/><circle cx="433.3" cy="282.8" r="2.05" fill="#6a56d7"/><circle cx="433.6" cy="284.4" r="2.05" fill="#794cce"/><circle cx="463.6" cy="281.2" r="2.05" fill="#e30083"/><circle cx="480.3" cy="282.8" r="2.05" fill="#df0087"/><circle cx="435.5" cy="277.9" r="2.05" fill="#8047ca"/><circle cx="437.1" cy="282.8" r="2.05" fill="#9036bb"/><circle cx="469.7" cy="279.6" r="2.05" fill="#fd005f"/><circle cx="428.8" cy="281.2" r="2.05" fill="#0082f8"/><circle cx="438.5" cy="281.2" r="2.05" fill="#8642c5"/><circle cx="484.8" cy="279.6" r="2.05" fill="#6a56d7"/><circle cx="478.4" cy="282.8" r="2.05" fill="#fd005f"/><circle cx="434.9" cy="284.4" r="2.05" fill="#6a56d7"/><circle cx="431.6" cy="284.4" r="2.05" fill="#0071ee"/><circle cx="467.1" cy="279.6" r="2.05" fill="#e7007f"/><circle cx="465.4" cy="281.2" r="2.05" fill="#ff0056"/><circle cx="467.5" cy="281.2" r="2.05" fill="#c5009a"/><circle cx="437.5" cy="276.3" r="2.05" fill="#595edf"/><circle cx="474.2" cy="279.6" r="2.05" fill="#9928b0"/><circle cx="435.9" cy="281.2" r="2.05" fill="#316ae9"/><circle cx="426.9" cy="281.2" r="2.05" fill="#007bf5"/><circle cx="479.7" cy="281.2" r="2.05" fill="#da008b"/><circle cx="434.3" cy="277.9" r="2.05" fill="#9928b0"/><circle cx="438.4" cy="279.6" r="2.05" fill="#8642c5"/><circle cx="438.2" cy="282.8" r="2.05" fill="#4166e6"/><circle cx="480.8" cy="277.9" r="2.05" fill="#ff0051"/><circle cx="439.5" cy="282.8" r="2.05" fill="#8642c5"/><circle cx="431.5" cy="277.9" r="2.05" fill="#4e62e2"/><circle cx="431.5" cy="279.6" r="2.05" fill="#625adb"/><circle cx="480.1" cy="279.6" r="2.05" fill="#df0087"/><circle cx="465.0" cy="279.6" r="2.05" fill="#e30083"/><circle cx="435.1" cy="277.9" r="2.05" fill="#4166e6"/><circle cx="428.4" cy="281.2" r="2.05" fill="#4e62e2"/><circle cx="486.3" cy="279.6" r="2.05" fill="#e7007f"/><circle cx="439.7" cy="279.6" r="2.05" fill="#4e62e2"/><circle cx="437.1" cy="277.9" r="2.05" fill="#794cce"/><circle cx="483.3" cy="279.6" r="2.05" fill="#e7007f"/><circle cx="438.8" cy="284.4" r="2.05" fill="#4e62e2"/><circle cx="435.7" cy="284.4" r="2.05" fill="#316ae9"/><circle cx="483.2" cy="279.6" r="2.05" fill="#ff0051"/><circle cx="431.7" cy="276.3" r="2.05" fill="#316ae9"/><circle cx="478.7" cy="279.6" r="2.05" fill="#952fb5"/><circle cx="434.2" cy="279.6" r="2.05" fill="#625adb"/><circle cx="440.6" cy="282.8" r="2.05" fill="#8b3cc0"/><circle cx="434.2" cy="282.8" r="2.05" fill="#625adb"/><circle cx="473.7" cy="281.2" r="2.05" fill="#9928b0"/><circle cx="440.7" cy="277.9" r="2.05" fill="#ad15a7"/><circle cx="472.3" cy="279.6" r="2.05" fill="#df0087"/><circle cx="467.4" cy="282.8" r="2.05" fill="#df0087"/><circle cx="436.3" cy="276.3" r="2.05" fill="#952fb5"/><circle cx="431.5" cy="282.8" r="2.05" fill="#007bf5"/><circle cx="427.5" cy="279.6" r="2.05" fill="#0075f1"/><circle cx="435.2" cy="282.8" r="2.05" fill="#316ae9"/><circle cx="470.8" cy="281.2" r="2.05" fill="#ff0056"/><circle cx="477.0" cy="282.8" r="2.05" fill="#e7007f"/><circle cx="439.3" cy="277.9" r="2.05" fill="#a61ca9"/><circle cx="469.7" cy="281.2" r="2.05" fill="#fd005f"/><circle cx="437.6" cy="281.2" r="2.05" fill="#186eec"/><circle cx="484.9" cy="281.2" r="2.05" fill="#da008b"/><circle cx="488.2" cy="281.2" r="2.05" fill="#d5008f"/><circle cx="435.4" cy="279.6" r="2.05" fill="#794cce"/><circle cx="466.9" cy="281.2" r="2.05" fill="#da008b"/><circle cx="435.6" cy="286.0" r="2.05" fill="#625adb"/><circle cx="486.5" cy="281.2" r="2.05" fill="#da008b"/></g>
<g><circle cx="410.4" cy="299.6" r="2.05" fill="#007ff6"/><circle cx="407.9" cy="299.6" r="2.05" fill="#0071ee"/><circle cx="402.1" cy="299.6" r="2.05" fill="#007ff6"/><circle cx="465.3" cy="296.7" r="2.05" fill="#4e62e2"/><circle cx="463.1" cy="299.6" r="2.05" fill="#a61ca9"/><circle cx="400.1" cy="299.6" r="2.05" fill="#007bf5"/><circle cx="386.0" cy="299.6" r="2.10" fill="#007bf5"/><circle cx="405.1" cy="298.1" r="2.05" fill="#007bf5"/><circle cx="460.8" cy="301.0" r="2.05" fill="#595edf"/><circle cx="463.8" cy="295.2" r="2.05" fill="#8b3cc0"/><circle cx="460.8" cy="296.7" r="2.05" fill="#9036bb"/><circle cx="414.1" cy="299.6" r="2.05" fill="#0082f8"/><circle cx="403.6" cy="298.1" r="2.05" fill="#0071ee"/><circle cx="390.0" cy="299.6" r="2.10" fill="#007bf5"/><circle cx="463.6" cy="293.8" r="2.05" fill="#8b3cc0"/><circle cx="396.1" cy="298.1" r="2.05" fill="#0082f8"/><circle cx="464.8" cy="298.1" r="2.05" fill="#8b3cc0"/><circle cx="458.9" cy="298.1" r="2.05" fill="#ad15a7"/><circle cx="398.2" cy="299.6" r="2.05" fill="#0075f1"/><circle cx="464.4" cy="299.6" r="2.05" fill="#ad15a7"/><circle cx="461.2" cy="302.5" r="2.05" fill="#625adb"/><circle cx="461.2" cy="299.6" r="2.05" fill="#4166e6"/><circle cx="463.2" cy="302.5" r="2.05" fill="#7251d3"/><circle cx="460.5" cy="299.6" r="2.05" fill="#4e62e2"/><circle cx="467.0" cy="298.1" r="2.05" fill="#7251d3"/><circle cx="466.9" cy="296.7" r="2.05" fill="#d5008f"/><circle cx="409.2" cy="299.6" r="2.05" fill="#007bf5"/><circle cx="467.8" cy="298.1" r="2.05" fill="#d00093"/><circle cx="396.0" cy="299.6" r="2.05" fill="#0078f3"/><circle cx="459.4" cy="301.0" r="2.05" fill="#625adb"/><circle cx="397.1" cy="299.6" r="2.05" fill="#007ff6"/><circle cx="459.7" cy="296.7" r="2.05" fill="#9036bb"/><circle cx="466.5" cy="292.3" r="2.05" fill="#cb0096"/><circle cx="465.5" cy="301.0" r="2.05" fill="#952fb5"/><circle cx="460.8" cy="295.2" r="2.05" fill="#d5008f"/><circle cx="408.0" cy="298.1" r="2.05" fill="#007bf5"/><circle cx="399.7" cy="298.1" r="2.05" fill="#007bf5"/><circle cx="467.8" cy="301.0" r="2.05" fill="#d5008f"/><circle cx="465.7" cy="303.9" r="2.05" fill="#a61ca9"/><circle cx="463.4" cy="303.9" r="2.05" fill="#316ae9"/><circle cx="466.3" cy="305.4" r="2.05" fill="#df0087"/><circle cx="410.1" cy="301.0" r="2.05" fill="#007bf5"/><circle cx="458.1" cy="299.6" r="2.05" fill="#794cce"/><circle cx="460.9" cy="298.1" r="2.05" fill="#8047ca"/><circle cx="466.9" cy="299.6" r="2.05" fill="#952fb5"/><circle cx="404.2" cy="301.0" r="2.05" fill="#0075f1"/><circle cx="466.3" cy="301.0" r="2.05" fill="#c0009d"/><circle cx="446.5" cy="299.6" r="2.10" fill="#007bf5"/><circle cx="462.1" cy="296.7" r="2.05" fill="#0078f3"/><circle cx="439.0" cy="299.6" r="2.10" fill="#007bf5"/><circle cx="443.0" cy="299.6" r="2.10" fill="#007bf5"/><circle cx="400.8" cy="298.1" r="2.05" fill="#007ff6"/><circle cx="463.5" cy="295.2" r="2.05" fill="#8b3cc0"/><circle cx="401.8" cy="298.1" r="2.05" fill="#007bf5"/><circle cx="467.0" cy="303.9" r="2.05" fill="#d00093"/><circle cx="460.4" cy="302.5" r="2.05" fill="#4e62e2"/><circle cx="467.6" cy="301.0" r="2.05" fill="#952fb5"/><circle cx="410.3" cy="298.1" r="2.05" fill="#007ff6"/><circle cx="404.2" cy="299.6" r="2.05" fill="#0082f8"/><circle cx="406.3" cy="298.1" r="2.05" fill="#007bf5"/><circle cx="461.0" cy="295.2" r="2.05" fill="#595edf"/><circle cx="402.6" cy="299.6" r="2.05" fill="#0078f3"/><circle cx="466.5" cy="296.7" r="2.05" fill="#9036bb"/><circle cx="462.8" cy="301.0" r="2.05" fill="#4e62e2"/><circle cx="401.2" cy="299.6" r="2.05" fill="#007ff6"/><circle cx="405.9" cy="298.1" r="2.05" fill="#0082f8"/><circle cx="460.6" cy="298.1" r="2.05" fill="#794cce"/><circle cx="460.2" cy="301.0" r="2.05" fill="#794cce"/><circle cx="409.4" cy="298.1" r="2.05" fill="#0082f8"/><circle cx="460.9" cy="296.7" r="2.05" fill="#952fb5"/><circle cx="465.4" cy="302.5" r="2.05" fill="#b30ca4"/><circle cx="462.6" cy="298.1" r="2.05" fill="#6a56d7"/><circle cx="463.1" cy="298.1" r="2.05" fill="#316ae9"/><circle cx="412.8" cy="299.6" r="2.05" fill="#007ff6"/><circle cx="464.0" cy="302.5" r="2.05" fill="#8047ca"/><circle cx="466.5" cy="293.8" r="2.05" fill="#9036bb"/><circle cx="468.7" cy="299.6" r="2.05" fill="#cb0096"/><circle cx="459.6" cy="299.6" r="2.05" fill="#a61ca9"/><circle cx="415.1" cy="299.6" r="2.05" fill="#007ff6"/><circle cx="463.8" cy="301.0" r="2.05" fill="#7251d3"/><circle cx="411.8" cy="299.6" r="2.05" fill="#0078f3"/><circle cx="409.0" cy="299.6" r="2.05" fill="#0082f8"/><circle cx="405.6" cy="299.6" r="2.05" fill="#007ff6"/><circle cx="465.8" cy="303.9" r="2.05" fill="#da008b"/><circle cx="466.2" cy="306.8" r="2.05" fill="#c0009d"/><circle cx="467.5" cy="302.5" r="2.05" fill="#c0009d"/><circle cx="404.0" cy="299.6" r="2.05" fill="#007ff6"/><circle cx="464.9" cy="295.2" r="2.05" fill="#a61ca9"/><circle cx="465.8" cy="298.1" r="2.05" fill="#cb0096"/><circle cx="396.4" cy="298.1" r="2.05" fill="#0078f3"/><circle cx="458.2" cy="298.1" r="2.05" fill="#6a56d7"/><circle cx="467.7" cy="295.2" r="2.05" fill="#df0087"/><circle cx="463.1" cy="301.0" r="2.05" fill="#794cce"/><circle cx="464.0" cy="296.7" r="2.05" fill="#8642c5"/><circle cx="399.1" cy="299.6" r="2.05" fill="#007bf5"/><circle cx="466.8" cy="295.2" r="2.05" fill="#ad15a7"/><circle cx="466.1" cy="302.5" r="2.05" fill="#8642c5"/><circle cx="466.6" cy="298.1" r="2.05" fill="#f5006d"/><circle cx="465.0" cy="299.6" r="2.05" fill="#9036bb"/><circle cx="466.0" cy="299.6" r="2.05" fill="#c5009a"/><circle cx="407.0" cy="299.6" r="2.05" fill="#0078f3"/><circle cx="461.9" cy="299.6" r="2.05" fill="#595edf"/><circle cx="463.5" cy="296.7" r="2.05" fill="#4e62e2"/></g>
<g><circle cx="472.5" cy="316.3" r="2.05" fill="#df0087"/><circle cx="430.5" cy="316.3" r="2.05" fill="#625adb"/><circle cx="462.7" cy="318.0" r="2.05" fill="#9928b0"/><circle cx="426.8" cy="318.0" r="2.05" fill="#8047ca"/><circle cx="430.7" cy="318.0" r="2.05" fill="#7251d3"/><circle cx="475.2" cy="318.0" r="2.05" fill="#ff005b"/><circle cx="459.2" cy="318.0" r="2.05" fill="#8b3cc0"/><circle cx="437.7" cy="318.0" r="2.05" fill="#8047ca"/><circle cx="452.8" cy="318.0" r="2.05" fill="#b30ca4"/><circle cx="465.2" cy="318.0" r="2.05" fill="#ad15a7"/><circle cx="429.4" cy="319.7" r="2.05" fill="#316ae9"/><circle cx="465.7" cy="319.7" r="2.05" fill="#9f21ac"/><circle cx="474.5" cy="316.3" r="2.05" fill="#df0087"/><circle cx="434.6" cy="319.7" r="2.05" fill="#794cce"/><circle cx="473.1" cy="316.3" r="2.05" fill="#ad15a7"/><circle cx="473.5" cy="319.7" r="2.05" fill="#da008b"/><circle cx="474.6" cy="318.0" r="2.05" fill="#f20072"/><circle cx="431.9" cy="319.7" r="2.05" fill="#0071ee"/><circle cx="460.3" cy="318.0" r="2.05" fill="#9036bb"/><circle cx="470.1" cy="319.7" r="2.05" fill="#ad15a7"/><circle cx="456.4" cy="318.0" r="2.05" fill="#8642c5"/><circle cx="448.4" cy="318.0" r="2.05" fill="#c5009a"/><circle cx="480.1" cy="318.0" r="2.05" fill="#ba00a0"/><circle cx="429.6" cy="318.0" r="2.05" fill="#8642c5"/><circle cx="461.3" cy="316.3" r="2.05" fill="#ba00a0"/><circle cx="451.7" cy="318.0" r="2.05" fill="#9f21ac"/><circle cx="431.9" cy="316.3" r="2.05" fill="#9036bb"/><circle cx="437.2" cy="316.3" r="2.05" fill="#8047ca"/><circle cx="425.1" cy="316.3" r="2.05" fill="#8642c5"/><circle cx="444.5" cy="318.0" r="2.05" fill="#ad15a7"/><circle cx="425.9" cy="316.3" r="2.05" fill="#186eec"/><circle cx="475.9" cy="319.7" r="2.05" fill="#fd005f"/><circle cx="457.3" cy="318.0" r="2.05" fill="#952fb5"/><circle cx="473.2" cy="314.6" r="2.05" fill="#da008b"/><circle cx="435.1" cy="316.3" r="2.05" fill="#8047ca"/><circle cx="421.5" cy="318.0" r="2.05" fill="#0071ee"/><circle cx="426.2" cy="314.6" r="2.05" fill="#316ae9"/><circle cx="470.9" cy="321.4" r="2.05" fill="#d00093"/><circle cx="471.8" cy="314.6" r="2.05" fill="#eb007a"/><circle cx="428.5" cy="316.3" r="2.05" fill="#595edf"/><circle cx="470.5" cy="314.6" r="2.05" fill="#c5009a"/><circle cx="434.5" cy="318.0" r="2.05" fill="#8047ca"/><circle cx="440.6" cy="318.0" r="2.05" fill="#8b3cc0"/><circle cx="471.5" cy="312.9" r="2.05" fill="#ef0076"/><circle cx="432.9" cy="319.7" r="2.05" fill="#9036bb"/><circle cx="464.2" cy="316.3" r="2.05" fill="#9036bb"/><circle cx="433.4" cy="318.0" r="2.05" fill="#4e62e2"/><circle cx="471.7" cy="314.6" r="2.05" fill="#ba00a0"/><circle cx="475.0" cy="314.6" r="2.05" fill="#ef0076"/><circle cx="439.4" cy="316.3" r="2.05" fill="#007bf5"/><circle cx="464.1" cy="318.0" r="2.05" fill="#9928b0"/><circle cx="468.8" cy="318.0" r="2.05" fill="#ad15a7"/><circle cx="423.4" cy="319.7" r="2.05" fill="#8b3cc0"/><circle cx="429.5" cy="316.3" r="2.05" fill="#6a56d7"/><circle cx="469.6" cy="319.7" r="2.05" fill="#cb0096"/><circle cx="475.1" cy="319.7" r="2.05" fill="#f5006d"/><circle cx="434.5" cy="316.3" r="2.05" fill="#4166e6"/><circle cx="429.7" cy="318.0" r="2.05" fill="#7251d3"/><circle cx="454.7" cy="318.0" r="2.05" fill="#952fb5"/><circle cx="466.5" cy="319.7" r="2.05" fill="#9928b0"/><circle cx="474.5" cy="314.6" r="2.05" fill="#e7007f"/><circle cx="464.8" cy="316.3" r="2.05" fill="#8b3cc0"/><circle cx="475.9" cy="316.3" r="2.05" fill="#df0087"/><circle cx="435.7" cy="319.7" r="2.05" fill="#8047ca"/><circle cx="463.5" cy="318.0" r="2.05" fill="#8b3cc0"/><circle cx="440.1" cy="316.3" r="2.05" fill="#8047ca"/><circle cx="471.1" cy="319.7" r="2.05" fill="#f20072"/><circle cx="474.4" cy="319.7" r="2.05" fill="#cb0096"/><circle cx="428.7" cy="318.0" r="2.05" fill="#794cce"/><circle cx="462.4" cy="316.3" r="2.05" fill="#ad15a7"/><circle cx="420.9" cy="316.3" r="2.05" fill="#0078f3"/><circle cx="475.8" cy="318.0" r="2.05" fill="#cb0096"/><circle cx="422.5" cy="319.7" r="2.05" fill="#316ae9"/><circle cx="462.8" cy="316.3" r="2.05" fill="#9f21ac"/><circle cx="436.6" cy="318.0" r="2.05" fill="#794cce"/><circle cx="478.4" cy="316.3" r="2.05" fill="#9036bb"/><circle cx="443.5" cy="318.0" r="2.05" fill="#b30ca4"/><circle cx="424.9" cy="319.7" r="2.05" fill="#794cce"/><circle cx="423.3" cy="316.3" r="2.05" fill="#316ae9"/><circle cx="479.6" cy="316.3" r="2.05" fill="#f20072"/><circle cx="449.4" cy="318.0" r="2.05" fill="#9036bb"/><circle cx="454.4" cy="318.0" r="2.05" fill="#ad15a7"/><circle cx="452.4" cy="318.0" r="2.05" fill="#b30ca4"/><circle cx="471.3" cy="316.3" r="2.05" fill="#ad15a7"/><circle cx="421.9" cy="316.3" r="2.05" fill="#0082f8"/><circle cx="477.4" cy="319.7" r="2.05" fill="#ef0076"/><circle cx="470.6" cy="318.0" r="2.05" fill="#b30ca4"/><circle cx="449.9" cy="318.0" r="2.05" fill="#9928b0"/><circle cx="436.3" cy="316.3" r="2.05" fill="#6a56d7"/><circle cx="423.3" cy="318.0" r="2.05" fill="#316ae9"/><circle cx="458.7" cy="318.0" r="2.05" fill="#952fb5"/><circle cx="473.2" cy="318.0" r="2.05" fill="#c0009d"/><circle cx="479.1" cy="319.7" r="2.05" fill="#cb0096"/><circle cx="470.3" cy="316.3" r="2.05" fill="#c5009a"/><circle cx="425.9" cy="319.7" r="2.05" fill="#6a56d7"/><circle cx="466.6" cy="316.3" r="2.05" fill="#8642c5"/><circle cx="427.0" cy="319.7" r="2.05" fill="#0071ee"/><circle cx="432.6" cy="318.0" r="2.05" fill="#6a56d7"/><circle cx="422.0" cy="318.0" r="2.05" fill="#6a56d7"/><circle cx="429.9" cy="314.6" r="2.05" fill="#794cce"/><circle cx="468.3" cy="318.0" r="2.05" fill="#ad15a7"/><circle cx="468.7" cy="319.7" r="2.05" fill="#cb0096"/><circle cx="478.8" cy="318.0" r="2.05" fill="#e7007f"/><circle cx="436.1" cy="314.6" r="2.05" fill="#ba00a0"/><circle cx="474.3" cy="321.4" r="2.05" fill="#da008b"/><circle cx="437.0" cy="318.0" r="2.05" fill="#7251d3"/><circle cx="467.5" cy="316.3" r="2.05" fill="#da008b"/><circle cx="446.5" cy="318.0" r="2.05" fill="#b30ca4"/><circle cx="424.5" cy="318.0" r="2.05" fill="#008bfb"/><circle cx="441.7" cy="316.3" r="2.05" fill="#952fb5"/><circle cx="461.5" cy="318.0" r="2.05" fill="#ba00a0"/><circle cx="475.6" cy="321.4" r="2.05" fill="#e7007f"/><circle cx="442.3" cy="318.0" r="2.05" fill="#ba00a0"/><circle cx="460.2" cy="316.3" r="2.05" fill="#d00093"/><circle cx="435.7" cy="319.7" r="2.05" fill="#8b3cc0"/><circle cx="432.7" cy="316.3" r="2.05" fill="#9036bb"/><circle cx="429.9" cy="319.7" r="2.05" fill="#4e62e2"/><circle cx="477.1" cy="318.0" r="2.05" fill="#eb007a"/><circle cx="478.4" cy="319.7" r="2.05" fill="#d5008f"/><circle cx="424.4" cy="316.3" r="2.05" fill="#6a56d7"/><circle cx="430.7" cy="319.7" r="2.05" fill="#8047ca"/><circle cx="466.7" cy="319.7" r="2.05" fill="#9928b0"/><circle cx="467.2" cy="318.0" r="2.05" fill="#e7007f"/><circle cx="441.4" cy="318.0" r="2.05" fill="#6a56d7"/><circle cx="472.3" cy="318.0" r="2.05" fill="#9928b0"/><circle cx="480.9" cy="318.0" r="2.05" fill="#a61ca9"/><circle cx="425.8" cy="318.0" r="2.05" fill="#794cce"/><circle cx="475.1" cy="316.3" r="2.05" fill="#fd005f"/><circle cx="468.7" cy="316.3" r="2.05" fill="#9f21ac"/><circle cx="425.1" cy="318.0" r="2.05" fill="#186eec"/><circle cx="446.8" cy="318.0" r="2.05" fill="#8b3cc0"/><circle cx="439.5" cy="318.0" r="2.05" fill="#794cce"/><circle cx="477.1" cy="316.3" r="2.05" fill="#c5009a"/><circle cx="468.5" cy="316.3" r="2.05" fill="#a61ca9"/><circle cx="445.1" cy="318.0" r="2.05" fill="#cb0096"/><circle cx="431.6" cy="316.3" r="2.05" fill="#6a56d7"/><circle cx="478.4" cy="318.0" r="2.05" fill="#d5008f"/><circle cx="471.9" cy="319.7" r="2.05" fill="#c0009d"/><circle cx="427.3" cy="316.3" r="2.05" fill="#794cce"/><circle cx="426.7" cy="314.6" r="2.05" fill="#007ff6"/><circle cx="466.3" cy="318.0" r="2.05" fill="#9f21ac"/><circle cx="435.6" cy="318.0" r="2.05" fill="#8b3cc0"/><circle cx="471.5" cy="318.0" r="2.05" fill="#df0087"/><circle cx="472.1" cy="321.4" r="2.05" fill="#f80069"/><circle cx="420.0" cy="318.0" r="2.05" fill="#625adb"/></g>
<g><circle cx="470.1" cy="333.6" r="2.05" fill="#d00093"/><circle cx="459.6" cy="335.0" r="2.05" fill="#9928b0"/><circle cx="446.6" cy="336.5" r="2.05" fill="#625adb"/><circle cx="464.6" cy="335.0" r="2.05" fill="#a61ca9"/><circle cx="438.7" cy="336.5" r="2.05" fill="#4166e6"/><circle cx="437.7" cy="337.9" r="2.05" fill="#794cce"/><circle cx="463.3" cy="335.0" r="2.05" fill="#c0009d"/><circle cx="428.4" cy="335.0" r="2.05" fill="#007bf5"/><circle cx="466.1" cy="337.5" r="2.30" fill="#fd005f"/><circle cx="472.8" cy="335.0" r="2.05" fill="#b30ca4"/><circle cx="484.1" cy="335.0" r="2.05" fill="#9928b0"/><circle cx="448.2" cy="336.5" r="2.05" fill="#8047ca"/><circle cx="478.8" cy="335.0" r="2.05" fill="#c0009d"/><circle cx="444.7" cy="337.9" r="2.05" fill="#8047ca"/><circle cx="461.7" cy="337.9" r="2.05" fill="#cb0096"/><circle cx="474.9" cy="337.9" r="2.05" fill="#952fb5"/><circle cx="426.1" cy="336.5" r="2.05" fill="#0071ee"/><circle cx="469.9" cy="335.0" r="2.05" fill="#9036bb"/><circle cx="478.1" cy="337.9" r="2.05" fill="#ad15a7"/><circle cx="435.4" cy="336.5" r="2.05" fill="#625adb"/><circle cx="469.3" cy="336.5" r="2.05" fill="#d00093"/><circle cx="425.0" cy="335.0" r="2.05" fill="#0082f8"/><circle cx="443.7" cy="336.5" r="2.05" fill="#9036bb"/><circle cx="460.7" cy="335.0" r="2.05" fill="#b30ca4"/><circle cx="446.7" cy="336.5" r="2.05" fill="#794cce"/><circle cx="460.2" cy="337.9" r="2.05" fill="#ad15a7"/><circle cx="442.9" cy="335.0" r="2.05" fill="#8642c5"/><circle cx="441.5" cy="337.9" r="2.05" fill="#794cce"/><circle cx="436.8" cy="336.5" r="2.05" fill="#007bf5"/><circle cx="417.7" cy="333.5" r="2.30" fill="#0085f9"/><circle cx="470.3" cy="337.9" r="2.05" fill="#ba00a0"/><circle cx="429.5" cy="335.0" r="2.05" fill="#186eec"/><circle cx="438.3" cy="336.5" r="2.05" fill="#625adb"/><circle cx="470.7" cy="336.5" r="2.05" fill="#b30ca4"/><circle cx="465.9" cy="338.5" r="2.30" fill="#ff005b"/><circle cx="424.9" cy="336.5" r="2.05" fill="#007bf5"/><circle cx="473.8" cy="336.5" r="2.05" fill="#e7007f"/><circle cx="435.7" cy="336.5" r="2.05" fill="#0075f1"/><circle cx="476.3" cy="336.5" r="2.05" fill="#a61ca9"/><circle cx="460.7" cy="336.5" r="2.05" fill="#ba00a0"/><circle cx="459.5" cy="336.5" r="2.05" fill="#9928b0"/><circle cx="445.3" cy="336.5" r="2.05" fill="#625adb"/><circle cx="435.6" cy="337.9" r="2.05" fill="#0075f1"/><circle cx="463.2" cy="337.9" r="2.05" fill="#c0009d"/><circle cx="445.6" cy="335.0" r="2.05" fill="#6a56d7"/><circle cx="481.4" cy="335.0" r="2.05" fill="#ba00a0"/><circle cx="474.8" cy="336.5" r="2.05" fill="#ad15a7"/><circle cx="417.8" cy="339.5" r="2.30" fill="#0075f1"/><circle cx="429.7" cy="337.9" r="2.05" fill="#0078f3"/><circle cx="470.3" cy="335.0" r="2.05" fill="#da008b"/><circle cx="477.7" cy="336.5" r="2.05" fill="#9f21ac"/><circle cx="480.8" cy="336.5" r="2.05" fill="#ad15a7"/><circle cx="442.7" cy="336.5" r="2.05" fill="#4e62e2"/><circle cx="463.9" cy="333.6" r="2.05" fill="#ba00a0"/><circle cx="436.1" cy="337.9" r="2.05" fill="#316ae9"/><circle cx="430.0" cy="336.5" r="2.05" fill="#0078f3"/><circle cx="468.3" cy="335.0" r="2.05" fill="#9928b0"/><circle cx="472.0" cy="335.0" r="2.05" fill="#b30ca4"/><circle cx="463.5" cy="333.6" r="2.05" fill="#c5009a"/><circle cx="429.1" cy="336.5" r="2.05" fill="#0075f1"/><circle cx="449.9" cy="336.5" r="2.05" fill="#7251d3"/><circle cx="433.3" cy="333.5" r="2.30" fill="#316ae9"/><circle cx="417.9" cy="336.5" r="2.30" fill="#0085f9"/><circle cx="426.2" cy="336.5" r="2.05" fill="#0078f3"/><circle cx="433.5" cy="336.5" r="2.30" fill="#007bf5"/><circle cx="464.1" cy="337.9" r="2.05" fill="#da008b"/><circle cx="437.6" cy="335.0" r="2.05" fill="#625adb"/><circle cx="469.9" cy="337.9" r="2.05" fill="#9f21ac"/><circle cx="417.8" cy="337.5" r="2.30" fill="#007ff6"/><circle cx="433.4" cy="339.5" r="2.30" fill="#186eec"/><circle cx="473.7" cy="335.0" r="2.05" fill="#cb0096"/><circle cx="476.2" cy="335.0" r="2.05" fill="#df0087"/><circle cx="465.9" cy="331.5" r="2.30" fill="#ff005b"/><circle cx="468.2" cy="335.0" r="2.05" fill="#cb0096"/><circle cx="483.0" cy="335.0" r="2.05" fill="#c0009d"/><circle cx="479.8" cy="335.0" r="2.05" fill="#a61ca9"/><circle cx="433.3" cy="340.5" r="2.30" fill="#4166e6"/><circle cx="462.5" cy="335.0" r="2.05" fill="#c5009a"/><circle cx="466.1" cy="339.5" r="2.30" fill="#fb0064"/><circle cx="449.0" cy="336.5" r="2.05" fill="#7251d3"/><circle cx="440.5" cy="336.5" r="2.05" fill="#8642c5"/><circle cx="483.3" cy="336.5" r="2.05" fill="#9928b0"/><circle cx="461.1" cy="336.5" r="2.05" fill="#ba00a0"/><circle cx="480.7" cy="335.0" r="2.05" fill="#9036bb"/><circle cx="442.1" cy="337.9" r="2.05" fill="#952fb5"/><circle cx="417.9" cy="338.5" r="2.30" fill="#0085f9"/><circle cx="433.3" cy="335.5" r="2.30" fill="#007ff6"/><circle cx="441.9" cy="335.0" r="2.05" fill="#8047ca"/><circle cx="427.2" cy="335.0" r="2.05" fill="#0071ee"/><circle cx="463.8" cy="336.5" r="2.05" fill="#ad15a7"/><circle cx="437.7" cy="337.9" r="2.05" fill="#595edf"/><circle cx="438.3" cy="335.0" r="2.05" fill="#186eec"/><circle cx="481.6" cy="336.5" r="2.05" fill="#c5009a"/><circle cx="427.7" cy="336.5" r="2.05" fill="#007bf5"/><circle cx="440.1" cy="337.9" r="2.05" fill="#4e62e2"/><circle cx="468.2" cy="337.9" r="2.05" fill="#da008b"/><circle cx="417.8" cy="334.5" r="2.30" fill="#0088fa"/><circle cx="482.7" cy="336.5" r="2.05" fill="#c5009a"/><circle cx="436.1" cy="335.0" r="2.05" fill="#625adb"/><circle cx="429.6" cy="333.6" r="2.05" fill="#4166e6"/><circle cx="441.1" cy="335.0" r="2.05" fill="#6a56d7"/><circle cx="465.9" cy="333.5" r="2.30" fill="#ff0056"/><circle cx="461.5" cy="335.0" r="2.05" fill="#ad15a7"/><circle cx="465.9" cy="335.5" r="2.30" fill="#fb0064"/><circle cx="478.4" cy="336.5" r="2.05" fill="#9928b0"/><circle cx="477.8" cy="335.0" r="2.05" fill="#9f21ac"/><circle cx="441.1" cy="336.5" r="2.05" fill="#7251d3"/><circle cx="417.9" cy="335.5" r="2.30" fill="#0082f8"/><circle cx="440.0" cy="335.0" r="2.05" fill="#4e62e2"/><circle cx="439.1" cy="335.0" r="2.05" fill="#186eec"/><circle cx="451.3" cy="336.5" r="2.05" fill="#8047ca"/><circle cx="446.9" cy="335.0" r="2.05" fill="#9036bb"/><circle cx="433.4" cy="334.5" r="2.30" fill="#0082f8"/><circle cx="433.5" cy="337.5" r="2.30" fill="#0075f1"/><circle cx="462.3" cy="336.5" r="2.05" fill="#8b3cc0"/><circle cx="471.4" cy="336.5" r="2.05" fill="#c0009d"/><circle cx="465.9" cy="334.5" r="2.30" fill="#f80069"/><circle cx="423.3" cy="336.5" r="2.05" fill="#007ff6"/><circle cx="427.7" cy="335.0" r="2.05" fill="#007ff6"/><circle cx="423.6" cy="335.0" r="2.05" fill="#0085f9"/><circle cx="444.6" cy="335.0" r="2.05" fill="#8642c5"/><circle cx="465.9" cy="340.5" r="2.30" fill="#f20072"/><circle cx="468.9" cy="336.5" r="2.05" fill="#9f21ac"/><circle cx="472.4" cy="337.9" r="2.05" fill="#ad15a7"/><circle cx="433.3" cy="338.5" r="2.30" fill="#186eec"/><circle cx="476.2" cy="336.5" r="2.05" fill="#b30ca4"/><circle cx="479.8" cy="336.5" r="2.05" fill="#ba00a0"/><circle cx="465.9" cy="341.5" r="2.30" fill="#fb0064"/><circle cx="443.1" cy="336.5" r="2.05" fill="#4166e6"/><circle cx="433.5" cy="332.5" r="2.30" fill="#4166e6"/><circle cx="463.1" cy="336.5" r="2.05" fill="#ba00a0"/><circle cx="474.3" cy="335.0" r="2.05" fill="#c5009a"/><circle cx="467.3" cy="336.5" r="2.05" fill="#d00093"/><circle cx="472.5" cy="336.5" r="2.05" fill="#9928b0"/><circle cx="466.0" cy="336.5" r="2.30" fill="#fb0064"/><circle cx="452.5" cy="336.5" r="2.05" fill="#9036bb"/><circle cx="446.1" cy="335.0" r="2.05" fill="#794cce"/><circle cx="435.6" cy="335.0" r="2.05" fill="#0071ee"/><circle cx="465.9" cy="332.5" r="2.30" fill="#f5006d"/></g>
<g><circle cx="470.3" cy="354.9" r="2.05" fill="#186eec"/><circle cx="471.0" cy="353.4" r="2.05" fill="#186eec"/><circle cx="427.6" cy="351.9" r="2.30" fill="#f5006d"/><circle cx="449.1" cy="354.9" r="2.05" fill="#e7007f"/><circle cx="434.6" cy="354.9" r="2.30" fill="#ff0056"/><circle cx="482.4" cy="351.9" r="2.30" fill="#ad15a7"/><circle cx="478.5" cy="351.9" r="2.30" fill="#316ae9"/><circle cx="466.5" cy="350.9" r="2.30" fill="#0075f1"/><circle cx="482.5" cy="355.9" r="2.30" fill="#0078f3"/><circle cx="466.5" cy="349.9" r="2.30" fill="#0078f3"/><circle cx="418.1" cy="351.9" r="2.30" fill="#ff005b"/><circle cx="442.9" cy="354.9" r="2.05" fill="#d5008f"/><circle cx="463.0" cy="357.8" r="2.05" fill="#0078f3"/><circle cx="463.1" cy="356.3" r="2.05" fill="#007ff6"/><circle cx="482.6" cy="353.9" r="2.30" fill="#595edf"/><circle cx="431.1" cy="353.9" r="2.30" fill="#ff005b"/><circle cx="446.2" cy="354.9" r="2.05" fill="#e7007f"/><circle cx="423.4" cy="356.9" r="2.30" fill="#fd005f"/><circle cx="444.1" cy="354.9" r="2.05" fill="#df0087"/><circle cx="418.0" cy="355.9" r="2.30" fill="#fd005f"/><circle cx="460.9" cy="356.3" r="2.05" fill="#0088fa"/><circle cx="461.5" cy="354.9" r="2.05" fill="#625adb"/><circle cx="418.0" cy="357.9" r="2.30" fill="#fd005f"/><circle cx="461.2" cy="353.4" r="2.05" fill="#008bfb"/><circle cx="427.6" cy="355.9" r="2.30" fill="#f80069"/><circle cx="431.0" cy="352.9" r="2.30" fill="#ff005b"/><circle cx="478.4" cy="355.9" r="2.30" fill="#8b3cc0"/><circle cx="417.9" cy="352.9" r="2.30" fill="#ff0051"/><circle cx="423.5" cy="354.9" r="2.30" fill="#fd005f"/><circle cx="434.4" cy="356.9" r="2.30" fill="#f80069"/><circle cx="427.4" cy="356.9" r="2.30" fill="#fd005f"/><circle cx="466.4" cy="357.9" r="2.30" fill="#0078f3"/><circle cx="466.5" cy="359.9" r="2.30" fill="#007ff6"/><circle cx="463.5" cy="352.0" r="2.05" fill="#0075f1"/><circle cx="466.5" cy="358.9" r="2.30" fill="#0088fa"/><circle cx="461.9" cy="353.4" r="2.05" fill="#007ff6"/><circle cx="466.4" cy="353.9" r="2.30" fill="#0078f3"/><circle cx="431.0" cy="355.9" r="2.30" fill="#f80069"/><circle cx="417.9" cy="353.9" r="2.30" fill="#f80069"/><circle cx="418.0" cy="356.9" r="2.30" fill="#f5006d"/><circle cx="469.9" cy="353.4" r="2.05" fill="#0071ee"/><circle cx="478.6" cy="354.9" r="2.30" fill="#8b3cc0"/><circle cx="466.6" cy="351.9" r="2.30" fill="#0075f1"/><circle cx="423.4" cy="351.9" r="2.30" fill="#ff005b"/><circle cx="478.4" cy="356.9" r="2.30" fill="#0075f1"/><circle cx="470.0" cy="354.9" r="2.05" fill="#316ae9"/><circle cx="431.1" cy="356.9" r="2.30" fill="#ff005b"/><circle cx="469.7" cy="356.3" r="2.05" fill="#0085f9"/><circle cx="463.4" cy="353.4" r="2.05" fill="#007bf5"/><circle cx="480.5" cy="354.9" r="2.10" fill="#186eec"/><circle cx="463.0" cy="354.9" r="2.05" fill="#0078f3"/><circle cx="466.4" cy="355.9" r="2.30" fill="#625adb"/><circle cx="452.4" cy="354.9" r="2.05" fill="#d5008f"/><circle cx="427.5" cy="357.9" r="2.30" fill="#fd005f"/><circle cx="431.1" cy="354.9" r="2.30" fill="#fb0064"/><circle cx="446.0" cy="354.9" r="2.05" fill="#da008b"/><circle cx="434.4" cy="351.9" r="2.30" fill="#f80069"/><circle cx="469.4" cy="357.8" r="2.05" fill="#0082f8"/><circle cx="444.4" cy="354.9" r="2.05" fill="#e7007f"/><circle cx="423.5" cy="355.9" r="2.30" fill="#f80069"/><circle cx="482.5" cy="354.9" r="2.30" fill="#952fb5"/><circle cx="431.1" cy="351.9" r="2.30" fill="#fb0064"/><circle cx="427.5" cy="354.9" r="2.30" fill="#f80069"/><circle cx="466.6" cy="352.9" r="2.30" fill="#316ae9"/><circle cx="423.6" cy="352.9" r="2.30" fill="#fd005f"/><circle cx="474.9" cy="354.9" r="2.05" fill="#0071ee"/><circle cx="462.4" cy="354.9" r="2.05" fill="#0085f9"/><circle cx="461.7" cy="356.3" r="2.05" fill="#0078f3"/><circle cx="423.5" cy="353.9" r="2.30" fill="#f80069"/><circle cx="454.0" cy="354.9" r="2.05" fill="#da008b"/><circle cx="478.6" cy="352.9" r="2.30" fill="#952fb5"/><circle cx="434.4" cy="355.9" r="2.30" fill="#ff005b"/><circle cx="470.1" cy="352.0" r="2.05" fill="#008bfb"/><circle cx="472.9" cy="354.9" r="2.05" fill="#0078f3"/><circle cx="463.1" cy="350.5" r="2.05" fill="#186eec"/><circle cx="466.6" cy="354.9" r="2.30" fill="#0085f9"/><circle cx="427.4" cy="352.9" r="2.30" fill="#ff0051"/><circle cx="418.0" cy="354.9" r="2.30" fill="#f80069"/><circle cx="482.6" cy="352.9" r="2.30" fill="#8047ca"/><circle cx="441.8" cy="354.9" r="2.05" fill="#df0087"/><circle cx="450.4" cy="354.9" r="2.05" fill="#f5006d"/><circle cx="434.5" cy="352.9" r="2.30" fill="#f80069"/><circle cx="447.4" cy="354.9" r="2.05" fill="#d5008f"/><circle cx="462.2" cy="352.0" r="2.05" fill="#0088fa"/><circle cx="451.3" cy="354.9" r="2.05" fill="#da008b"/><circle cx="473.4" cy="354.9" r="2.05" fill="#0078f3"/><circle cx="434.6" cy="353.9" r="2.30" fill="#fd005f"/><circle cx="466.6" cy="356.9" r="2.30" fill="#316ae9"/><circle cx="472.0" cy="354.9" r="2.05" fill="#0085f9"/><circle cx="478.5" cy="353.9" r="2.30" fill="#794cce"/><circle cx="482.6" cy="356.9" r="2.30" fill="#a61ca9"/><circle cx="449.4" cy="354.9" r="2.05" fill="#fd005f"/><circle cx="427.6" cy="353.9" r="2.30" fill="#ff005b"/></g>
<g><circle cx="425.7" cy="375.3" r="2.30" fill="#f80069"/><circle cx="465.7" cy="368.3" r="2.30" fill="#4166e6"/><circle cx="465.5" cy="371.3" r="2.30" fill="#625adb"/><circle cx="425.6" cy="377.3" r="2.30" fill="#e7007f"/><circle cx="425.7" cy="370.3" r="2.30" fill="#eb007a"/><circle cx="425.8" cy="379.3" r="2.30" fill="#ba00a0"/><circle cx="434.5" cy="371.3" r="2.30" fill="#df0087"/><circle cx="425.6" cy="372.3" r="2.30" fill="#fd005f"/><circle cx="465.5" cy="376.3" r="2.30" fill="#0088fa"/><circle cx="434.7" cy="373.3" r="2.30" fill="#cb0096"/><circle cx="456.3" cy="373.3" r="2.30" fill="#186eec"/><circle cx="474.9" cy="374.3" r="2.30" fill="#952fb5"/><circle cx="465.5" cy="373.3" r="2.30" fill="#0078f3"/><circle cx="434.7" cy="375.3" r="2.30" fill="#df0087"/><circle cx="434.5" cy="372.3" r="2.30" fill="#c5009a"/><circle cx="474.7" cy="372.3" r="2.30" fill="#8b3cc0"/><circle cx="425.6" cy="376.3" r="2.30" fill="#e30083"/><circle cx="456.1" cy="374.3" r="2.30" fill="#0082f8"/><circle cx="474.8" cy="371.3" r="2.30" fill="#794cce"/><circle cx="456.3" cy="371.3" r="2.30" fill="#186eec"/><circle cx="425.7" cy="378.3" r="2.30" fill="#f80069"/><circle cx="465.7" cy="378.3" r="2.30" fill="#186eec"/><circle cx="465.5" cy="375.3" r="2.30" fill="#0075f1"/><circle cx="425.7" cy="371.3" r="2.30" fill="#e30083"/><circle cx="474.9" cy="373.3" r="2.30" fill="#8047ca"/><circle cx="425.7" cy="366.3" r="2.30" fill="#da008b"/><circle cx="425.6" cy="373.3" r="2.30" fill="#f20072"/><circle cx="425.8" cy="368.3" r="2.30" fill="#e7007f"/><circle cx="434.7" cy="370.3" r="2.30" fill="#da008b"/><circle cx="465.7" cy="369.3" r="2.30" fill="#8047ca"/><circle cx="425.6" cy="374.3" r="2.30" fill="#df0087"/><circle cx="465.5" cy="372.3" r="2.30" fill="#0085f9"/><circle cx="456.3" cy="375.3" r="2.30" fill="#595edf"/><circle cx="456.1" cy="372.3" r="2.30" fill="#0075f1"/><circle cx="465.6" cy="370.3" r="2.30" fill="#4e62e2"/><circle cx="434.7" cy="374.3" r="2.30" fill="#cb0096"/><circle cx="465.7" cy="374.3" r="2.30" fill="#186eec"/><circle cx="446.0" cy="373.3" r="2.10" fill="#f5006d"/><circle cx="465.6" cy="377.3" r="2.30" fill="#0088fa"/><circle cx="425.8" cy="369.3" r="2.30" fill="#e30083"/><circle cx="425.7" cy="367.3" r="2.30" fill="#f20072"/><circle cx="474.7" cy="375.3" r="2.30" fill="#ba00a0"/><circle cx="474.8" cy="370.3" r="2.30" fill="#c0009d"/></g>
</g>
<line class="ax" x1="285.8" x2="620.6" y1="392.5" y2="392.5"/>
<g class="ax"><line x1="297.5" x2="297.5" y1="392.5" y2="396"/><line x1="335.5" x2="335.5" y1="392.5" y2="396"/><line x1="374.5" x2="374.5" y1="392.5" y2="396"/><line x1="412.5" x2="412.5" y1="392.5" y2="396"/><line x1="451.5" x2="451.5" y1="392.5" y2="396"/><line x1="489.5" x2="489.5" y1="392.5" y2="396"/><line x1="528.5" x2="528.5" y1="392.5" y2="396"/><line x1="566.5" x2="566.5" y1="392.5" y2="396"/><line x1="605.5" x2="605.5" y1="392.5" y2="396"/></g>
<g class="xt"><text x="297.2" y="407.8">−0.8</text><text x="335.7" y="407.8">−0.6</text><text x="374.2" y="407.8">−0.4</text><text x="412.7" y="407.8">−0.2</text><text x="451.2" y="407.8">0.0</text><text x="489.7" y="407.8">0.2</text><text x="528.2" y="407.8">0.4</text><text x="566.7" y="407.8">0.6</text><text x="605.2" y="407.8">0.8</text></g>
<text class="xl" x="453.1" y="424">SHAP value (impact on model output)</text>
<g class="yl">
<text x="262.5" y="28.3">Task7_Speed_Discrete_Coeffficient</text>
<text x="262.5" y="46.8">Task19_Angle_X_Sum</text>
<text x="262.5" y="65.2">Task8_Pressure_Min</text>
<text x="262.5" y="83.6">Task19_Speed_Len</text>
<text x="262.5" y="102.1">Task5_Y_Coordinate_Interquantile_Range</text>
<text x="262.5" y="120.5">Task18_Speed_Median</text>
<text x="262.5" y="138.9">Task18_Pressure_Len</text>
<text x="262.5" y="157.4">Task17_Angle_Y_Discrete_Coeffficient</text>
<text x="262.5" y="175.8">Task14_Pressure_Len</text>
<text x="262.5" y="194.2">Task20_Angle_Y_Std</text>
<text x="262.5" y="212.7">Task18_Speed_Discrete_Coeffficient</text>
<text x="262.5" y="231.1">Task4_Pressure_Max</text>
<text x="262.5" y="249.5">Task21_Angle_Y_Interquantile_Range</text>
<text x="262.5" y="267.9">Task7_Speed_Len</text>
<text x="262.5" y="286.4">Task19_Speed_Sum</text>
<text x="262.5" y="304.8">Task18_Y_Coordinate_Range</text>
<text x="262.5" y="323.2">Task1_Y_Coordinate_Quantile_Lower</text>
<text x="262.5" y="341.7">Task3_Y_Coordinate_Quantile_Upper</text>
<text x="262.5" y="360.1">Task10_X_Coordinate_Quantile_Lower</text>
<text x="262.5" y="378.5">Task12_Speed_Discrete_Coeffficient</text>
</g>
<rect x="641" y="5" width="5.2" height="387" fill="url(#cbg)"/>
<text class="cb" x="650.2" y="9.2">High</text>
<text class="cb" x="650.2" y="395.8">Low</text>
<text class="fv" transform="translate(684.2 199.7) rotate(-90)">Feature value</text>
</g>
</svg>
</body></html>
